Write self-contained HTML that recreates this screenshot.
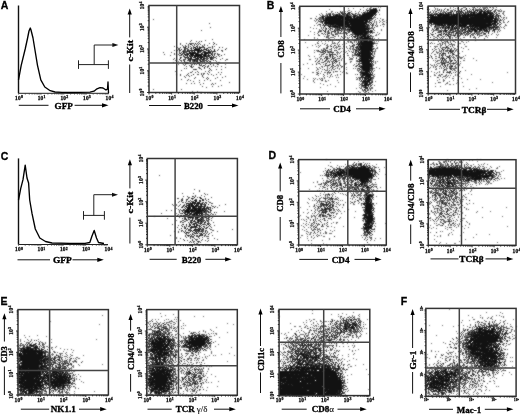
<!DOCTYPE html><html><head><meta charset="utf-8"><style>html,body{margin:0;padding:0;background:#fff;}svg{display:block;filter:grayscale(1);}</style></head><body>
<svg width="520" height="414" viewBox="0 0 520 414">
<defs><filter id="bl" color-interpolation-filters="sRGB" x="0" y="0" width="520" height="414" filterUnits="userSpaceOnUse"><feConvolveMatrix order="3" kernelMatrix="1 2 1 2 12 2 1 2 1" divisor="24" edgeMode="duplicate"/></filter></defs>
<g filter="url(#bl)">
<rect width="520" height="414" fill="#fff"/>
<path d="M201 41h1M195 43h1M214 43h1M190 44h1M196 46h1M212 46h1M185 47h1M188 47h1M194 47h2M197 47h1M199 47h3M204 47h1M219 47h1M191 48h1M193 48h1M195 48h1M199 48h1M207 48h1M181 49h1M184 49h1M194 49h6M201 49h1M204 49h3M210 49h1M214 49h1M225 49h1M179 50h1M187 50h1M190 50h13M206 50h1M208 50h1M214 50h1M183 51h1M187 51h1M189 51h1M194 51h1M197 51h2M200 51h1M204 51h1M208 51h1M213 51h2M183 52h1M189 52h2M192 52h4M197 52h2M204 52h7M212 52h1M180 53h1M187 53h1M189 53h9M201 53h1M204 53h4M181 54h1M184 54h2M187 54h2M190 54h4M195 54h8M204 54h2M208 54h1M211 54h1M214 54h1M185 55h1M187 55h1M189 55h1M191 55h11M203 55h3M208 55h2M212 55h1M221 55h1M187 56h1M190 56h1M192 56h1M194 56h5M200 56h3M204 56h3M208 56h1M213 56h1M180 57h1M185 57h2M188 57h1M191 57h1M193 57h3M197 57h1M199 57h4M210 57h2M180 58h1M190 58h2M196 58h3M200 58h2M203 58h2M210 58h1M179 59h1M188 59h1M190 59h1M192 59h4M197 59h1M202 59h2M210 59h2M190 60h1M194 60h1M197 60h1M200 60h1M184 61h1M190 61h1M194 61h1M196 61h2M200 61h2M207 61h1M210 61h1M197 62h1M204 62h1M190 63h1M194 63h2M197 63h1M209 63h1M199 64h1M210 64h1M203 65h1M191 66h1M202 66h1M204 67h1M209 68h1M195 69h1M193 74h1" stroke="#121212" stroke-width="1" transform="translate(0 0.5)"/>
<path d="M153 19h1M209 23h1M210 27h1M201 30h1M212 39h1M191 40h1M205 40h1M190 41h1M196 41h1M199 41h1M198 42h1M213 42h1M180 43h1M186 43h1M189 43h5M197 43h1M199 43h1M209 43h1M180 44h1M188 44h1M191 44h1M194 44h1M196 44h1M198 44h1M200 44h1M204 44h1M213 44h1M216 44h1M182 45h1M185 45h1M188 45h1M192 45h1M194 45h1M197 45h1M202 45h1M204 45h1M207 45h1M174 46h1M183 46h1M185 46h2M188 46h1M190 46h1M193 46h1M197 46h1M199 46h1M202 46h2M214 46h1M177 47h1M180 47h1M183 47h2M191 47h1M193 47h1M202 47h2M208 47h3M212 47h1M222 47h1M178 48h2M184 48h4M190 48h1M196 48h3M200 48h1M204 48h1M206 48h1M212 48h1M226 48h1M178 49h2M185 49h1M187 49h2M191 49h1M203 49h1M208 49h1M218 49h1M174 50h1M176 50h2M180 50h1M183 50h3M188 50h2M203 50h1M207 50h1M209 50h1M211 50h1M217 50h1M221 50h2M179 51h1M182 51h1M184 51h3M188 51h1M191 51h2M199 51h1M201 51h1M203 51h1M205 51h1M209 51h4M215 51h1M222 51h1M163 52h1M171 52h1M179 52h1M181 52h1M184 52h3M191 52h1M199 52h2M202 52h2M174 53h1M179 53h1M182 53h3M186 53h1M188 53h1M198 53h1M202 53h1M208 53h5M214 53h2M217 53h1M164 54h1M174 54h1M176 54h1M178 54h1M182 54h1M186 54h1M203 54h1M206 54h1M212 54h1M217 54h3M224 54h1M170 55h1M179 55h3M183 55h1M186 55h1M190 55h1M206 55h2M210 55h1M214 55h1M218 55h1M183 56h2M189 56h1M191 56h1M199 56h1M203 56h1M207 56h1M209 56h1M211 56h1M216 56h1M219 56h1M181 57h1M184 57h1M187 57h1M190 57h1M198 57h1M203 57h2M206 57h2M209 57h1M212 57h4M174 58h1M185 58h1M187 58h3M195 58h1M205 58h4M211 58h3M216 58h1M222 58h1M173 59h1M176 59h1M183 59h3M189 59h1M191 59h1M196 59h1M198 59h4M204 59h1M206 59h2M212 59h1M220 59h1M226 59h2M175 60h1M180 60h2M183 60h2M187 60h3M192 60h2M195 60h2M199 60h1M202 60h5M208 60h1M213 60h1M215 60h1M225 60h1M178 61h1M181 61h1M189 61h1M192 61h2M195 61h1M202 61h3M206 61h1M209 61h1M216 61h1M173 62h1M176 62h1M184 62h4M193 62h1M198 62h3M202 62h1M208 62h1M210 62h1M218 62h2M182 63h1M185 63h4M193 63h1M198 63h2M206 63h1M211 63h1M216 63h2M178 64h1M183 64h1M185 64h1M191 64h2M194 64h1M196 64h1M201 64h1M205 64h1M213 64h1M217 64h2M225 64h1M184 65h1M189 65h1M191 65h1M199 65h3M204 65h1M208 65h1M213 65h1M186 66h1M190 66h1M193 66h1M205 66h1M207 66h2M211 66h1M215 66h1M217 66h1M221 66h1M191 67h2M198 67h2M207 67h1M225 67h1M184 68h1M186 68h1M199 68h2M204 68h1M193 69h2M196 69h1M201 69h1M210 69h1M216 69h1M221 69h1M181 70h1M209 70h1M211 70h1M175 71h1M192 71h1M197 71h1M205 71h1M208 71h1M190 72h2M195 72h1M198 72h1M209 72h1M218 72h1M221 72h1M188 73h1M201 73h1M203 73h2M207 73h1M176 74h1M180 74h1M187 74h1M197 74h2M201 74h1M203 74h1M208 74h1M211 74h1M216 74h1M220 74h1M180 75h1M186 75h1M188 75h1M191 75h1M202 75h1M213 75h1M184 76h1M189 76h1M202 76h1M225 76h1M185 77h1M195 77h1M203 77h1M207 77h1M217 77h1M222 77h1M194 78h1M206 78h1M208 78h1M215 78h1M181 79h1M188 79h1M207 79h1M187 80h1M190 80h1M199 80h1M204 80h1M210 80h1M220 80h1M193 81h1M199 82h1M229 82h1M186 83h1M191 83h1M194 83h1M203 83h1M212 83h1M215 83h1M200 84h1M211 84h1M213 84h1M221 85h1M202 86h1M212 86h1M218 86h1M206 87h1M153 89h1M181 89h1M192 91h1M197 91h1M199 92h1M201 92h1" stroke="#4b4b4b" stroke-width="1" transform="translate(0 0.5)"/>
<path d="M373 8h1M375 8h1M372 9h5M367 10h2M370 10h7M379 10h1M369 11h8M349 12h1M367 12h9M344 13h2M347 13h1M364 13h1M366 13h10M330 14h1M336 14h2M339 14h1M343 14h1M347 14h1M352 14h1M362 14h11M374 14h1M327 15h1M329 15h2M333 15h1M335 15h3M339 15h1M341 15h1M346 15h2M355 15h1M359 15h1M362 15h12M375 15h1M322 16h1M327 16h1M330 16h15M346 16h5M353 16h2M357 16h1M361 16h12M322 17h2M325 17h1M327 17h10M338 17h14M353 17h2M356 17h14M371 17h1M323 18h1M325 18h24M350 18h2M354 18h4M359 18h13M323 19h1M325 19h16M342 19h27M323 20h22M346 20h22M322 21h1M325 21h2M328 21h20M349 21h15M365 21h3M369 21h1M322 22h1M325 22h42M324 23h25M350 23h17M323 24h1M330 24h4M336 24h29M366 24h1M330 25h1M335 25h1M338 25h7M347 25h3M351 25h15M324 26h1M328 26h3M332 26h6M339 26h1M342 26h1M345 26h21M367 26h1M334 27h1M337 27h1M339 27h1M342 27h1M346 27h1M348 27h17M367 27h1M326 28h1M330 28h1M340 28h1M343 28h2M350 28h17M368 28h1M347 29h1M349 29h19M323 30h1M325 30h1M328 30h1M334 30h1M349 30h1M351 30h15M368 30h1M370 30h1M335 31h1M341 31h1M353 31h16M371 31h1M345 32h1M352 32h15M370 32h2M354 33h9M364 33h3M335 34h1M355 34h11M333 35h1M357 35h2M360 35h1M363 35h3M370 35h1M351 36h1M354 36h2M357 36h1M361 36h5M367 36h3M357 37h1M360 37h2M364 37h5M356 38h2M360 38h1M362 38h6M369 38h2M357 39h1M359 39h1M362 39h8M372 39h1M358 40h1M360 40h8M369 40h2M372 40h2M358 41h1M361 41h1M364 41h8M358 42h1M360 42h13M352 43h1M359 43h1M361 43h12M356 44h1M358 44h2M361 44h11M358 45h1M360 45h1M362 45h10M331 46h1M357 46h1M359 46h14M360 47h12M358 48h1M360 48h12M359 49h14M325 50h1M355 50h2M359 50h1M361 50h11M324 51h1M358 51h1M361 51h9M371 51h1M325 52h1M352 52h1M358 52h2M361 52h10M357 53h1M359 53h11M371 53h1M359 54h1M361 54h9M371 54h1M330 55h1M358 55h2M361 55h10M360 56h11M361 57h9M371 57h2M324 58h1M356 58h1M360 58h12M361 59h8M370 59h1M360 60h11M335 61h1M359 61h1M361 61h9M334 62h1M362 62h8M371 62h1M361 63h10M358 64h1M362 64h9M325 65h1M328 65h1M333 65h1M363 65h7M371 65h1M359 66h1M361 66h11M360 67h1M362 67h8M362 68h8M363 69h7M363 70h6M365 71h5M371 71h1M330 72h1M360 72h1M362 72h6M362 73h7M370 73h1M363 74h9M362 75h3M366 75h4M361 76h1M365 76h6M363 77h3M368 77h2M362 78h1M364 78h2M367 78h2M370 78h1M366 79h1M368 79h3M361 80h1M363 80h1M365 80h1M367 80h3M363 81h7M365 82h1M367 82h1M369 82h1M365 83h3M364 84h3M368 84h2M362 85h5M368 85h1M365 86h1M364 87h2M367 87h1M367 88h1M364 89h1" stroke="#121212" stroke-width="1" transform="translate(0 0.5)"/>
<path d="M360 9h1M370 9h2M340 11h1M367 11h1M337 12h1M341 12h2M344 12h1M348 12h1M363 12h2M376 12h1M330 13h1M339 13h1M341 13h2M348 13h2M351 13h1M355 13h1M365 13h1M329 14h1M332 14h1M342 14h1M346 14h1M349 14h1M353 14h1M359 14h1M373 14h1M338 15h1M340 15h1M348 15h1M353 15h2M356 15h1M360 15h2M323 16h2M328 16h2M355 16h1M358 16h3M320 17h1M326 17h1M337 17h1M370 17h1M315 18h1M322 18h1M349 18h1M352 18h2M358 18h1M372 18h1M319 19h1M341 19h1M369 19h1M345 20h1M369 20h2M319 21h1M321 21h1M323 21h1M327 21h1M348 21h1M324 22h1M368 22h1M370 22h1M322 23h1M371 23h1M373 23h1M319 24h2M325 24h2M328 24h2M334 24h2M367 24h2M370 24h1M372 24h1M324 25h2M327 25h2M332 25h3M336 25h2M345 25h2M367 25h2M372 25h1M375 25h1M331 26h1M338 26h1M340 26h2M343 26h2M366 26h1M372 26h1M323 27h1M329 27h1M335 27h2M338 27h1M340 27h1M343 27h2M365 27h2M374 27h1M335 28h1M337 28h1M339 28h1M341 28h2M345 28h1M367 28h1M369 28h2M332 29h1M337 29h3M341 29h1M345 29h1M348 29h1M368 29h1M373 29h1M337 30h1M339 30h2M371 30h1M320 31h1M324 31h2M328 31h1M332 31h2M349 31h1M351 31h2M369 31h2M318 32h1M325 32h1M331 32h1M338 32h1M348 32h1M367 32h2M322 33h1M328 33h2M331 33h1M340 33h1M346 33h1M363 33h1M367 33h1M325 34h1M327 34h1M346 34h1M351 34h1M354 34h1M366 34h1M319 35h1M352 35h1M355 35h1M362 35h1M367 35h2M341 36h1M353 36h1M326 37h1M354 37h2M359 37h1M362 37h1M343 38h1M361 38h1M368 38h1M372 38h1M356 39h1M358 39h1M370 39h2M373 39h1M330 40h1M332 40h1M354 40h2M350 41h1M360 41h1M363 41h1M338 42h1M357 43h1M360 43h1M373 43h2M360 44h1M372 44h1M334 45h1M352 45h1M354 45h1M361 45h1M372 45h1M338 46h1M352 46h1M327 47h1M353 47h1M355 47h3M359 47h1M326 48h1M331 48h1M356 48h1M373 48h1M354 49h1M358 49h1M318 50h1M323 50h1M327 50h1M334 50h1M336 50h1M344 50h1M319 51h1M330 51h1M355 51h1M360 51h1M372 51h1M321 52h2M328 52h1M331 52h3M355 52h2M360 52h1M372 52h1M324 53h1M347 53h1M355 53h1M370 53h1M374 53h1M322 54h1M326 54h1M329 54h4M334 54h2M343 54h1M355 54h4M370 54h1M332 55h1M356 55h1M360 55h1M327 56h1M330 56h1M332 56h1M337 56h1M325 57h1M332 57h1M370 57h1M326 58h2M332 58h2M339 58h1M372 58h1M326 59h1M331 59h1M335 59h1M358 59h2M372 59h1M325 60h1M334 60h1M359 60h1M371 60h1M315 61h1M318 61h1M324 61h1M336 61h1M357 61h2M360 61h1M370 61h3M323 62h1M329 62h1M332 62h1M339 62h1M319 63h1M326 63h1M332 63h1M360 63h1M372 63h1M316 64h1M332 64h1M371 64h1M340 65h1M357 65h1M362 65h1M370 65h1M331 66h1M342 66h1M356 66h1M361 67h1M371 67h1M332 68h1M358 68h2M370 68h3M324 69h1M360 69h1M362 69h1M372 69h1M329 70h1M361 70h1M369 70h2M335 71h1M361 71h1M327 72h1M361 72h1M369 72h1M318 73h1M361 73h1M372 73h1M323 74h1M331 74h1M357 74h1M360 74h1M362 74h1M365 75h1M370 75h1M362 76h1M360 77h3M366 77h2M370 77h3M359 78h1M366 78h1M371 78h1M362 79h1M364 79h2M322 80h1M364 80h1M370 80h1M362 81h1M372 81h1M362 82h3M366 82h1M371 82h2M362 83h1M364 83h1M369 83h2M367 84h1M367 85h1M371 85h1M368 86h1M370 86h1M366 87h1M365 88h2M362 89h1M370 89h1M365 90h1M367 90h1M366 91h1M368 92h1M366 93h1" stroke="#2d2d2d" stroke-width="1" transform="translate(0 0.5)"/>
<path d="M340 6h1M373 6h1M376 6h1M363 7h1M370 7h2M378 7h1M380 7h1M348 8h1M353 8h1M367 8h1M369 8h2M374 8h1M376 8h1M329 9h1M366 9h1M369 9h1M379 9h1M348 10h2M363 10h1M366 10h1M369 10h1M377 10h1M326 11h1M331 11h2M342 11h1M345 11h1M347 11h1M351 11h1M355 11h1M359 11h1M365 11h1M377 11h1M331 12h1M335 12h1M340 12h1M350 12h1M358 12h1M361 12h1M365 12h2M378 12h1M321 13h1M326 13h1M328 13h2M332 13h2M338 13h1M343 13h1M352 13h1M356 13h1M358 13h1M362 13h2M319 14h1M322 14h1M326 14h3M333 14h3M338 14h1M340 14h1M344 14h2M348 14h1M350 14h1M354 14h2M357 14h2M360 14h1M375 14h2M379 14h1M320 15h1M322 15h2M325 15h2M334 15h1M342 15h4M349 15h3M357 15h1M316 16h1M321 16h1M325 16h2M345 16h1M351 16h2M356 16h1M374 16h1M319 17h1M321 17h1M355 17h1M373 17h3M310 18h2M318 18h4M324 18h1M373 18h1M377 18h1M380 18h1M316 19h2M320 19h3M324 19h1M370 19h3M375 19h1M382 19h2M314 20h1M316 20h1M318 20h1M320 20h2M371 20h1M374 20h1M379 20h1M382 20h1M386 20h1M315 21h1M318 21h1M320 21h1M324 21h1M364 21h1M368 21h1M372 21h1M374 21h1M376 21h1M380 21h1M383 21h2M317 22h1M320 22h2M367 22h1M369 22h1M371 22h1M374 22h1M376 22h1M379 22h1M382 22h1M386 22h1M316 23h1M349 23h1M369 23h1M376 23h1M383 23h1M318 24h1M327 24h1M365 24h1M373 24h1M376 24h1M382 24h3M314 25h1M317 25h1M320 25h1M322 25h2M326 25h1M329 25h1M331 25h1M350 25h1M366 25h1M369 25h1M371 25h1M373 25h1M377 25h1M380 25h1M320 26h1M368 26h2M376 26h2M383 26h1M310 27h1M321 27h1M325 27h1M330 27h1M332 27h2M345 27h1M347 27h1M368 27h2M371 27h2M313 28h1M316 28h1M321 28h1M323 28h1M325 28h1M328 28h1M331 28h2M336 28h1M338 28h1M347 28h3M371 28h3M319 29h1M322 29h1M325 29h2M329 29h2M334 29h3M342 29h3M346 29h1M369 29h1M381 29h1M319 30h3M330 30h1M335 30h2M338 30h1M341 30h2M344 30h5M350 30h1M366 30h2M372 30h1M374 30h1M381 30h1M310 31h1M318 31h2M321 31h1M327 31h1M331 31h1M334 31h1M337 31h2M344 31h1M347 31h2M350 31h1M372 31h1M314 32h1M327 32h3M334 32h2M337 32h1M340 32h1M343 32h2M346 32h1M349 32h1M369 32h1M372 32h3M377 32h1M317 33h1M321 33h1M324 33h1M327 33h1M335 33h5M341 33h3M345 33h1M347 33h1M352 33h2M368 33h1M370 33h1M372 33h1M379 33h1M314 34h1M318 34h1M323 34h1M331 34h3M336 34h2M350 34h1M352 34h2M367 34h3M376 34h1M378 34h1M308 35h1M318 35h1M327 35h3M332 35h1M338 35h1M344 35h1M347 35h1M349 35h1M356 35h1M359 35h1M361 35h1M366 35h1M371 35h1M375 35h2M324 36h1M326 36h3M334 36h2M338 36h1M345 36h1M356 36h1M358 36h3M366 36h1M370 36h4M314 37h1M327 37h2M330 37h4M342 37h1M345 37h1M347 37h1M349 37h1M352 37h1M358 37h1M363 37h1M369 37h2M372 37h1M314 38h1M317 38h1M328 38h2M334 38h1M340 38h1M347 38h2M352 38h1M358 38h2M371 38h1M374 38h1M378 38h1M304 39h1M323 39h1M326 39h1M328 39h1M330 39h1M336 39h1M338 39h1M352 39h1M354 39h2M360 39h2M339 40h1M348 40h2M353 40h1M356 40h1M371 40h1M318 41h1M321 41h1M325 41h1M328 41h1M332 41h1M339 41h1M347 41h2M351 41h1M354 41h1M356 41h1M359 41h1M362 41h1M372 41h1M374 41h1M376 41h1M378 41h1M305 42h1M317 42h1M332 42h1M334 42h1M344 42h1M348 42h1M350 42h3M354 42h1M356 42h1M359 42h1M373 42h2M317 43h2M322 43h1M325 43h1M332 43h4M337 43h1M344 43h1M346 43h1M358 43h1M375 43h3M315 44h1M324 44h1M327 44h1M331 44h1M337 44h1M339 44h1M342 44h1M344 44h1M353 44h2M357 44h1M373 44h1M312 45h1M318 45h1M320 45h1M326 45h2M330 45h1M335 45h1M338 45h1M349 45h1M353 45h1M359 45h1M376 45h1M316 46h1M319 46h1M327 46h2M330 46h1M333 46h1M336 46h1M339 46h2M343 46h1M346 46h1M350 46h2M353 46h1M356 46h1M358 46h1M373 46h1M307 47h1M318 47h1M326 47h1M333 47h1M335 47h3M346 47h1M350 47h1M358 47h1M372 47h1M377 47h1M323 48h2M327 48h1M334 48h1M336 48h1M339 48h2M342 48h1M347 48h1M349 48h2M352 48h2M357 48h1M359 48h1M372 48h1M374 48h1M376 48h2M321 49h1M323 49h3M329 49h3M338 49h2M350 49h1M352 49h2M355 49h3M373 49h1M375 49h1M314 50h1M316 50h2M321 50h2M326 50h1M331 50h1M335 50h1M348 50h1M353 50h1M357 50h2M360 50h1M372 50h1M375 50h1M317 51h2M320 51h1M322 51h2M325 51h1M327 51h3M331 51h1M337 51h1M341 51h1M343 51h1M346 51h1M349 51h1M351 51h1M353 51h1M356 51h2M370 51h1M373 51h3M314 52h1M320 52h1M323 52h1M327 52h1M329 52h2M336 52h3M340 52h1M345 52h1M353 52h1M374 52h1M323 53h1M329 53h1M332 53h1M337 53h1M339 53h1M354 53h1M358 53h1M372 53h1M319 54h1M321 54h1M323 54h1M327 54h1M333 54h1M337 54h1M352 54h1M354 54h1M360 54h1M372 54h1M374 54h1M308 55h1M321 55h1M329 55h1M336 55h1M340 55h1M347 55h2M352 55h4M357 55h1M372 55h2M309 56h1M314 56h1M320 56h2M323 56h1M325 56h2M329 56h1M333 56h1M339 56h2M343 56h1M352 56h1M357 56h3M371 56h1M373 56h2M319 57h1M326 57h2M330 57h1M334 57h2M340 57h1M344 57h1M349 57h1M353 57h1M356 57h1M359 57h2M373 57h1M315 58h1M317 58h1M320 58h2M328 58h2M334 58h1M337 58h2M342 58h1M350 58h3M359 58h1M373 58h1M309 59h2M317 59h1M320 59h1M322 59h1M327 59h1M333 59h1M336 59h1M341 59h1M349 59h4M360 59h1M369 59h1M371 59h1M316 60h1M319 60h1M322 60h1M326 60h1M328 60h1M330 60h1M333 60h1M335 60h2M338 60h2M341 60h1M356 60h2M373 60h1M319 61h1M325 61h1M327 61h3M331 61h3M337 61h1M344 61h1M350 61h2M356 61h1M373 61h1M375 61h1M377 61h1M317 62h1M321 62h2M327 62h1M336 62h1M350 62h1M359 62h1M361 62h1M373 62h1M375 62h1M307 63h1M316 63h1M318 63h1M325 63h1M333 63h1M335 63h1M339 63h1M345 63h2M356 63h1M358 63h2M371 63h1M375 63h1M303 64h1M312 64h1M320 64h1M323 64h1M325 64h1M329 64h2M337 64h1M339 64h1M345 64h1M354 64h1M359 64h1M372 64h2M326 65h2M329 65h1M332 65h1M336 65h3M353 65h1M356 65h1M359 65h3M372 65h2M321 66h2M324 66h1M327 66h1M332 66h1M334 66h2M338 66h1M341 66h1M355 66h1M358 66h1M360 66h1M372 66h1M316 67h1M319 67h1M322 67h1M327 67h1M330 67h1M332 67h2M337 67h1M341 67h1M346 67h1M370 67h1M372 67h1M376 67h1M300 68h1M308 68h1M317 68h1M320 68h1M327 68h1M329 68h1M335 68h1M337 68h1M339 68h1M344 68h1M353 68h1M355 68h1M357 68h1M361 68h1M373 68h2M379 68h1M317 69h2M322 69h1M327 69h1M331 69h1M333 69h2M339 69h1M346 69h1M357 69h1M359 69h1M361 69h1M370 69h2M316 70h1M325 70h3M331 70h1M357 70h3M362 70h1M371 70h2M374 70h1M318 71h1M321 71h1M328 71h1M333 71h1M336 71h2M340 71h1M343 71h1M358 71h1M360 71h1M362 71h3M373 71h1M312 72h2M316 72h2M324 72h2M328 72h2M333 72h1M342 72h1M346 72h1M359 72h1M368 72h1M370 72h3M317 73h1M320 73h1M327 73h1M329 73h1M346 73h2M360 73h1M369 73h1M301 74h1M316 74h2M327 74h1M337 74h1M340 74h1M355 74h1M361 74h1M372 74h1M374 74h1M318 75h1M324 75h1M330 75h1M335 75h1M337 75h1M360 75h2M371 75h3M304 76h1M323 76h1M327 76h1M330 76h1M332 76h1M363 76h1M373 76h2M324 77h1M329 77h1M336 77h1M338 77h1M356 77h1M358 77h2M373 77h1M303 78h1M313 78h1M315 78h1M319 78h1M321 78h2M324 78h1M357 78h1M360 78h1M369 78h1M372 78h2M307 79h1M314 79h1M317 79h1M320 79h1M322 79h1M356 79h2M359 79h2M367 79h1M371 79h2M313 80h1M321 80h1M325 80h1M328 80h1M337 80h1M359 80h1M366 80h1M371 80h2M313 81h1M325 81h2M360 81h2M371 81h1M375 81h1M314 82h1M338 82h1M368 82h1M370 82h1M320 83h1M359 83h1M361 83h1M363 83h1M371 83h1M323 84h1M330 84h1M360 84h3M370 84h1M372 84h1M327 85h1M359 85h1M361 85h1M370 85h1M374 85h1M335 86h1M361 86h4M366 86h1M320 87h1M359 87h1M361 87h1M363 87h1M369 87h1M371 87h2M356 88h1M360 88h2M369 88h4M365 89h1M367 89h2M362 90h3M368 90h1M370 90h1M375 90h1M327 91h1M358 91h1M363 91h1M365 91h1M372 91h1M359 92h2M364 92h2M356 93h1M369 93h1" stroke="#696969" stroke-width="1" transform="translate(0 0.5)"/>
<path d="M466 8h1M473 9h1M486 9h1M455 10h1M461 10h1M464 10h1M467 10h1M473 10h1M475 10h1M477 10h1M481 10h1M485 10h1M436 11h1M452 11h1M456 11h2M461 11h1M467 11h1M474 11h1M477 11h1M479 11h1M481 11h2M484 11h1M487 11h1M450 12h1M456 12h1M465 12h1M471 12h4M476 12h1M479 12h3M483 12h3M488 12h1M440 13h1M445 13h1M448 13h1M453 13h1M457 13h3M461 13h1M463 13h1M468 13h1M470 13h1M473 13h2M477 13h5M483 13h8M492 13h1M428 14h1M430 14h1M434 14h1M436 14h1M438 14h1M440 14h5M446 14h4M451 14h1M453 14h7M462 14h1M464 14h2M467 14h21M490 14h2M430 15h4M437 15h5M443 15h6M451 15h1M453 15h2M456 15h5M462 15h7M470 15h17M488 15h3M492 15h2M498 15h1M428 16h1M430 16h1M432 16h5M438 16h3M442 16h19M462 16h9M472 16h1M474 16h14M489 16h4M498 16h1M500 16h1M429 17h40M470 17h24M498 17h1M430 18h54M485 18h9M495 18h1M429 19h64M494 19h2M429 20h62M492 20h4M497 20h1M429 21h64M494 21h3M429 22h63M494 22h3M431 23h1M434 23h26M461 23h25M488 23h3M492 23h4M497 23h1M431 24h1M435 24h1M437 24h3M441 24h2M444 24h1M447 24h5M453 24h8M462 24h6M469 24h3M473 24h20M495 24h1M435 25h1M439 25h5M445 25h1M447 25h1M449 25h2M452 25h2M456 25h1M458 25h9M470 25h1M472 25h20M493 25h1M496 25h1M435 26h1M443 26h1M446 26h1M449 26h1M451 26h3M455 26h1M459 26h3M463 26h3M467 26h7M475 26h14M494 26h1M429 27h1M442 27h1M445 27h1M447 27h3M452 27h1M454 27h1M456 27h1M462 27h1M464 27h1M467 27h2M470 27h1M472 27h1M474 27h2M477 27h1M479 27h8M489 27h2M492 27h2M496 27h1M445 28h1M448 28h1M452 28h1M454 28h3M458 28h1M465 28h1M468 28h1M471 28h1M473 28h2M477 28h2M480 28h4M485 28h1M489 28h1M491 28h1M436 29h1M445 29h1M448 29h1M450 29h1M457 29h1M463 29h2M468 29h1M471 29h5M477 29h5M483 29h2M486 29h1M493 29h2M445 30h2M450 30h1M458 30h1M462 30h1M465 30h1M469 30h1M472 30h1M474 30h3M479 30h1M481 30h1M484 30h1M486 30h1M489 30h1M441 31h1M443 31h1M445 31h1M459 31h1M467 31h1M469 31h3M475 31h2M479 31h1M494 31h1M432 32h1M449 32h1M451 32h1M457 32h1M463 32h1M465 32h1M488 32h1M444 33h1M461 33h1M474 33h1M484 33h1M488 33h1M439 34h2M443 34h1M445 34h2M447 35h1M454 35h1M465 35h1M470 35h1M437 38h1M441 39h1M450 46h1M446 47h1M442 49h1M443 50h1M450 50h1M450 51h1M443 53h1M453 54h1M441 55h1M431 56h1M448 57h1M442 58h1M446 58h1M442 59h1M455 60h1M443 61h1M448 62h1M444 63h1M445 65h1M451 66h2M450 68h1M444 69h1M450 71h1M443 72h1" stroke="#121212" stroke-width="1" transform="translate(0 0.5)"/>
<path d="M474 7h1M490 7h1M439 9h1M444 9h1M447 9h1M466 9h1M472 9h1M480 9h2M483 9h1M492 9h1M441 10h1M459 10h1M469 10h1M476 10h1M487 10h2M490 10h2M495 10h1M446 11h1M459 11h2M469 11h3M480 11h1M483 11h1M486 11h1M488 11h1M490 11h1M494 11h1M430 12h1M433 12h1M438 12h1M445 12h1M448 12h2M451 12h1M458 12h1M460 12h1M462 12h2M467 12h1M469 12h1M487 12h1M489 12h4M494 12h1M496 12h1M436 13h1M439 13h1M441 13h1M443 13h1M446 13h1M451 13h1M456 13h1M465 13h1M471 13h1M491 13h1M499 13h1M431 14h1M433 14h1M435 14h1M437 14h1M439 14h1M445 14h1M450 14h1M489 14h1M493 14h1M496 14h2M428 15h2M435 15h1M442 15h1M449 15h1M452 15h1M455 15h1M461 15h1M469 15h1M487 15h1M491 15h1M496 15h1M431 16h1M437 16h1M441 16h1M471 16h1M473 16h1M488 16h1M493 16h1M495 16h1M428 17h1M495 17h2M428 18h1M484 18h1M494 18h1M496 18h1M428 19h1M496 19h2M500 19h1M491 20h1M500 20h1M493 21h1M499 21h1M508 21h1M428 22h1M500 22h1M428 23h1M430 23h1M433 23h1M460 23h1M486 23h2M498 23h1M428 24h1M433 24h1M436 24h1M440 24h1M445 24h1M452 24h1M461 24h1M468 24h1M472 24h1M493 24h2M497 24h1M500 24h1M437 25h2M444 25h1M448 25h1M451 25h1M454 25h1M469 25h1M471 25h1M495 25h1M434 26h1M448 26h1M457 26h1M462 26h1M474 26h1M489 26h1M493 26h1M497 26h2M440 27h1M443 27h1M451 27h1M458 27h2M461 27h1M466 27h1M476 27h1M488 27h1M491 27h1M494 27h2M497 27h1M436 28h3M440 28h1M442 28h1M446 28h1M451 28h1M457 28h1M459 28h1M461 28h2M469 28h2M472 28h1M476 28h1M479 28h1M484 28h1M486 28h1M493 28h1M495 28h1M451 29h3M455 29h1M460 29h1M465 29h1M470 29h1M489 29h1M495 29h1M440 30h1M444 30h1M447 30h1M451 30h1M455 30h1M457 30h1M468 30h1M480 30h1M485 30h1M487 30h1M493 30h2M433 31h1M440 31h1M446 31h1M453 31h3M462 31h1M466 31h1M474 31h1M484 31h5M438 32h2M452 32h2M456 32h1M458 32h1M464 32h1M467 32h2M435 33h1M441 33h1M448 33h1M455 33h3M459 33h1M466 33h1M469 33h1M476 33h1M481 33h1M485 33h1M431 34h2M449 34h2M455 34h1M458 34h1M460 34h1M468 34h1M471 34h1M477 34h1M437 35h1M441 35h1M448 35h1M453 35h1M455 35h1M457 35h1M477 35h1M481 35h1M448 36h3M457 36h2M470 36h1M430 37h1M441 37h1M449 37h1M473 37h1M449 38h2M475 38h1M455 39h1M484 39h1M447 40h1M450 40h1M452 40h2M475 40h1M438 41h1M447 41h1M442 42h1M430 43h1M451 43h1M442 44h1M452 45h1M446 46h1M443 47h1M445 48h1M448 48h1M451 48h1M432 49h1M450 49h1M441 50h1M447 50h1M453 50h1M433 51h1M449 51h1M452 51h1M448 52h1M451 52h1M458 52h1M440 53h1M442 53h1M444 53h2M448 53h1M452 53h1M439 55h1M445 55h1M449 55h1M456 55h1M442 56h1M447 56h1M449 56h1M439 57h1M432 58h1M443 58h1M449 58h1M444 59h1M441 60h1M451 60h2M441 61h1M450 61h2M441 62h1M447 62h1M442 63h2M449 63h1M452 63h3M442 64h1M444 64h1M447 64h1M447 65h1M443 66h1M445 66h1M449 66h1M444 67h1M451 69h1M460 71h1M447 72h3M455 72h1M459 72h1M451 73h1M441 74h1M437 77h1M438 82h1" stroke="#2d2d2d" stroke-width="1" transform="translate(0 0.5)"/>
<path d="M457 6h1M468 6h1M471 6h1M474 6h1M476 6h1M478 6h2M486 6h1M495 6h1M434 7h1M450 7h1M453 7h1M463 7h3M472 7h2M477 7h1M480 7h1M482 7h6M489 7h1M492 7h2M496 7h1M435 8h1M437 8h1M445 8h1M450 8h1M455 8h1M457 8h2M461 8h2M469 8h1M473 8h1M475 8h1M479 8h1M483 8h3M487 8h1M493 8h1M429 9h1M435 9h1M437 9h1M441 9h1M448 9h1M453 9h1M460 9h2M465 9h1M470 9h1M475 9h5M484 9h1M488 9h1M495 9h2M500 9h1M432 10h1M434 10h1M437 10h3M443 10h1M447 10h2M450 10h3M454 10h1M458 10h1M463 10h1M471 10h1M478 10h3M482 10h1M484 10h1M489 10h1M494 10h1M497 10h3M501 10h1M430 11h1M433 11h1M435 11h1M440 11h2M443 11h2M450 11h2M454 11h1M458 11h1M462 11h1M465 11h1M468 11h1M473 11h1M475 11h1M485 11h1M489 11h1M493 11h1M495 11h1M498 11h4M503 11h2M429 12h1M435 12h1M440 12h1M442 12h3M447 12h1M453 12h1M459 12h1M461 12h1M466 12h1M468 12h1M470 12h1M475 12h1M478 12h1M486 12h1M503 12h1M428 13h2M431 13h2M434 13h2M437 13h1M442 13h1M447 13h1M449 13h2M460 13h1M464 13h1M466 13h2M472 13h1M475 13h2M482 13h1M493 13h1M495 13h2M498 13h1M502 13h2M429 14h1M432 14h1M452 14h1M460 14h2M463 14h1M466 14h1M492 14h1M494 14h1M503 14h1M450 15h1M495 15h1M497 15h1M499 15h2M504 15h1M461 16h1M494 16h1M496 16h2M469 17h1M501 17h1M503 17h2M506 17h1M497 18h3M503 18h1M506 18h1M498 19h1M502 19h1M504 19h1M496 20h1M498 20h2M501 20h1M503 20h1M428 21h1M497 21h1M503 21h1M492 22h2M497 22h1M499 22h1M503 22h2M507 22h1M429 23h1M491 23h1M501 23h1M429 24h1M432 24h1M434 24h1M443 24h1M446 24h1M496 24h1M499 24h1M505 24h1M430 25h2M436 25h1M457 25h1M494 25h1M499 25h1M505 25h2M428 26h1M431 26h1M436 26h4M441 26h2M444 26h2M447 26h1M456 26h1M458 26h1M466 26h1M490 26h3M495 26h2M500 26h1M504 26h1M434 27h6M441 27h1M444 27h1M446 27h1M450 27h1M453 27h1M455 27h1M457 27h1M463 27h1M465 27h1M471 27h1M473 27h1M478 27h1M487 27h1M498 27h2M501 27h1M503 27h1M428 28h1M432 28h1M434 28h1M443 28h2M447 28h1M449 28h2M453 28h1M464 28h1M466 28h2M475 28h1M487 28h2M490 28h1M492 28h1M496 28h2M499 28h1M504 28h1M428 29h1M432 29h2M435 29h1M437 29h2M441 29h1M444 29h1M454 29h1M458 29h1M461 29h2M466 29h1M469 29h1M476 29h1M482 29h1M485 29h1M487 29h2M490 29h2M496 29h4M431 30h1M433 30h7M441 30h3M449 30h1M452 30h2M456 30h1M459 30h3M463 30h2M467 30h1M470 30h2M473 30h1M477 30h1M482 30h2M492 30h1M498 30h1M500 30h1M438 31h2M444 31h1M448 31h3M452 31h1M456 31h2M460 31h2M464 31h2M468 31h1M472 31h1M477 31h2M480 31h1M482 31h1M489 31h1M492 31h1M497 31h1M499 31h1M428 32h1M437 32h1M440 32h2M443 32h1M445 32h4M450 32h1M459 32h3M470 32h2M474 32h6M481 32h3M486 32h1M494 32h1M497 32h1M430 33h1M443 33h1M446 33h1M449 33h1M451 33h1M453 33h1M460 33h1M462 33h3M467 33h2M470 33h1M472 33h2M477 33h4M483 33h1M492 33h1M433 34h1M438 34h1M441 34h1M447 34h2M451 34h1M453 34h1M457 34h1M461 34h2M464 34h4M472 34h2M475 34h1M478 34h2M483 34h3M491 34h1M496 34h1M498 34h1M429 35h1M432 35h1M438 35h1M440 35h1M445 35h1M450 35h3M458 35h3M463 35h1M467 35h1M472 35h2M479 35h2M482 35h1M486 35h1M488 35h1M497 35h1M433 36h2M437 36h2M442 36h3M446 36h1M454 36h1M459 36h1M474 36h1M479 36h1M485 36h2M435 37h2M439 37h1M443 37h1M450 37h1M452 37h1M455 37h2M463 37h2M470 37h1M474 37h2M478 37h1M487 37h1M496 37h1M433 38h2M440 38h1M442 38h1M445 38h1M447 38h1M452 38h1M458 38h1M460 38h1M484 38h1M439 39h1M442 39h2M445 39h2M456 39h1M458 39h1M461 39h1M433 40h1M440 40h2M443 40h1M466 40h1M441 41h1M444 41h3M450 41h1M453 41h2M461 41h2M468 41h1M431 42h1M443 42h1M445 42h1M447 42h2M450 42h1M455 42h1M463 42h1M466 42h1M428 43h1M432 43h1M434 43h1M439 43h2M442 43h1M444 43h2M448 43h1M459 43h2M437 44h2M440 44h1M445 44h1M449 44h6M464 44h1M440 45h2M445 45h1M448 45h1M454 45h1M430 46h1M434 46h4M440 46h1M447 46h1M452 46h1M457 46h2M465 46h2M435 47h1M440 47h1M442 47h1M444 47h2M447 47h2M453 47h1M461 47h1M434 48h1M438 48h1M441 48h2M447 48h1M449 48h1M454 48h2M463 48h1M435 49h2M439 49h1M443 49h2M447 49h1M451 49h1M454 49h1M456 49h2M468 49h1M434 50h1M439 50h1M445 50h2M448 50h2M451 50h2M455 50h2M458 50h1M436 51h1M439 51h3M443 51h1M445 51h3M451 51h1M453 51h1M455 51h1M457 51h1M462 51h1M432 52h1M436 52h3M441 52h1M443 52h1M450 52h1M452 52h1M454 52h1M428 53h1M431 53h1M437 53h1M439 53h1M450 53h1M453 53h1M459 53h1M434 54h2M439 54h1M441 54h3M445 54h1M452 54h1M454 54h1M458 54h1M430 55h1M442 55h2M450 55h1M452 55h1M455 55h1M457 55h1M465 55h1M435 56h2M439 56h1M446 56h1M448 56h1M451 56h1M453 56h1M456 56h1M458 56h2M463 56h1M428 57h2M431 57h1M438 57h1M441 57h3M447 57h1M449 57h2M452 57h3M457 57h1M459 57h4M435 58h2M440 58h2M444 58h1M450 58h1M453 58h1M455 58h1M457 58h2M460 58h2M464 58h1M473 58h1M440 59h1M445 59h1M449 59h2M454 59h1M433 60h1M435 60h1M437 60h3M442 60h5M449 60h2M454 60h1M457 60h1M463 60h2M476 60h1M436 61h2M445 61h2M448 61h1M456 61h1M460 61h1M435 62h1M440 62h1M442 62h5M450 62h1M453 62h1M455 62h2M458 62h1M437 63h3M441 63h1M445 63h1M450 63h2M455 63h1M457 63h1M460 63h1M430 64h1M434 64h1M436 64h1M441 64h1M448 64h1M450 64h1M453 64h1M456 64h4M431 65h2M434 65h1M437 65h1M440 65h1M442 65h1M444 65h1M450 65h3M455 65h1M459 65h1M433 66h1M435 66h2M439 66h2M447 66h1M450 66h1M454 66h2M458 66h1M430 67h1M433 67h1M435 67h1M441 67h1M446 67h1M449 67h3M455 67h2M462 67h1M429 68h1M436 68h1M439 68h1M441 68h1M443 68h1M446 68h2M449 68h1M451 68h6M435 69h2M445 69h2M450 69h1M453 69h2M443 70h2M446 70h1M452 70h1M454 70h2M458 70h1M465 70h1M431 71h1M439 71h1M443 71h1M447 71h1M449 71h1M456 71h1M434 72h1M437 72h1M439 72h1M446 72h1M450 72h1M453 72h1M507 72h1M436 73h1M449 73h1M459 73h1M434 74h1M439 74h1M442 74h1M446 74h1M455 74h1M457 74h1M471 74h1M434 75h2M438 75h3M445 75h2M448 75h1M450 75h1M455 75h1M457 75h1M430 76h1M440 76h1M443 76h3M447 76h1M453 76h1M459 76h1M438 77h1M442 77h1M446 77h1M449 77h1M445 78h1M452 78h2M461 78h1M439 79h1M443 79h1M467 79h1M480 79h1M437 80h1M443 80h2M453 80h1M457 80h1M443 81h1M449 81h1M439 82h2M447 82h1M457 82h1M462 82h1M492 82h1M435 83h1M446 83h2M456 83h1M458 83h1M445 84h1M449 84h2M453 84h1M435 86h1M440 86h1M463 86h1M476 88h1M469 89h1M447 90h1" stroke="#696969" stroke-width="1" transform="translate(0 0.5)"/>
<path d="M192 196h1M194 197h1M200 197h1M191 198h2M200 198h2M187 199h1M202 199h1M208 199h1M182 200h1M194 200h3M199 200h2M202 200h2M188 201h1M195 201h2M200 201h1M192 202h4M197 202h3M205 202h1M186 203h3M190 203h3M194 203h2M197 203h3M202 203h1M189 204h1M191 204h2M194 204h1M196 204h1M198 204h1M200 204h2M205 204h1M208 204h1M183 205h1M187 205h3M191 205h3M195 205h3M201 205h1M205 205h1M185 206h2M188 206h2M191 206h6M198 206h5M204 206h1M182 207h1M187 207h4M192 207h3M198 207h1M200 207h1M204 207h1M207 207h1M210 207h1M214 207h1M185 208h1M187 208h4M192 208h9M202 208h3M206 208h1M208 208h1M183 209h1M186 209h4M191 209h2M194 209h3M198 209h3M202 209h1M204 209h1M208 209h1M185 210h4M190 210h14M205 210h1M210 210h1M182 211h1M185 211h10M196 211h6M204 211h1M208 211h1M185 212h1M187 212h3M191 212h1M195 212h5M201 212h1M204 212h1M208 212h1M214 212h1M182 213h1M184 213h1M187 213h1M190 213h2M194 213h9M185 214h3M189 214h2M192 214h3M196 214h2M199 214h1M201 214h1M207 214h1M177 215h1M181 215h1M183 215h2M188 215h1M192 215h3M196 215h5M202 215h1M183 216h1M188 216h2M191 216h1M193 216h1M195 216h3M202 216h1M188 217h6M195 217h1M197 217h2M201 217h2M205 217h1M182 218h1M185 218h1M192 218h1M195 218h1M197 218h1M200 218h1M208 218h1M186 219h1M192 219h1M195 219h1M198 219h2M201 219h1M191 220h2M194 220h1M197 220h2M200 220h1M204 220h1M193 221h2M198 221h1M201 221h1M190 222h2M197 222h2M204 222h2M194 223h2M200 223h2M207 223h1M183 224h1M186 224h1M189 224h1M193 224h2M196 224h1M203 224h1M208 224h1M190 225h1M194 225h1M196 225h2M199 225h1M206 225h1M209 225h1M182 226h1M184 226h1M188 226h1M191 226h1M194 226h3M199 226h1M203 226h1M190 227h4M195 227h1M207 227h1M181 228h1M185 228h1M187 228h1M198 228h1M200 228h1M206 228h1M194 229h4M199 229h1M203 229h1M188 230h1M191 230h1M193 230h2M198 230h2M190 231h1M192 231h1M195 231h1M201 231h1M205 231h1M184 232h1M186 232h2M196 232h1M195 233h1M197 233h1M201 233h1M192 234h1M202 234h1M208 234h1M187 235h2M194 235h1M199 235h2M202 235h1M190 236h1M184 240h1M192 240h1M190 241h1M198 241h1M197 244h1" stroke="#121212" stroke-width="1" transform="translate(0 0.5)"/>
<path d="M159 175h1M194 189h1M199 190h1M199 191h1M182 193h1M193 193h1M204 193h1M205 194h1M207 194h1M195 195h1M201 195h1M183 196h1M187 196h1M193 196h1M195 196h1M204 196h1M188 197h2M197 197h1M199 197h1M211 197h1M177 198h2M182 198h1M188 198h1M193 198h1M205 198h1M181 199h2M186 199h1M192 199h1M195 199h2M203 199h1M205 199h1M181 200h1M186 200h1M190 200h1M206 200h1M179 201h1M181 201h1M186 201h1M189 201h1M191 201h3M199 201h1M208 201h1M178 202h1M182 202h2M185 202h1M190 202h1M202 202h2M206 202h1M209 202h2M189 203h1M193 203h1M196 203h1M200 203h2M204 203h1M206 203h1M211 203h2M172 204h1M176 204h1M180 204h1M184 204h1M186 204h1M188 204h1M190 204h1M197 204h1M202 204h3M225 204h1M173 205h1M176 205h1M179 205h1M184 205h1M186 205h1M190 205h1M198 205h1M200 205h1M204 205h1M211 205h1M219 205h1M178 206h1M182 206h2M190 206h1M197 206h1M203 206h1M205 206h1M207 206h1M212 206h2M215 206h1M181 207h1M184 207h1M186 207h1M195 207h2M199 207h1M201 207h1M203 207h1M206 207h1M208 207h2M217 207h1M176 208h1M201 208h1M205 208h1M207 208h1M210 208h1M212 208h1M178 209h1M180 209h1M184 209h1M190 209h1M193 209h1M197 209h1M201 209h1M203 209h1M205 209h2M209 209h2M166 210h1M171 210h1M179 210h1M181 210h4M189 210h1M204 210h1M206 210h2M211 210h1M179 211h1M184 211h1M195 211h1M202 211h2M205 211h3M210 211h1M224 211h1M179 212h1M183 212h2M186 212h1M192 212h3M200 212h1M202 212h2M205 212h2M209 212h2M216 212h1M161 213h1M176 213h1M180 213h2M185 213h1M188 213h2M193 213h1M205 213h2M211 213h1M178 214h1M191 214h1M195 214h1M202 214h5M208 214h1M210 214h1M212 214h2M215 214h1M175 215h1M180 215h1M185 215h3M189 215h1M195 215h1M201 215h1M205 215h1M208 215h2M154 216h1M179 216h2M182 216h1M185 216h1M190 216h1M194 216h1M198 216h1M200 216h2M205 216h5M211 216h1M213 216h1M179 217h1M184 217h2M187 217h1M196 217h1M199 217h1M203 217h2M206 217h1M208 217h2M212 217h1M167 218h1M184 218h1M188 218h1M190 218h1M193 218h1M196 218h1M201 218h3M206 218h2M211 218h1M184 219h2M188 219h2M196 219h2M200 219h1M202 219h2M206 219h1M208 219h2M176 220h1M182 220h2M186 220h2M190 220h1M199 220h1M201 220h3M206 220h3M211 220h1M180 221h2M184 221h2M190 221h2M195 221h1M197 221h1M199 221h2M202 221h2M205 221h1M207 221h2M180 222h1M182 222h2M188 222h1M192 222h1M195 222h2M200 222h3M208 222h1M213 222h1M189 223h1M191 223h1M193 223h1M196 223h1M198 223h2M204 223h1M208 223h2M172 224h1M182 224h1M190 224h1M192 224h1M197 224h1M200 224h1M202 224h1M204 224h2M207 224h1M210 224h1M178 225h1M181 225h1M186 225h1M189 225h1M198 225h1M201 225h1M214 225h1M186 226h1M189 226h1M192 226h2M200 226h1M204 226h1M208 226h1M210 226h1M177 227h1M184 227h2M194 227h1M196 227h2M199 227h1M201 227h1M204 227h1M206 227h1M211 227h1M184 228h1M190 228h2M195 228h1M199 228h1M202 228h2M205 228h1M209 228h1M179 229h1M186 229h1M188 229h3M198 229h1M200 229h3M210 229h2M232 229h1M181 230h2M185 230h1M189 230h2M195 230h3M201 230h3M205 230h2M212 230h2M174 231h1M178 231h1M181 231h1M183 231h1M185 231h1M196 231h5M202 231h2M207 231h1M217 231h1M178 232h1M188 232h2M193 232h2M198 232h1M202 232h1M205 232h1M207 232h1M211 232h1M185 233h2M188 233h1M192 233h1M194 233h1M196 233h1M199 233h2M203 233h2M206 233h1M209 233h1M186 234h1M190 234h1M193 234h1M200 234h2M205 234h1M170 235h1M185 235h1M189 235h1M191 235h1M196 235h2M201 235h1M204 235h2M212 235h1M185 236h1M188 236h1M191 236h3M196 236h4M204 236h1M206 236h3M176 237h1M186 237h1M190 237h1M192 237h2M198 237h1M202 237h1M176 238h1M180 238h1M190 238h1M194 238h1M199 238h1M207 238h2M214 238h1M183 239h1M192 239h1M195 239h3M202 239h1M217 239h1M187 240h1M196 240h1M201 240h1M205 240h1M208 240h1M178 241h1M193 241h2M197 241h1M199 241h1M207 241h1M189 242h1M191 242h1M193 242h1M198 242h1M200 242h1M194 243h1M196 243h2M205 244h1" stroke="#4b4b4b" stroke-width="1" transform="translate(0 0.5)"/>
<path d="M360 164h1M348 165h1M363 165h1M351 166h2M361 166h4M367 166h1M349 167h1M352 167h2M356 167h1M358 167h4M363 167h3M369 167h1M337 168h1M348 168h1M351 168h2M354 168h1M356 168h1M358 168h11M328 169h1M336 169h1M340 169h2M347 169h1M349 169h20M371 169h1M334 170h1M339 170h2M342 170h2M346 170h1M348 170h25M332 171h1M337 171h2M340 171h2M343 171h2M348 171h21M372 171h1M375 171h1M327 172h1M330 172h2M336 172h3M340 172h3M344 172h1M346 172h25M372 172h1M333 173h3M337 173h7M346 173h26M326 174h1M328 174h1M331 174h1M333 174h1M335 174h2M338 174h4M346 174h26M328 175h1M330 175h1M332 175h1M334 175h3M338 175h2M341 175h3M347 175h1M349 175h1M351 175h1M353 175h19M373 175h1M328 176h1M333 176h1M335 176h1M339 176h1M345 176h1M347 176h2M351 176h21M333 177h1M338 177h1M352 177h18M371 177h1M339 178h1M356 178h12M371 178h1M354 179h1M360 179h9M351 180h1M355 180h1M359 180h6M366 180h1M368 180h1M333 181h1M361 181h7M369 181h1M336 182h1M351 182h1M355 182h1M361 182h3M365 182h1M333 183h1M340 183h1M344 183h1M354 183h2M360 183h1M362 183h1M364 183h1M340 184h1M349 184h1M356 184h1M360 184h3M332 185h1M336 185h1M354 185h3M359 185h1M361 185h1M364 185h1M366 185h1M370 185h1M331 186h1M343 186h1M357 186h1M360 186h1M367 186h1M372 186h1M334 187h1M344 187h1M352 187h1M366 187h3M358 188h1M362 188h1M332 189h1M355 189h1M361 189h1M363 189h1M367 189h1M335 190h1M356 190h1M359 190h1M364 190h1M366 190h1M368 190h1M364 191h1M368 191h2M366 192h1M368 192h2M367 193h1M328 194h1M366 194h1M369 194h2M354 195h1M366 195h1M368 195h3M367 196h3M371 196h1M331 197h1M366 197h4M365 198h1M367 198h3M332 199h1M366 199h4M357 200h1M366 200h3M371 200h1M323 201h1M332 201h1M365 201h2M368 201h2M371 201h1M326 202h1M329 202h1M366 202h3M370 202h1M321 203h1M364 203h7M324 204h1M326 204h1M363 204h2M366 204h6M323 205h1M329 205h1M332 205h1M365 205h7M328 206h1M332 206h1M365 206h7M318 207h1M327 207h1M331 207h1M364 207h1M366 207h6M325 208h1M328 208h1M333 208h1M365 208h7M322 209h1M324 209h2M329 209h1M365 209h7M373 209h1M321 210h1M365 210h6M326 211h1M329 211h1M364 211h1M366 211h6M322 212h2M325 212h1M332 212h1M365 212h1M367 212h5M325 213h1M365 213h6M327 214h1M364 214h2M368 214h2M322 215h1M364 215h3M368 215h5M364 216h1M366 216h7M364 217h9M324 218h1M363 218h2M366 218h7M365 219h1M367 219h6M365 220h1M367 220h6M365 221h7M327 222h1M367 222h5M316 223h1M364 223h1M366 223h4M373 223h1M364 224h3M368 224h2M372 224h1M365 225h2M368 225h1M370 225h2M363 226h1M365 226h1M367 226h4M315 227h1M365 227h7M364 228h3M368 228h1M370 228h2M366 229h1M368 229h1M366 230h2M370 230h1M364 231h1M366 231h1M371 231h1M364 232h1M367 232h1M369 232h1M368 233h1M367 234h1M369 234h1" stroke="#121212" stroke-width="1" transform="translate(0 0.5)"/>
<path d="M354 162h1M356 163h1M360 163h2M355 164h1M358 164h1M361 164h1M364 164h1M353 165h2M356 165h1M358 165h1M360 165h2M366 165h1M369 165h1M346 166h1M348 166h1M357 166h1M365 166h1M345 167h1M347 167h1M350 167h1M354 167h2M357 167h1M362 167h1M368 167h1M375 167h1M339 168h1M345 168h1M347 168h1M350 168h1M353 168h1M355 168h1M370 168h2M330 169h1M339 169h1M342 169h2M346 169h1M348 169h1M369 169h1M379 169h1M327 170h1M332 170h1M336 170h1M347 170h1M374 170h1M327 171h1M331 171h1M334 171h1M342 171h1M346 171h2M369 171h2M326 172h1M333 172h1M339 172h1M343 172h1M345 172h1M375 172h2M326 173h1M328 173h1M331 173h2M344 173h1M372 173h1M330 174h1M337 174h1M343 174h3M372 174h1M374 174h1M326 175h1M340 175h1M344 175h1M348 175h1M350 175h1M352 175h1M372 175h1M327 176h1M331 176h1M336 176h2M341 176h2M346 176h1M350 176h1M373 176h1M334 177h1M343 177h3M349 177h2M370 177h1M372 177h1M342 178h3M350 178h1M352 178h2M355 178h1M368 178h2M339 179h1M344 179h1M346 179h1M355 179h4M330 180h2M338 180h1M353 180h1M365 180h1M367 180h1M328 181h2M344 181h1M346 181h1M352 181h1M360 181h1M325 182h1M328 182h1M331 182h1M348 182h1M364 182h1M367 182h1M370 182h1M321 183h1M326 183h1M334 183h2M361 183h1M365 183h1M320 184h1M325 184h1M331 184h1M337 184h1M352 184h1M355 184h1M357 184h1M359 184h1M364 184h1M324 185h1M328 185h1M330 185h1M340 185h2M345 185h2M350 185h2M358 185h1M365 185h1M369 185h1M337 186h1M363 186h1M365 186h1M368 186h1M376 186h1M324 187h1M349 187h1M353 187h2M357 187h1M363 187h1M369 187h1M371 187h1M327 188h1M331 188h1M337 188h1M341 188h1M350 188h1M354 188h1M367 188h1M336 189h1M339 189h1M341 189h1M349 189h1M354 189h1M356 189h1M358 189h1M362 189h1M369 189h1M371 189h1M342 190h1M346 190h1M351 190h1M353 190h1M361 190h3M367 190h1M373 190h1M370 191h1M334 192h1M365 192h1M353 193h1M361 193h1M366 193h1M329 194h1M354 194h1M358 194h1M365 194h1M373 194h1M325 195h1M329 195h1M352 195h1M357 195h1M364 195h1M367 195h1M371 195h2M316 196h1M370 196h1M372 196h1M357 197h1M324 198h2M330 198h3M360 198h1M363 198h1M366 198h1M370 198h1M372 198h1M325 199h1M328 199h1M365 199h1M370 199h2M318 200h1M361 200h1M365 200h1M369 200h1M321 201h1M328 201h1M367 201h1M333 202h1M336 202h1M352 202h1M371 202h1M322 203h2M326 203h1M328 203h1M361 203h1M363 203h1M372 203h2M320 204h1M322 204h2M325 204h1M327 204h2M330 204h1M343 204h1M314 205h1M321 205h1M326 205h2M330 205h1M333 205h1M320 206h2M326 206h1M372 206h1M324 207h1M330 207h1M362 207h1M365 207h1M321 208h1M326 208h2M329 208h1M372 208h1M326 209h1M331 209h1M338 209h1M311 210h1M320 210h1M323 210h1M325 210h1M329 210h2M372 210h2M322 211h1M325 211h1M365 211h1M315 212h1M324 212h1M366 212h1M371 213h2M320 214h1M328 214h1M363 214h1M366 214h1M370 214h4M319 215h2M323 215h1M325 215h1M329 215h2M333 215h1M363 215h1M322 216h2M365 216h1M317 218h1M328 218h1M330 218h1M373 218h1M313 219h1M313 220h1M324 220h1M366 220h1M306 221h1M320 221h1M373 221h2M313 222h1M366 222h1M365 223h1M371 223h2M319 224h1M322 224h1M367 224h1M317 225h1M322 225h1M364 225h1M367 225h1M321 226h1M327 226h1M366 226h1M371 226h2M363 227h2M367 228h1M369 228h1M315 229h1M364 229h2M367 229h1M372 229h3M312 230h1M320 230h1M368 230h1M318 231h1M367 231h1M369 231h1M314 232h1M365 232h1M368 232h1M370 232h1M364 234h1M372 234h1M366 235h1M317 236h1M334 236h1M371 237h1M364 239h1M367 239h1M367 242h1" stroke="#2d2d2d" stroke-width="1" transform="translate(0 0.5)"/>
<path d="M326 159h1M358 161h1M330 162h1M363 162h1M353 163h1M358 163h2M365 163h1M367 163h1M369 163h1M345 164h1M352 164h2M356 164h1M359 164h1M366 164h1M376 164h1M328 165h1M337 165h1M349 165h3M355 165h1M359 165h1M364 165h1M368 165h1M372 165h1M330 166h2M339 166h1M341 166h1M343 166h1M347 166h1M349 166h1M353 166h2M360 166h1M366 166h1M369 166h2M373 166h2M332 167h1M336 167h1M339 167h1M346 167h1M351 167h1M366 167h2M370 167h1M372 167h1M374 167h1M376 167h1M378 167h1M384 167h1M325 168h1M333 168h2M338 168h1M340 168h1M344 168h1M346 168h1M349 168h1M357 168h1M369 168h1M372 168h1M374 168h1M333 169h3M337 169h2M344 169h2M372 169h3M325 170h1M328 170h2M333 170h1M338 170h1M341 170h1M344 170h2M373 170h1M375 170h1M323 171h1M326 171h1M329 171h2M335 171h2M339 171h1M345 171h1M371 171h1M373 171h2M379 171h1M300 172h1M328 172h2M332 172h1M334 172h2M374 172h1M324 173h1M330 173h1M336 173h1M345 173h1M374 173h2M377 173h1M325 174h1M327 174h1M329 174h1M334 174h1M373 174h1M375 174h1M378 174h1M385 174h1M320 175h1M322 175h1M324 175h2M327 175h1M331 175h1M333 175h1M337 175h1M345 175h2M375 175h1M326 176h1M329 176h1M334 176h1M340 176h1M344 176h1M349 176h1M372 176h1M374 176h1M376 176h1M327 177h1M330 177h3M335 177h1M339 177h4M322 178h1M327 178h2M332 178h1M334 178h1M338 178h1M340 178h1M345 178h1M347 178h3M354 178h1M370 178h1M372 178h1M378 178h1M329 179h1M331 179h4M336 179h3M342 179h2M348 179h1M350 179h2M359 179h1M370 179h2M373 179h3M323 180h1M326 180h2M333 180h4M340 180h1M343 180h2M347 180h1M349 180h2M352 180h1M357 180h1M369 180h3M317 181h1M326 181h2M330 181h1M332 181h1M335 181h1M338 181h3M343 181h1M349 181h1M351 181h1M353 181h1M357 181h2M368 181h1M370 181h2M313 182h1M317 182h1M323 182h1M326 182h2M330 182h1M333 182h1M335 182h1M338 182h3M344 182h2M350 182h1M352 182h1M356 182h4M366 182h1M368 182h1M371 182h1M375 182h1M323 183h3M330 183h1M332 183h1M336 183h2M339 183h1M341 183h1M343 183h1M345 183h1M347 183h2M351 183h1M356 183h1M358 183h1M363 183h1M366 183h2M369 183h1M372 183h1M318 184h2M321 184h1M324 184h1M327 184h1M332 184h4M339 184h1M341 184h1M345 184h2M348 184h1M350 184h2M354 184h1M358 184h1M363 184h1M365 184h3M371 184h6M326 185h1M333 185h2M337 185h3M362 185h2M367 185h1M373 185h1M315 186h1M320 186h1M322 186h2M327 186h1M335 186h2M341 186h1M345 186h1M348 186h6M355 186h2M358 186h2M361 186h2M364 186h1M366 186h1M371 186h1M374 186h2M323 187h1M325 187h1M330 187h2M333 187h1M339 187h3M343 187h1M345 187h2M348 187h1M350 187h2M355 187h2M358 187h1M362 187h1M364 187h1M370 187h1M373 187h1M376 187h1M380 187h1M319 188h1M322 188h1M336 188h1M340 188h1M342 188h1M347 188h3M351 188h2M355 188h3M360 188h2M365 188h2M368 188h3M377 188h1M309 189h1M325 189h1M327 189h1M342 189h1M344 189h1M347 189h2M352 189h2M359 189h1M364 189h1M368 189h1M373 189h1M317 190h1M319 190h1M322 190h1M333 190h1M339 190h1M344 190h1M349 190h2M355 190h1M357 190h1M365 190h1M369 190h1M372 190h1M374 190h1M376 190h2M321 191h1M333 191h1M345 191h1M349 191h1M353 191h1M358 191h1M361 191h3M365 191h1M376 191h1M324 192h1M338 192h1M348 192h1M350 192h1M353 192h1M355 192h4M360 192h2M364 192h1M367 192h1M371 192h2M320 193h1M328 193h1M332 193h1M335 193h1M340 193h1M342 193h1M347 193h1M351 193h1M356 193h2M360 193h1M365 193h1M368 193h1M372 193h1M323 194h1M325 194h3M331 194h1M333 194h1M343 194h1M345 194h1M347 194h1M352 194h1M359 194h2M364 194h1M367 194h2M371 194h2M315 195h1M320 195h1M327 195h1M332 195h1M346 195h1M351 195h1M355 195h1M358 195h4M363 195h1M365 195h1M373 195h1M318 196h1M325 196h1M327 196h1M332 196h1M335 196h1M351 196h1M353 196h1M356 196h1M360 196h1M364 196h3M376 196h1M312 197h1M321 197h1M323 197h1M325 197h1M327 197h3M337 197h1M353 197h2M359 197h1M362 197h1M364 197h2M370 197h4M308 198h1M313 198h1M316 198h1M319 198h2M323 198h1M326 198h2M329 198h1M333 198h1M335 198h2M338 198h1M350 198h1M352 198h1M359 198h1M361 198h1M309 199h1M315 199h1M319 199h1M329 199h3M334 199h4M352 199h1M355 199h1M359 199h3M363 199h2M373 199h1M312 200h1M314 200h1M316 200h1M319 200h1M325 200h1M327 200h1M330 200h1M332 200h1M338 200h1M340 200h1M342 200h1M358 200h1M370 200h1M317 201h1M319 201h2M322 201h1M324 201h2M327 201h1M329 201h1M331 201h1M333 201h2M350 201h1M354 201h2M358 201h1M363 201h1M370 201h1M307 202h1M317 202h1M319 202h1M321 202h1M325 202h1M327 202h1M330 202h1M332 202h1M338 202h1M345 202h1M351 202h1M354 202h1M359 202h1M364 202h2M369 202h1M308 203h1M316 203h1M320 203h1M329 203h2M332 203h1M334 203h1M337 203h1M350 203h1M353 203h1M358 203h1M362 203h1M371 203h1M376 203h1M314 204h1M318 204h1M321 204h1M331 204h3M336 204h1M338 204h1M340 204h1M353 204h2M361 204h1M365 204h1M372 204h2M316 205h1M320 205h1M322 205h1M324 205h2M339 205h1M343 205h1M361 205h1M364 205h1M372 205h1M374 205h1M309 206h1M313 206h2M317 206h3M323 206h2M329 206h2M333 206h1M335 206h2M300 207h1M315 207h1M320 207h1M325 207h1M329 207h1M332 207h1M337 207h1M342 207h1M363 207h1M372 207h2M314 208h1M317 208h3M322 208h1M324 208h1M330 208h1M332 208h1M373 208h2M307 209h1M315 209h1M317 209h1M321 209h1M323 209h1M327 209h2M330 209h1M333 209h2M336 209h1M348 209h1M363 209h2M315 210h1M317 210h1M319 210h1M322 210h1M324 210h1M326 210h1M331 210h1M333 210h2M337 210h1M339 210h1M363 210h2M371 210h1M314 211h1M318 211h2M323 211h2M327 211h1M335 211h1M338 211h1M340 211h1M344 211h1M355 211h1M374 211h1M303 212h1M308 212h1M319 212h1M321 212h1M326 212h1M330 212h2M333 212h2M364 212h1M372 212h2M307 213h1M312 213h1M314 213h1M318 213h1M321 213h1M323 213h1M328 213h1M331 213h1M333 213h1M336 213h2M341 213h1M317 214h1M319 214h1M321 214h3M329 214h1M336 214h1M367 214h1M300 215h1M311 215h1M313 215h2M316 215h1M324 215h1M331 215h1M362 215h1M367 215h1M299 216h1M306 216h1M311 216h2M314 216h2M318 216h3M324 216h4M329 216h2M335 216h1M373 216h1M307 217h2M311 217h1M315 217h1M320 217h1M326 217h1M331 217h1M333 217h2M340 217h1M354 217h1M363 217h1M374 217h1M308 218h1M315 218h1M323 218h1M329 218h1M339 218h1M362 218h1M365 218h1M374 218h1M301 219h1M303 219h1M306 219h1M310 219h1M315 219h1M320 219h1M322 219h1M324 219h1M331 219h1M363 219h2M366 219h1M373 219h2M304 220h1M310 220h1M315 220h1M318 220h2M325 220h1M327 220h1M362 220h2M373 220h1M314 221h1M316 221h1M363 221h1M372 221h1M309 222h1M314 222h1M321 222h1M333 222h1M336 222h2M365 222h1M372 222h2M303 223h1M306 223h1M311 223h2M314 223h1M318 223h1M324 223h1M326 223h1M331 223h1M336 223h1M370 223h1M375 223h1M385 223h1M305 224h1M308 224h1M311 224h1M313 224h1M317 224h2M324 224h1M327 224h1M363 224h1M370 224h2M301 225h1M306 225h1M310 225h3M315 225h1M326 225h1M369 225h1M372 225h1M374 225h1M303 226h1M311 226h1M313 226h2M316 226h1M322 226h2M328 226h1M331 226h1M343 226h1M375 226h1M304 227h1M308 227h1M310 227h1M313 227h1M316 227h1M334 227h1M311 228h1M314 228h1M317 228h1M319 228h1M326 228h1M361 228h3M374 228h1M302 229h1M306 229h1M311 229h1M313 229h2M317 229h3M322 229h1M363 229h1M369 229h1M371 229h1M304 230h1M313 230h1M317 230h1M330 230h1M334 230h1M363 230h2M306 231h2M314 231h1M325 231h1M332 231h1M365 231h1M368 231h1M372 231h1M374 231h1M308 232h1M310 232h2M317 232h1M320 232h1M325 232h2M366 232h1M306 233h1M310 233h1M313 233h1M315 233h1M320 233h1M323 233h1M325 233h2M329 233h3M363 233h3M367 233h1M369 233h3M307 234h1M309 234h2M317 234h1M365 234h2M301 235h2M313 235h1M316 235h1M318 235h2M321 235h1M361 235h1M363 235h3M367 235h1M370 235h2M307 236h1M311 236h1M323 236h2M366 236h1M369 236h1M300 237h1M311 237h1M314 237h1M362 237h1M365 237h1M367 237h1M369 237h2M307 238h1M313 238h1M329 238h1M365 238h1M370 238h2M375 238h1M380 238h1M329 239h1M371 239h1M308 240h1M311 240h1M322 240h1M366 240h1M370 240h1M374 240h1M311 243h1M323 243h1M326 244h1M348 244h1M364 244h1M368 244h2" stroke="#696969" stroke-width="1" transform="translate(0 0.5)"/>
<path d="M448 161h1M455 163h1M437 164h1M456 165h2M439 166h2M448 166h1M430 167h1M439 167h1M441 167h1M444 167h2M450 167h2M455 167h1M457 167h1M460 167h1M470 167h1M430 168h3M434 168h1M436 168h5M442 168h13M456 168h2M459 168h1M461 168h2M466 168h1M469 168h1M476 168h1M430 169h1M432 169h27M460 169h1M463 169h3M471 169h1M473 169h3M477 169h1M428 170h7M436 170h31M468 170h7M476 170h3M480 170h3M484 170h1M487 170h1M491 170h1M428 171h45M474 171h1M476 171h7M484 171h3M491 171h2M428 172h41M470 172h15M488 172h2M493 172h1M496 172h1M428 173h54M483 173h4M488 173h1M490 173h2M494 173h1M429 174h33M463 174h18M482 174h2M485 174h2M489 174h2M496 174h1M428 175h1M432 175h2M435 175h4M440 175h2M444 175h8M453 175h15M469 175h9M479 175h4M484 175h8M432 176h2M436 176h3M443 176h2M447 176h2M450 176h2M454 176h1M456 176h1M462 176h1M466 176h4M471 176h10M482 176h8M492 176h1M435 177h1M438 177h1M440 177h1M442 177h1M445 177h1M448 177h1M450 177h1M453 177h1M457 177h1M459 177h4M467 177h1M472 177h2M475 177h6M483 177h4M492 177h1M440 178h1M442 178h1M447 178h1M449 178h2M453 178h1M461 178h1M466 178h1M469 178h1M471 178h2M474 178h8M484 178h1M488 178h1M491 178h1M442 179h2M447 179h1M460 179h1M463 179h1M468 179h1M472 179h6M479 179h1M483 179h1M485 179h1M491 179h1M494 179h1M432 180h1M437 180h1M440 180h1M446 180h2M449 180h1M452 180h2M456 180h2M460 180h1M463 180h1M465 180h2M468 180h2M475 180h1M486 180h1M433 181h1M440 181h1M442 181h2M448 181h1M450 181h1M453 181h1M464 181h1M479 181h1M439 182h1M441 182h1M443 182h1M446 182h1M448 182h1M451 182h1M455 182h1M431 183h1M440 183h1M447 183h5M431 184h1M434 184h1M445 184h1M452 184h1M454 184h1M439 185h1M441 185h2M446 185h2M452 185h2M460 185h1M439 186h1M442 186h1M444 186h1M448 186h1M451 186h3M443 187h1M458 187h1M434 188h1M447 188h1M435 189h1M441 189h1M443 189h1M445 190h1M451 190h1M443 191h1M445 191h1M452 191h1M442 192h1M443 193h1M445 193h1M456 193h1M435 194h1M445 194h2M432 195h1M439 195h1M448 195h1M443 196h1M445 196h1M448 196h1M437 198h1M444 198h1M455 198h1M440 199h1M447 199h1M452 199h1M444 200h1M469 200h1M442 203h1M448 203h1M445 204h1M437 208h1M446 212h1M455 212h1M441 214h1M448 214h1M453 215h1M435 219h1M448 221h1M442 225h1" stroke="#121212" stroke-width="1" transform="translate(0 0.5)"/>
<path d="M455 160h1M450 161h1M454 161h1M444 162h1M454 162h1M460 162h1M439 163h1M447 163h1M452 163h1M436 164h1M440 164h1M447 164h1M466 164h1M440 165h1M451 165h1M453 165h1M464 165h1M438 166h1M442 166h1M449 166h1M452 166h1M455 166h1M457 166h1M459 166h1M464 166h1M431 167h1M442 167h2M448 167h1M453 167h2M459 167h1M465 167h1M469 167h1M473 167h1M433 168h1M435 168h1M441 168h1M463 168h1M467 168h2M470 168h1M472 168h1M474 168h1M479 168h1M483 168h1M428 169h1M431 169h1M459 169h1M461 169h1M466 169h1M470 169h1M476 169h1M478 169h2M481 169h1M435 170h1M475 170h1M479 170h1M483 170h1M485 170h1M490 170h1M492 170h2M475 171h1M483 171h1M488 171h3M495 171h1M469 172h1M485 172h1M487 172h1M490 172h3M482 173h1M487 173h1M489 173h1M428 174h1M462 174h1M492 174h1M495 174h1M429 175h1M434 175h1M439 175h1M442 175h2M468 175h1M478 175h1M483 175h1M492 175h2M428 176h1M430 176h1M434 176h1M440 176h1M442 176h1M445 176h1M452 176h1M455 176h1M459 176h2M464 176h2M470 176h1M481 176h1M491 176h1M429 177h1M437 177h1M439 177h1M443 177h1M447 177h1M452 177h1M458 177h1M463 177h1M465 177h1M470 177h2M474 177h1M481 177h2M487 177h2M493 177h1M497 177h1M437 178h2M445 178h2M448 178h1M455 178h1M457 178h1M459 178h1M464 178h1M467 178h2M470 178h1M473 178h1M486 178h2M489 178h1M495 178h1M434 179h1M439 179h1M441 179h1M452 179h3M458 179h1M462 179h1M464 179h1M467 179h1M469 179h1M478 179h1M480 179h2M487 179h1M428 180h1M436 180h1M438 180h1M443 180h2M450 180h1M454 180h1M459 180h1M467 180h1M471 180h1M474 180h1M479 180h1M481 180h1M428 181h1M432 181h1M434 181h1M436 181h1M439 181h1M445 181h1M447 181h1M457 181h1M468 181h1M430 182h1M440 182h1M447 182h1M449 182h2M453 182h2M461 182h1M430 183h1M435 183h1M442 183h1M444 183h1M452 183h1M454 183h1M456 183h3M462 183h2M437 184h1M441 184h1M447 184h3M451 184h1M455 184h1M461 184h1M434 185h1M436 185h1M438 185h1M443 185h1M445 185h1M449 185h1M456 185h1M462 185h1M465 185h1M433 186h1M440 186h1M447 186h1M449 186h2M455 186h1M460 186h1M445 187h3M455 187h1M464 187h1M438 188h1M442 188h4M449 188h1M454 188h1M464 188h1M433 189h1M439 189h2M442 189h1M447 189h1M454 189h1M436 190h1M440 190h1M443 190h1M448 190h1M450 190h1M453 190h2M460 190h1M464 190h1M446 191h1M451 191h1M453 191h1M430 192h2M433 192h3M437 192h1M449 192h1M451 192h1M454 192h1M457 192h1M432 193h1M436 193h2M439 193h1M444 193h1M453 193h1M434 194h1M444 194h1M454 194h1M456 194h1M435 195h1M438 195h1M440 195h1M446 195h2M452 195h1M455 195h1M463 195h1M435 196h1M450 196h2M455 196h1M443 197h1M445 197h2M449 197h1M451 197h1M435 198h1M441 198h1M449 198h1M451 198h1M453 198h1M456 198h1M434 199h1M449 199h1M454 199h1M441 200h2M448 200h1M442 201h1M460 201h1M431 202h1M441 202h2M445 202h1M452 202h1M457 202h1M439 203h1M444 203h1M446 203h1M449 203h1M453 203h1M460 203h1M451 204h1M454 204h1M437 205h2M447 205h1M462 205h1M456 207h1M464 207h1M441 208h1M447 208h1M447 209h1M451 209h1M456 209h1M437 210h1M447 210h1M455 210h1M431 211h1M446 211h2M441 212h1M440 213h1M442 213h1M444 213h1M447 213h1M453 213h1M446 214h1M459 214h1M439 215h1M443 215h1M449 215h1M440 216h1M443 216h2M429 218h1M440 219h1M442 219h1M433 220h1M453 220h1M449 221h1M460 221h1M445 222h1M442 223h2M449 223h1M452 223h2M449 227h1M436 232h1" stroke="#2d2d2d" stroke-width="1" transform="translate(0 0.5)"/>
<path d="M447 159h1M477 159h1M480 159h1M445 160h2M448 160h1M451 160h2M458 160h1M460 160h1M463 160h1M469 160h1M472 160h1M438 161h2M443 161h4M459 161h2M477 161h1M433 162h1M439 162h2M443 162h1M446 162h1M450 162h1M456 162h2M459 162h1M462 162h1M466 162h1M432 163h2M436 163h1M440 163h2M445 163h1M451 163h1M456 163h1M458 163h1M467 163h1M484 163h1M430 164h2M433 164h2M441 164h3M445 164h1M448 164h1M451 164h2M455 164h1M458 164h1M464 164h1M468 164h1M473 164h1M478 164h1M481 164h1M483 164h1M487 164h1M434 165h1M441 165h3M445 165h4M450 165h1M455 165h1M458 165h4M467 165h1M470 165h2M479 165h1M430 166h1M433 166h1M436 166h2M441 166h1M443 166h4M451 166h1M453 166h2M456 166h1M460 166h1M466 166h1M468 166h1M471 166h1M474 166h2M478 166h1M480 166h1M482 166h2M490 166h1M499 166h1M434 167h5M440 167h1M446 167h2M449 167h1M452 167h1M456 167h1M458 167h1M461 167h2M464 167h1M466 167h3M475 167h1M477 167h3M484 167h1M486 167h1M491 167h1M497 167h1M428 168h2M455 168h1M458 168h1M464 168h2M471 168h1M473 168h1M475 168h1M477 168h1M482 168h1M484 168h1M489 168h1M496 168h2M429 169h1M469 169h1M480 169h1M483 169h2M487 169h2M467 170h1M486 170h1M488 170h1M495 170h1M503 170h1M473 171h1M487 171h1M501 171h1M497 172h3M493 173h1M496 173h1M499 173h1M481 174h1M487 174h2M491 174h1M493 174h1M499 174h2M431 175h1M494 175h1M496 175h1M498 175h1M429 176h1M431 176h1M435 176h1M439 176h1M441 176h1M446 176h1M449 176h1M457 176h2M461 176h1M463 176h1M490 176h1M493 176h3M498 176h1M500 176h1M428 177h1M433 177h1M441 177h1M449 177h1M451 177h1M454 177h3M464 177h1M466 177h1M468 177h2M491 177h1M494 177h1M428 178h2M431 178h3M435 178h1M439 178h1M443 178h1M458 178h1M460 178h1M462 178h2M483 178h1M490 178h1M492 178h1M496 178h3M501 178h1M504 178h1M430 179h1M432 179h2M435 179h1M437 179h1M440 179h1M444 179h3M448 179h2M451 179h1M455 179h1M459 179h1M461 179h1M465 179h2M470 179h2M482 179h1M484 179h1M486 179h1M489 179h2M493 179h1M499 179h1M429 180h1M431 180h1M434 180h1M439 180h1M441 180h2M448 180h1M451 180h1M455 180h1M461 180h1M470 180h1M476 180h1M478 180h1M483 180h1M488 180h1M490 180h1M495 180h1M497 180h1M431 181h1M438 181h1M444 181h1M449 181h1M454 181h3M458 181h1M462 181h2M465 181h3M471 181h6M481 181h1M483 181h2M486 181h4M493 181h1M432 182h1M435 182h4M442 182h1M444 182h2M452 182h1M457 182h4M465 182h1M467 182h3M474 182h3M478 182h1M480 182h1M487 182h3M428 183h1M432 183h1M436 183h4M443 183h1M445 183h2M453 183h1M455 183h1M459 183h3M464 183h4M475 183h2M479 183h1M481 183h1M486 183h1M488 183h1M490 183h2M435 184h2M439 184h2M442 184h1M444 184h1M453 184h1M459 184h1M463 184h1M465 184h1M468 184h1M470 184h1M472 184h1M479 184h1M485 184h1M487 184h1M428 185h1M430 185h1M432 185h2M435 185h1M437 185h1M448 185h1M450 185h1M455 185h1M458 185h2M467 185h1M476 185h1M428 186h1M431 186h1M435 186h1M437 186h2M441 186h1M443 186h1M446 186h1M454 186h1M456 186h2M463 186h1M466 186h1M470 186h2M428 187h2M436 187h2M439 187h1M448 187h3M453 187h1M456 187h2M459 187h1M462 187h1M465 187h1M473 187h1M428 188h1M430 188h1M432 188h1M436 188h2M440 188h1M446 188h1M448 188h1M451 188h1M467 188h1M472 188h1M474 188h1M432 189h1M436 189h1M438 189h1M445 189h1M449 189h2M452 189h2M455 189h2M458 189h1M460 189h2M463 189h2M466 189h1M471 189h1M431 190h1M434 190h2M437 190h2M441 190h1M444 190h1M446 190h1M456 190h1M459 190h1M461 190h2M471 190h1M429 191h4M435 191h2M438 191h1M440 191h1M442 191h1M447 191h1M449 191h1M455 191h2M459 191h1M470 191h1M428 192h1M436 192h1M438 192h1M443 192h4M448 192h1M450 192h1M452 192h2M456 192h1M430 193h1M433 193h1M435 193h1M438 193h1M440 193h2M446 193h1M449 193h2M452 193h1M454 193h2M457 193h1M459 193h1M468 193h1M437 194h6M448 194h5M455 194h1M459 194h1M465 194h1M471 194h1M433 195h2M436 195h1M443 195h1M445 195h1M450 195h2M453 195h1M459 195h1M428 196h1M432 196h1M436 196h1M439 196h2M442 196h1M449 196h1M452 196h1M456 196h2M462 196h1M464 196h1M428 197h1M430 197h1M432 197h1M434 197h2M437 197h1M439 197h4M444 197h1M447 197h1M454 197h6M462 197h1M465 197h2M429 198h1M440 198h1M442 198h1M446 198h2M459 198h1M432 199h1M435 199h2M443 199h1M445 199h1M450 199h1M453 199h1M456 199h1M458 199h1M460 199h4M466 199h1M428 200h1M433 200h1M435 200h2M439 200h2M443 200h1M446 200h2M449 200h2M453 200h2M456 200h1M459 200h3M430 201h1M434 201h1M437 201h5M443 201h1M447 201h1M451 201h1M453 201h3M457 201h1M462 201h1M429 202h1M436 202h2M439 202h1M443 202h2M446 202h2M449 202h1M453 202h1M456 202h1M458 202h1M460 202h2M429 203h2M437 203h1M441 203h1M443 203h1M445 203h1M466 203h1M469 203h1M473 203h1M429 204h1M439 204h1M441 204h1M443 204h2M446 204h1M449 204h1M453 204h1M455 204h1M457 204h3M467 204h1M432 205h1M436 205h1M441 205h1M445 205h2M449 205h1M451 205h5M458 205h1M428 206h1M433 206h1M435 206h1M438 206h4M444 206h2M448 206h1M450 206h2M460 206h1M429 207h1M433 207h1M440 207h4M449 207h1M451 207h3M455 207h1M459 207h2M482 207h1M506 207h1M434 208h3M438 208h1M440 208h1M445 208h2M449 208h2M454 208h1M456 208h2M459 208h1M466 208h1M434 209h1M437 209h1M439 209h1M441 209h2M445 209h1M448 209h1M450 209h1M461 209h1M466 209h1M468 209h1M431 210h1M439 210h3M443 210h1M448 210h2M453 210h1M456 210h1M458 210h1M434 211h2M437 211h1M441 211h4M453 211h1M455 211h1M458 211h1M460 211h1M477 211h1M490 211h1M432 212h2M435 212h1M437 212h2M440 212h1M450 212h2M454 212h1M456 212h1M462 212h1M476 212h1M429 213h1M434 213h1M436 213h1M439 213h1M441 213h1M449 213h1M457 213h1M462 213h1M429 214h1M434 214h1M439 214h2M445 214h1M447 214h1M452 214h2M455 214h1M457 214h1M435 215h1M442 215h1M450 215h2M454 215h1M465 215h1M438 216h1M441 216h1M447 216h2M451 216h1M458 216h1M502 216h1M430 217h1M436 217h2M439 217h1M441 217h1M444 217h2M447 217h1M449 217h2M454 217h1M458 217h1M482 217h1M430 218h1M436 218h1M438 218h1M445 218h1M449 218h1M452 218h1M462 218h3M432 219h1M438 219h1M441 219h1M443 219h1M447 219h4M456 219h1M460 219h1M430 220h1M437 220h1M441 220h1M443 220h2M448 220h2M451 220h1M457 220h1M462 220h1M434 221h1M436 221h1M440 221h1M443 221h5M450 221h2M455 221h1M466 221h1M440 222h2M444 222h1M449 222h1M453 222h1M467 222h1M434 223h1M436 223h1M455 223h1M459 223h1M469 223h1M438 224h2M443 224h1M448 224h1M450 224h2M454 224h1M457 224h1M459 224h1M469 224h1M430 225h1M436 225h2M440 225h2M448 225h1M450 225h2M453 225h1M455 225h1M458 225h1M465 225h1M445 226h1M454 226h1M458 226h1M462 226h1M507 226h1M429 227h1M433 227h1M447 227h1M450 227h2M456 227h1M468 227h1M431 228h1M436 228h1M445 228h1M464 228h1M447 229h1M451 229h1M453 230h1M440 231h1M442 231h1M430 232h1M451 232h1M463 232h1M449 233h1M448 234h1M452 234h1M476 234h1M489 234h1M434 235h1M440 235h1M448 235h1M460 235h1M437 236h1M440 236h1M473 237h1M434 239h1M465 239h1M436 241h1M459 241h1M440 242h1M497 242h1M439 243h1M446 243h1M454 243h2" stroke="#696969" stroke-width="1" transform="translate(0 0.5)"/>
<path d="M27 344h1M30 344h1M34 344h1M30 345h4M31 346h1M35 346h1M37 346h1M26 347h5M34 347h4M20 348h5M27 348h2M30 348h3M35 348h1M38 348h1M21 349h1M23 349h6M30 349h3M35 349h2M39 349h1M41 349h2M47 349h1M19 350h2M23 350h15M39 350h3M18 351h1M21 351h19M41 351h1M43 351h1M20 352h1M22 352h14M37 352h6M18 353h4M23 353h3M27 353h10M38 353h5M44 353h1M18 354h4M23 354h20M45 354h1M18 355h25M44 355h2M56 355h1M19 356h22M42 356h5M58 356h1M20 357h24M54 357h1M20 358h23M45 358h1M47 358h1M71 358h1M18 359h1M20 359h20M41 359h1M43 359h2M46 359h2M50 359h1M53 359h2M58 359h1M19 360h20M40 360h5M48 360h1M51 360h1M59 360h1M66 360h1M19 361h1M22 361h18M41 361h1M43 361h2M47 361h1M18 362h1M22 362h18M41 362h1M43 362h1M47 362h1M20 363h23M44 363h3M65 363h1M18 364h2M22 364h20M44 364h1M53 364h1M59 364h1M71 364h1M19 365h1M21 365h18M41 365h2M44 365h1M46 365h1M48 365h1M50 365h1M60 365h1M67 365h1M19 366h20M40 366h5M46 366h1M64 366h2M18 367h1M20 367h19M40 367h2M45 367h1M47 367h1M58 367h1M60 367h1M18 368h3M22 368h6M29 368h11M41 368h2M47 368h1M50 368h1M52 368h1M59 368h1M62 368h2M19 369h19M39 369h1M41 369h1M43 369h3M47 369h2M52 369h1M57 369h1M19 370h3M23 370h22M48 370h1M52 370h1M54 370h2M60 370h1M66 370h1M18 371h3M22 371h3M26 371h15M42 371h1M45 371h2M49 371h1M52 371h5M59 371h4M18 372h10M29 372h12M42 372h2M45 372h1M47 372h2M50 372h1M52 372h3M56 372h3M62 372h2M65 372h1M19 373h1M21 373h2M24 373h17M44 373h1M46 373h2M50 373h1M52 373h1M55 373h2M58 373h3M62 373h1M64 373h1M67 373h1M70 373h1M18 374h24M45 374h2M48 374h1M53 374h5M59 374h1M61 374h1M64 374h1M66 374h1M18 375h1M21 375h1M23 375h15M39 375h2M44 375h8M53 375h1M56 375h2M59 375h3M63 375h1M65 375h1M67 375h1M69 375h2M18 376h24M44 376h1M46 376h2M49 376h3M53 376h4M58 376h8M67 376h1M69 376h2M18 377h1M21 377h14M36 377h3M40 377h2M43 377h1M45 377h1M47 377h5M53 377h5M59 377h6M66 377h4M18 378h16M35 378h6M42 378h3M46 378h1M48 378h2M51 378h2M55 378h8M64 378h3M68 378h1M71 378h1M18 379h1M20 379h17M38 379h3M42 379h2M47 379h5M53 379h3M57 379h7M65 379h2M69 379h1M18 380h1M21 380h4M26 380h14M41 380h2M44 380h1M46 380h5M53 380h2M56 380h10M67 380h3M74 380h1M19 381h25M45 381h1M48 381h1M50 381h17M68 381h1M18 382h5M24 382h19M44 382h1M46 382h1M49 382h16M67 382h4M18 383h17M36 383h5M42 383h1M45 383h2M48 383h2M51 383h7M59 383h7M68 383h2M20 384h1M22 384h19M42 384h2M47 384h1M49 384h1M51 384h2M54 384h7M63 384h1M19 385h3M23 385h20M48 385h1M52 385h6M59 385h3M63 385h3M67 385h1M20 386h4M25 386h8M34 386h3M38 386h4M43 386h1M50 386h1M53 386h1M55 386h5M63 386h1M19 387h1M21 387h17M40 387h1M42 387h1M52 387h1M54 387h2M57 387h1M62 387h1M24 388h6M31 388h2M34 388h5M40 388h2M44 388h1M51 388h1M58 388h1M62 388h2M20 389h2M23 389h3M28 389h7M36 389h1M40 389h3M49 389h2M54 389h2M61 389h1M20 390h2M23 390h1M26 390h9M36 390h1M20 391h1M22 391h2M25 391h2M29 391h5M36 391h5M58 391h1M62 391h1M24 392h3M29 392h3M34 392h1M37 392h1M21 393h1M23 393h1M25 393h2M28 393h1M30 393h4M41 393h1M20 394h1M23 394h1M25 394h1M28 394h1M38 394h1" stroke="#121212" stroke-width="1" transform="translate(0 0.5)"/>
<path d="M34 340h1M36 340h1M30 341h1M39 342h1M21 343h1M28 343h1M35 343h1M39 343h1M25 344h1M33 344h1M35 344h1M39 344h1M42 344h1M20 345h1M29 345h1M36 345h1M18 346h1M23 346h2M27 346h1M32 346h2M36 346h1M39 346h1M23 347h1M43 347h1M18 348h1M26 348h1M29 348h1M33 348h2M36 348h2M41 348h1M18 349h1M29 349h1M33 349h1M43 349h1M21 350h2M38 350h1M45 350h1M20 351h1M40 351h1M42 351h1M45 351h2M18 352h1M36 352h1M43 352h3M47 352h1M54 352h1M26 353h1M45 353h1M60 354h1M48 355h1M18 356h1M41 356h1M47 356h1M50 356h1M45 357h1M48 357h3M59 357h1M18 358h2M44 358h1M46 358h1M48 358h1M51 358h1M54 358h2M59 358h1M61 358h1M40 359h1M45 359h1M48 359h2M57 359h1M59 359h1M39 360h1M45 360h2M50 360h1M52 360h1M54 360h1M56 360h1M18 361h1M40 361h1M42 361h1M45 361h1M49 361h1M64 361h1M69 361h1M75 361h1M21 362h1M40 362h1M44 362h2M48 362h3M53 362h3M59 362h1M64 362h1M81 362h1M51 363h1M55 363h1M59 363h1M61 363h1M63 363h1M67 363h2M70 363h1M42 364h1M45 364h1M47 364h6M58 364h1M63 364h1M68 364h1M43 365h1M45 365h1M47 365h1M49 365h1M52 365h1M55 365h1M62 365h1M18 366h1M45 366h1M52 366h1M56 366h1M60 366h1M19 367h1M39 367h1M42 367h3M46 367h1M48 367h1M53 367h1M56 367h2M59 367h1M21 368h1M28 368h1M40 368h1M43 368h1M46 368h1M48 368h1M54 368h1M64 368h2M38 369h1M40 369h1M42 369h1M53 369h1M55 369h2M58 369h2M64 369h1M69 369h1M18 370h1M22 370h1M46 370h1M49 370h1M51 370h1M59 370h1M21 371h1M25 371h1M43 371h2M47 371h1M50 371h1M57 371h2M63 371h1M65 371h2M69 371h1M28 372h1M55 372h1M60 372h1M67 372h1M18 373h1M42 373h1M51 373h1M53 373h2M61 373h1M65 373h1M43 374h2M49 374h4M60 374h1M63 374h1M65 374h1M68 374h1M73 374h1M20 375h1M38 375h1M43 375h1M52 375h1M54 375h1M58 375h1M64 375h1M42 376h2M48 376h1M52 376h1M57 376h1M66 376h1M20 377h1M35 377h1M42 377h1M44 377h1M58 377h1M65 377h1M70 377h1M41 378h1M45 378h1M47 378h1M50 378h1M63 378h1M19 379h1M37 379h1M52 379h1M56 379h1M64 379h1M67 379h2M70 379h1M74 379h1M19 380h2M45 380h1M51 380h1M55 380h1M66 380h1M18 381h1M44 381h1M69 381h1M23 382h1M45 382h1M65 382h2M72 382h1M47 383h1M58 383h1M66 383h1M71 383h1M74 383h1M18 384h1M21 384h1M44 384h2M48 384h1M50 384h1M61 384h2M22 385h1M43 385h1M46 385h1M49 385h3M58 385h1M62 385h1M66 385h1M69 385h1M19 386h1M24 386h1M33 386h1M37 386h1M49 386h1M52 386h1M54 386h1M60 386h1M62 386h1M64 386h1M67 386h1M69 386h1M73 386h1M20 387h1M39 387h1M43 387h1M45 387h1M47 387h3M53 387h1M58 387h1M60 387h1M63 387h3M20 388h2M23 388h1M30 388h1M39 388h1M47 388h1M52 388h3M59 388h1M18 389h2M22 389h1M35 389h1M37 389h2M43 389h1M57 389h1M60 389h1M62 389h1M67 389h1M24 390h1M35 390h1M45 390h1M53 390h1M59 390h1M24 391h1M28 391h1M35 391h1M45 391h2M53 391h1M59 391h1M66 391h1M22 392h1M28 392h1M32 392h1M36 392h1M49 392h2M62 392h1M65 392h1M20 393h1M29 393h1M36 393h1M39 393h1M44 393h1M53 393h1M18 394h2M22 394h1M27 394h1M29 394h2M32 394h1M34 394h3M39 394h1M46 394h1M49 394h1" stroke="#2d2d2d" stroke-width="1" transform="translate(0 0.5)"/>
<path d="M102 315h1M50 321h1M99 324h1M24 335h1M37 335h1M29 336h1M46 336h1M25 337h1M20 339h1M27 339h1M31 339h1M38 339h1M51 339h1M96 339h1M20 340h1M28 340h1M31 340h1M20 341h1M24 341h1M38 341h1M40 341h1M26 342h4M32 342h1M41 342h2M45 342h1M51 342h1M20 343h1M26 343h1M29 343h1M31 343h1M36 343h1M42 343h2M45 343h1M18 344h1M20 344h1M22 344h2M29 344h1M31 344h1M38 344h1M43 344h2M19 345h1M21 345h4M26 345h2M34 345h2M40 345h1M42 345h2M49 345h1M20 346h1M26 346h1M28 346h3M34 346h1M41 346h1M43 346h2M46 346h2M56 346h1M19 347h1M22 347h1M24 347h2M33 347h1M39 347h1M42 347h1M44 347h1M48 347h1M51 347h2M55 347h1M19 348h1M25 348h1M39 348h1M44 348h1M51 348h1M60 348h1M20 349h1M22 349h1M34 349h1M38 349h1M52 349h1M64 349h1M67 349h1M71 349h1M18 350h1M42 350h1M44 350h1M49 350h1M73 350h1M44 351h1M47 351h1M49 351h1M53 351h2M63 351h1M46 352h1M48 352h3M55 352h1M57 352h1M66 352h1M72 352h1M22 353h1M37 353h1M43 353h1M48 353h1M52 353h1M59 353h4M65 353h1M22 354h1M44 354h1M47 354h3M51 354h3M56 354h1M66 354h1M70 354h1M43 355h1M47 355h1M50 355h1M52 355h1M57 355h2M60 355h1M62 355h1M67 355h1M71 355h2M83 355h1M48 356h1M54 356h2M59 356h2M64 356h3M70 356h1M19 357h1M44 357h1M46 357h2M52 357h1M55 357h4M60 357h3M67 357h1M69 357h1M76 357h2M43 358h1M49 358h2M52 358h2M65 358h1M70 358h1M73 358h1M75 358h1M78 358h2M19 359h1M42 359h1M51 359h1M61 359h2M67 359h1M69 359h2M76 359h1M47 360h1M55 360h1M58 360h1M60 360h1M62 360h1M64 360h2M69 360h2M74 360h2M20 361h1M46 361h1M48 361h1M50 361h1M52 361h4M57 361h1M60 361h4M65 361h3M72 361h3M76 361h1M82 361h1M20 362h1M42 362h1M46 362h1M51 362h2M58 362h1M60 362h1M62 362h1M65 362h3M69 362h1M73 362h1M76 362h1M19 363h1M43 363h1M47 363h2M50 363h1M53 363h2M56 363h2M62 363h1M64 363h1M66 363h1M71 363h1M21 364h1M57 364h1M60 364h1M62 364h1M64 364h2M69 364h2M78 364h1M102 364h1M18 365h1M20 365h1M39 365h2M56 365h1M58 365h2M63 365h1M66 365h1M68 365h1M71 365h1M73 365h1M79 365h1M39 366h1M49 366h3M55 366h1M58 366h2M61 366h3M67 366h1M72 366h2M49 367h2M52 367h1M55 367h1M62 367h5M68 367h1M71 367h1M73 367h1M44 368h2M49 368h1M53 368h1M55 368h1M57 368h2M60 368h2M66 368h1M69 368h3M18 369h1M46 369h1M54 369h1M60 369h3M65 369h1M67 369h2M71 369h1M45 370h1M50 370h1M53 370h1M56 370h2M62 370h1M68 370h2M75 370h1M41 371h1M51 371h1M64 371h1M67 371h2M71 371h1M73 371h2M41 372h1M46 372h1M49 372h1M59 372h1M61 372h1M66 372h1M72 372h1M20 373h1M23 373h1M41 373h1M43 373h1M48 373h1M57 373h1M63 373h1M66 373h1M68 373h2M71 373h2M42 374h1M47 374h1M58 374h1M62 374h1M67 374h1M69 374h1M75 374h1M78 374h1M19 375h1M22 375h1M55 375h1M62 375h1M66 375h1M68 375h1M72 375h3M45 376h1M72 376h1M76 376h1M80 376h1M19 377h1M39 377h1M46 377h1M72 377h1M74 377h1M34 378h1M53 378h2M67 378h1M69 378h2M72 378h3M76 378h1M41 379h1M44 379h2M71 379h1M76 379h1M79 379h1M25 380h1M43 380h1M52 380h1M72 380h2M46 381h2M49 381h1M67 381h1M70 381h1M73 381h2M81 381h1M47 382h2M83 382h1M35 383h1M41 383h1M44 383h1M50 383h1M67 383h1M70 383h1M72 383h2M41 384h1M46 384h1M53 384h1M64 384h5M71 384h2M75 384h1M18 385h1M45 385h1M68 385h1M70 385h1M18 386h1M42 386h1M46 386h1M51 386h1M61 386h1M71 386h1M74 386h1M38 387h1M41 387h1M44 387h1M50 387h1M59 387h1M61 387h1M67 387h4M75 387h1M18 388h1M22 388h1M33 388h1M43 388h1M45 388h2M49 388h1M55 388h1M57 388h1M60 388h1M65 388h1M68 388h2M75 388h1M78 388h1M26 389h2M39 389h1M45 389h1M56 389h1M59 389h1M63 389h2M66 389h1M69 389h1M18 390h2M22 390h1M37 390h1M39 390h1M41 390h4M51 390h2M55 390h2M58 390h1M62 390h1M64 390h1M67 390h1M69 390h1M21 391h1M34 391h1M41 391h2M44 391h1M51 391h1M55 391h1M61 391h1M64 391h1M74 391h1M94 391h1M18 392h1M20 392h2M23 392h1M33 392h1M35 392h1M38 392h5M46 392h1M52 392h1M57 392h1M59 392h3M66 392h3M19 393h1M22 393h1M27 393h1M34 393h1M40 393h1M42 393h1M45 393h2M59 393h2M62 393h1M66 393h2M69 393h1M74 393h1M21 394h1M26 394h1M37 394h1M40 394h1M42 394h1M51 394h1M56 394h1M58 394h1M63 394h1M67 394h1" stroke="#696969" stroke-width="1" transform="translate(0 0.5)"/>
<path d="M163 323h1M157 325h1M163 325h1M154 326h1M163 327h1M159 328h1M165 328h1M173 328h1M149 329h1M159 329h1M163 329h1M161 330h1M154 331h1M156 331h1M160 331h1M163 331h1M167 331h1M156 332h2M162 333h1M152 334h1M159 334h2M164 334h1M194 334h1M148 335h2M156 335h3M160 335h1M162 335h1M192 335h1M198 335h2M157 336h1M159 336h1M161 336h1M163 336h1M165 336h3M189 336h1M191 336h2M194 336h2M198 336h4M204 336h1M151 337h1M156 337h2M160 337h1M163 337h3M167 337h1M190 337h2M194 337h1M196 337h4M201 337h2M205 337h2M152 338h1M154 338h1M158 338h4M163 338h2M166 338h1M191 338h14M206 338h1M147 339h1M150 339h1M154 339h2M158 339h5M165 339h1M167 339h2M171 339h1M189 339h5M195 339h7M203 339h4M208 339h1M152 340h2M155 340h3M159 340h2M162 340h4M167 340h1M169 340h2M186 340h1M189 340h1M191 340h14M207 340h2M150 341h1M152 341h2M155 341h10M168 341h3M180 341h1M187 341h1M189 341h16M208 341h1M146 342h2M151 342h5M157 342h8M166 342h1M168 342h2M173 342h1M186 342h19M148 343h1M151 343h12M164 343h2M167 343h2M172 343h1M183 343h1M188 343h17M208 343h2M149 344h1M151 344h1M153 344h16M170 344h1M185 344h1M187 344h3M191 344h14M206 344h1M151 345h1M153 345h2M156 345h8M165 345h4M171 345h1M178 345h1M183 345h1M185 345h2M189 345h1M191 345h1M193 345h10M149 346h2M152 346h16M170 346h1M179 346h1M184 346h1M187 346h2M190 346h7M198 346h4M205 346h1M148 347h1M153 347h9M163 347h4M168 347h1M170 347h1M187 347h1M189 347h3M194 347h1M196 347h2M199 347h1M153 348h1M155 348h1M157 348h9M169 348h1M171 348h1M173 348h1M189 348h1M192 348h1M195 348h3M202 348h1M149 349h1M151 349h18M172 349h1M174 349h1M189 349h2M192 349h2M195 349h1M197 349h1M200 349h1M204 349h1M146 350h1M148 350h1M151 350h2M154 350h4M159 350h4M164 350h2M170 350h1M192 350h1M194 350h1M150 351h5M156 351h1M158 351h5M164 351h1M169 351h1M171 351h2M175 351h1M190 351h1M196 351h1M152 352h2M155 352h4M160 352h9M170 352h1M195 352h1M150 353h1M154 353h1M157 353h5M163 353h6M171 353h1M192 353h1M147 354h1M150 354h1M152 354h1M156 354h6M163 354h4M175 354h2M151 355h1M155 355h1M158 355h2M161 355h4M166 355h3M196 355h1M155 356h3M159 356h1M161 356h2M168 356h1M174 356h1M149 357h1M152 357h2M155 357h2M158 357h3M162 357h1M164 357h3M170 357h1M175 357h1M151 358h1M153 358h1M155 358h2M158 358h3M164 358h1M151 359h1M153 359h1M155 359h1M157 359h1M159 359h1M162 359h4M167 359h1M184 359h1M154 360h2M157 360h1M159 360h2M162 360h1M164 360h1M150 361h1M156 361h2M159 361h1M164 361h2M168 361h1M171 361h1M181 361h1M155 362h2M158 362h2M161 362h1M165 362h1M169 362h1M152 363h1M157 363h1M159 363h1M161 363h1M163 363h1M152 364h1M155 364h5M161 364h2M152 365h1M155 365h1M157 365h2M160 365h1M162 365h2M165 365h1M152 366h1M155 366h2M159 366h2M162 366h3M169 366h1M153 367h1M155 367h1M157 367h6M164 367h3M150 368h1M152 368h2M155 368h1M157 368h1M159 368h2M162 368h2M165 368h1M167 368h2M152 369h3M156 369h4M162 369h5M170 369h2M174 369h1M149 370h6M156 370h10M167 370h3M171 370h1M151 371h1M154 371h4M159 371h6M166 371h2M169 371h2M188 371h1M153 372h3M157 372h11M169 372h1M171 372h1M189 372h2M193 372h1M195 372h1M150 373h12M163 373h2M166 373h4M172 373h1M190 373h1M200 373h2M151 374h12M164 374h6M146 375h1M149 375h1M151 375h19M149 376h3M153 376h14M168 376h1M185 376h1M188 376h1M194 376h1M198 376h1M151 377h20M176 377h1M191 377h1M194 377h1M148 378h3M152 378h16M169 378h2M200 378h1M148 379h6M155 379h13M169 379h2M175 379h1M185 379h1M150 380h1M152 380h16M171 380h3M189 380h1M149 381h1M151 381h16M173 381h1M187 381h1M199 381h2M149 382h21M171 382h1M188 382h1M197 382h1M148 383h1M150 383h3M155 383h11M167 383h1M169 383h1M171 383h1M176 383h1M190 383h1M194 383h2M201 383h1M150 384h16M168 384h1M170 384h2M147 385h1M149 385h3M153 385h1M155 385h12M168 385h1M173 385h1M149 386h1M153 386h9M163 386h7M151 387h1M154 387h11M166 387h1M169 387h1M171 387h1M186 387h1M152 388h6M159 388h6M166 388h4M151 389h1M153 389h5M159 389h5M167 389h3M151 390h3M158 390h4M163 390h2M166 390h1M194 390h1M148 391h1M151 391h2M155 391h2M159 391h1M161 391h6M171 391h1M151 392h1M155 392h2M158 392h4M163 392h1M169 392h1M150 393h1M156 393h1M158 393h2M161 393h1M149 394h1M159 394h1M164 394h1M153 395h1M163 395h1" stroke="#121212" stroke-width="1" transform="translate(0 0.5)"/>
<path d="M152 321h1M155 323h1M158 324h1M164 324h2M168 324h1M152 326h1M159 326h1M165 326h1M155 327h1M158 327h1M162 327h1M154 328h1M157 328h2M164 328h1M166 328h2M151 329h1M161 329h1M152 330h1M158 330h2M162 330h1M172 330h1M157 331h3M176 331h1M147 332h1M152 332h1M154 332h1M158 332h1M160 332h1M165 332h1M193 332h1M154 333h2M157 333h1M159 333h2M165 333h1M168 333h2M191 333h2M149 334h1M153 334h3M157 334h1M163 334h1M167 334h2M199 334h1M202 334h1M153 335h1M155 335h1M164 335h1M188 335h1M191 335h1M193 335h1M195 335h3M200 335h1M203 335h1M149 336h1M153 336h1M162 336h1M164 336h1M168 336h1M170 336h1M185 336h1M190 336h1M196 336h1M202 336h2M206 336h2M209 336h1M148 337h1M153 337h2M158 337h2M161 337h1M188 337h1M192 337h1M200 337h1M207 337h2M148 338h1M150 338h2M156 338h2M162 338h1M165 338h1M168 338h1M172 338h1M186 338h1M189 338h2M205 338h1M207 338h1M152 339h1M156 339h1M163 339h2M166 339h1M169 339h2M173 339h1M185 339h1M202 339h1M210 339h1M148 340h2M161 340h1M168 340h1M171 340h4M185 340h1M187 340h1M205 340h1M149 341h1M151 341h1M165 341h1M167 341h1M172 341h1M182 341h1M186 341h1M206 341h1M211 341h1M156 342h1M171 342h1M184 342h1M205 342h3M209 342h2M213 342h1M150 343h1M169 343h1M171 343h1M181 343h1M185 343h1M205 343h1M207 343h1M146 344h1M152 344h1M173 344h1M177 344h1M179 344h1M184 344h1M149 345h1M155 345h1M169 345h1M172 345h3M184 345h1M190 345h1M192 345h1M203 345h1M205 345h2M210 345h1M147 346h2M171 346h1M173 346h1M175 346h1M183 346h1M186 346h1M189 346h1M203 346h1M146 347h1M151 347h1M167 347h1M171 347h1M175 347h1M186 347h1M188 347h1M198 347h1M200 347h2M204 347h1M151 348h2M154 348h1M156 348h1M167 348h2M172 348h1M190 348h1M193 348h2M198 348h2M150 349h1M169 349h1M171 349h1M196 349h1M150 350h1M153 350h1M163 350h1M166 350h2M189 350h1M197 350h2M203 350h1M146 351h1M157 351h1M166 351h1M168 351h1M170 351h1M177 351h1M188 351h1M193 351h1M148 352h2M154 352h1M159 352h1M198 352h1M147 353h1M151 353h1M153 353h1M155 353h1M170 353h1M186 353h1M154 354h1M162 354h1M168 354h2M173 354h1M147 355h1M152 355h1M154 355h1M156 355h1M160 355h1M169 355h1M173 355h3M152 356h1M154 356h1M158 356h1M160 356h1M164 356h1M170 356h1M147 357h1M150 357h1M157 357h1M163 357h1M173 357h1M179 357h1M150 358h1M152 358h1M154 358h1M163 358h1M165 358h1M170 358h1M181 358h1M149 359h1M152 359h1M156 359h1M158 359h1M160 359h2M170 359h1M172 359h1M188 359h1M148 360h1M152 360h1M156 360h1M163 360h1M167 360h1M172 360h1M155 361h1M160 361h1M163 361h1M151 362h3M157 362h1M160 362h1M162 362h2M179 362h1M201 362h1M154 363h1M156 363h1M158 363h1M162 363h1M169 363h2M150 364h2M153 364h2M166 364h1M168 364h1M173 364h1M177 364h2M187 364h1M148 365h3M161 365h1M164 365h1M167 365h3M175 365h1M179 365h1M149 366h1M153 366h2M157 366h2M161 366h1M166 366h1M168 366h1M170 366h1M174 366h1M191 366h1M200 366h1M149 367h1M154 367h1M156 367h1M163 367h1M170 367h3M149 368h1M151 368h1M156 368h1M172 368h1M184 368h1M194 368h1M203 368h1M148 369h1M161 369h1M167 369h2M172 369h1M187 369h1M192 369h1M194 369h2M197 369h2M166 370h1M170 370h1M172 370h1M198 370h1M147 371h3M152 371h1M158 371h1M168 371h1M171 371h1M173 371h2M189 371h1M149 372h1M151 372h2M156 372h1M173 372h1M186 372h2M149 373h1M162 373h1M165 373h1M175 373h1M188 373h2M194 373h1M197 373h1M147 374h1M150 374h1M163 374h1M170 374h1M172 374h1M175 374h1M186 374h1M188 374h2M193 374h2M196 374h1M147 375h1M170 375h3M195 375h2M199 375h1M169 376h4M175 376h1M192 376h1M195 376h1M203 376h1M150 377h1M172 377h1M182 377h1M184 377h2M193 377h1M196 377h1M201 377h1M146 378h1M151 378h1M171 378h1M173 378h2M176 378h1M182 378h1M188 378h2M193 378h1M199 378h1M201 378h1M147 379h1M178 379h1M182 379h2M192 379h2M148 380h2M151 380h1M168 380h1M170 380h1M182 380h1M186 380h1M193 380h2M196 380h1M150 381h1M168 381h1M171 381h2M190 381h2M195 381h1M147 382h2M170 382h1M186 382h1M189 382h1M193 382h1M195 382h1M147 383h1M153 383h2M166 383h1M170 383h1M183 383h1M192 383h1M200 383h1M147 384h1M149 384h1M167 384h1M169 384h1M172 384h1M176 384h1M184 384h2M192 384h1M195 384h1M148 385h1M152 385h1M169 385h1M175 385h1M180 385h1M189 385h2M150 386h1M152 386h1M171 386h1M200 386h1M146 387h1M150 387h1M152 387h1M168 387h1M176 387h1M197 387h1M146 388h1M149 388h1M151 388h1M165 388h1M173 388h1M176 388h1M180 388h2M149 389h2M152 389h1M158 389h1M164 389h2M170 389h4M192 389h1M199 389h1M203 389h1M150 390h1M155 390h1M165 390h1M167 390h1M154 391h1M157 391h2M167 391h3M150 392h1M154 392h1M157 392h1M172 392h1M196 392h1M155 393h1M165 393h1M168 393h2M151 394h2M155 394h1M158 394h1M161 394h1M169 394h1M148 395h1M152 395h1M156 395h1M158 395h1M160 395h1M165 395h1" stroke="#2d2d2d" stroke-width="1" transform="translate(0 0.5)"/>
<path d="M160 313h1M173 314h1M165 315h1M161 316h1M194 316h1M203 316h1M175 317h1M177 317h1M152 319h1M155 319h1M158 319h1M166 319h1M168 319h1M174 319h1M176 319h1M151 320h1M164 320h1M171 320h1M180 320h1M149 321h2M156 321h1M169 321h4M176 321h1M146 322h3M157 322h1M160 322h1M164 322h1M166 322h4M173 322h2M146 323h1M148 323h1M150 323h1M153 323h2M156 323h1M158 323h2M162 323h1M166 323h1M170 323h2M175 323h1M183 323h1M227 323h1M149 324h1M153 324h1M156 324h1M159 324h1M161 324h1M167 324h1M173 324h2M233 324h1M150 325h1M153 325h1M155 325h1M160 325h2M168 325h2M171 325h1M183 325h1M185 325h1M148 326h1M150 326h1M157 326h2M160 326h2M163 326h2M166 326h1M169 326h1M171 326h1M173 326h1M177 326h1M181 326h1M147 327h1M151 327h2M156 327h2M161 327h1M164 327h3M169 327h3M174 327h2M177 327h1M216 327h1M150 328h1M155 328h1M161 328h1M163 328h1M169 328h1M171 328h1M174 328h1M176 328h1M181 328h1M183 328h1M147 329h2M150 329h1M160 329h1M162 329h1M165 329h5M175 329h1M210 329h1M153 330h3M157 330h1M165 330h5M174 330h1M176 330h1M203 330h1M211 330h1M152 331h2M155 331h1M164 331h2M168 331h1M175 331h1M189 331h1M199 331h1M203 331h1M205 331h1M213 331h1M146 332h1M155 332h1M159 332h1M161 332h1M163 332h2M166 332h1M168 332h4M191 332h1M194 332h2M198 332h1M205 332h1M227 332h1M146 333h1M149 333h5M156 333h1M158 333h1M161 333h1M163 333h2M166 333h1M177 333h1M183 333h1M190 333h1M193 333h1M196 333h1M199 333h1M208 333h1M211 333h1M213 333h1M215 333h2M146 334h1M148 334h1M150 334h2M156 334h1M158 334h1M161 334h2M166 334h1M169 334h1M171 334h2M175 334h2M179 334h1M192 334h1M195 334h1M197 334h2M201 334h1M203 334h2M206 334h1M209 334h1M216 334h1M151 335h1M154 335h1M159 335h1M161 335h1M163 335h1M167 335h1M169 335h1M171 335h1M175 335h1M180 335h1M189 335h1M194 335h1M201 335h2M204 335h3M214 335h1M147 336h1M151 336h2M154 336h2M158 336h1M172 336h2M181 336h1M183 336h1M188 336h1M210 336h2M149 337h1M152 337h1M168 337h2M172 337h1M174 337h3M178 337h1M181 337h1M183 337h1M185 337h3M189 337h1M193 337h1M195 337h1M203 337h2M219 337h1M146 338h1M149 338h1M155 338h1M167 338h1M169 338h2M173 338h1M176 338h1M183 338h3M188 338h1M208 338h2M146 339h1M149 339h1M151 339h1M153 339h1M157 339h1M172 339h1M174 339h1M184 339h1M188 339h1M194 339h1M207 339h1M211 339h1M150 340h2M154 340h1M158 340h1M179 340h1M181 340h4M188 340h1M190 340h1M206 340h1M209 340h1M148 341h1M154 341h1M166 341h1M173 341h2M177 341h2M181 341h1M184 341h2M188 341h1M205 341h1M207 341h1M215 341h1M148 342h2M165 342h1M167 342h1M170 342h1M174 342h2M179 342h1M181 342h2M185 342h1M208 342h1M146 343h1M149 343h1M163 343h1M170 343h1M173 343h4M186 343h2M210 343h2M147 344h2M150 344h1M169 344h1M171 344h2M174 344h1M178 344h1M186 344h1M190 344h1M205 344h1M208 344h1M210 344h1M218 344h1M146 345h2M152 345h1M164 345h1M170 345h1M175 345h2M180 345h1M182 345h1M187 345h1M204 345h1M207 345h1M209 345h1M151 346h1M169 346h1M172 346h1M177 346h2M181 346h2M185 346h1M197 346h1M204 346h1M206 346h2M209 346h2M215 346h1M147 347h1M149 347h1M152 347h1M162 347h1M172 347h2M181 347h5M192 347h1M195 347h1M205 347h1M207 347h2M210 347h1M231 347h1M146 348h1M148 348h1M150 348h1M170 348h1M188 348h1M191 348h1M200 348h2M203 348h1M206 348h2M209 348h1M147 349h2M176 349h1M180 349h1M183 349h2M186 349h1M191 349h1M194 349h1M198 349h1M202 349h1M205 349h1M210 349h1M147 350h1M149 350h1M158 350h1M168 350h2M171 350h1M174 350h4M180 350h1M184 350h5M190 350h2M195 350h2M199 350h2M205 350h2M148 351h2M155 351h1M163 351h1M165 351h1M167 351h1M173 351h1M176 351h1M186 351h2M189 351h1M192 351h1M194 351h2M197 351h1M199 351h1M211 351h1M147 352h1M171 352h2M174 352h4M191 352h2M196 352h1M200 352h1M211 352h1M146 353h1M156 353h1M162 353h1M172 353h2M175 353h1M181 353h1M185 353h1M187 353h2M191 353h1M193 353h1M198 353h1M211 353h1M229 353h1M151 354h1M153 354h1M155 354h1M167 354h1M170 354h3M181 354h1M187 354h1M193 354h1M195 354h1M198 354h1M204 354h1M221 354h1M146 355h1M148 355h1M150 355h1M157 355h1M165 355h1M170 355h3M176 355h1M178 355h1M182 355h1M186 355h1M190 355h4M209 355h1M213 355h1M215 355h1M234 355h1M150 356h2M163 356h1M165 356h2M169 356h1M173 356h1M175 356h1M178 356h1M181 356h1M185 356h1M189 356h1M192 356h1M199 356h1M205 356h1M207 356h1M146 357h1M148 357h1M151 357h1M154 357h1M161 357h1M167 357h2M176 357h1M180 357h1M182 357h1M189 357h1M195 357h2M202 357h1M205 357h1M146 358h1M149 358h1M166 358h1M168 358h1M171 358h2M175 358h1M178 358h1M187 358h5M194 358h2M197 358h3M206 358h1M148 359h1M150 359h1M154 359h1M168 359h1M171 359h1M175 359h1M179 359h1M183 359h1M187 359h1M191 359h1M197 359h1M203 359h1M146 360h2M153 360h1M165 360h2M169 360h2M173 360h1M175 360h1M180 360h2M186 360h1M190 360h2M194 360h1M196 360h1M198 360h1M202 360h2M147 361h1M151 361h3M161 361h1M166 361h1M169 361h2M173 361h1M176 361h1M179 361h1M184 361h1M187 361h1M227 361h1M146 362h4M154 362h1M164 362h1M166 362h3M171 362h2M174 362h2M188 362h1M190 362h2M196 362h2M199 362h1M147 363h3M153 363h1M155 363h1M160 363h1M165 363h2M171 363h2M180 363h1M183 363h3M193 363h1M196 363h1M204 363h1M148 364h1M160 364h1M163 364h3M167 364h1M171 364h2M182 364h1M189 364h1M191 364h2M200 364h2M153 365h2M156 365h1M159 365h1M170 365h1M172 365h2M176 365h3M181 365h2M184 365h3M188 365h2M193 365h1M196 365h1M199 365h2M207 365h1M150 366h2M171 366h1M173 366h1M176 366h1M186 366h2M192 366h2M196 366h2M199 366h1M201 366h1M206 366h1M209 366h1M211 366h1M147 367h2M150 367h3M167 367h2M173 367h1M180 367h1M183 367h1M186 367h1M190 367h3M195 367h1M198 367h1M203 367h1M147 368h2M158 368h1M161 368h1M164 368h1M166 368h1M170 368h1M173 368h3M180 368h2M187 368h2M190 368h1M196 368h1M199 368h1M201 368h1M208 368h1M147 369h1M149 369h3M155 369h1M160 369h1M169 369h1M173 369h1M175 369h1M178 369h2M182 369h1M185 369h1M189 369h1M196 369h1M199 369h4M208 369h1M146 370h1M155 370h1M173 370h1M175 370h1M177 370h1M181 370h3M187 370h1M189 370h3M194 370h2M200 370h1M202 370h1M150 371h1M153 371h1M165 371h1M175 371h1M178 371h1M180 371h2M184 371h1M186 371h1M192 371h1M195 371h1M197 371h1M199 371h5M207 371h1M146 372h2M150 372h1M168 372h1M170 372h1M174 372h2M181 372h1M183 372h1M188 372h1M196 372h1M198 372h4M147 373h2M170 373h1M173 373h1M178 373h1M181 373h1M183 373h1M185 373h3M191 373h2M198 373h2M203 373h1M206 373h1M171 374h1M173 374h2M176 374h1M184 374h1M187 374h1M191 374h2M195 374h1M201 374h1M203 374h1M211 374h1M148 375h1M150 375h1M173 375h2M178 375h1M186 375h2M191 375h1M193 375h2M198 375h1M200 375h1M202 375h2M205 375h1M146 376h3M167 376h1M173 376h1M176 376h1M178 376h1M186 376h1M189 376h1M193 376h1M199 376h2M204 376h1M215 376h1M146 377h2M149 377h1M173 377h1M177 377h1M181 377h1M188 377h1M190 377h1M195 377h1M197 377h4M202 377h1M207 377h1M147 378h1M168 378h1M172 378h1M175 378h1M183 378h2M186 378h1M191 378h2M195 378h1M154 379h1M168 379h1M171 379h1M173 379h1M176 379h1M179 379h1M188 379h3M194 379h1M197 379h5M204 379h1M206 379h1M146 380h1M174 380h2M177 380h1M180 380h1M188 380h1M190 380h1M192 380h1M200 380h1M202 380h1M206 380h1M146 381h3M167 381h1M169 381h2M174 381h3M178 381h1M181 381h1M183 381h1M185 381h1M193 381h2M196 381h2M205 381h1M218 381h1M173 382h6M181 382h1M184 382h2M187 382h1M192 382h1M194 382h1M202 382h2M206 382h1M208 382h1M211 382h1M149 383h1M168 383h1M172 383h2M177 383h1M184 383h1M187 383h1M189 383h1M193 383h1M196 383h3M203 383h1M148 384h1M166 384h1M173 384h1M175 384h1M182 384h2M187 384h1M189 384h3M194 384h1M196 384h2M201 384h1M154 385h1M167 385h1M171 385h1M184 385h1M186 385h3M191 385h1M194 385h1M198 385h1M201 385h1M146 386h2M151 386h1M162 386h1M170 386h1M172 386h2M176 386h1M183 386h2M186 386h1M188 386h1M191 386h1M194 386h2M197 386h2M217 386h1M147 387h1M149 387h1M153 387h1M165 387h1M167 387h1M170 387h1M173 387h1M179 387h3M192 387h1M194 387h1M196 387h1M200 387h1M202 387h1M207 387h1M148 388h1M158 388h1M172 388h1M174 388h1M185 388h1M187 388h1M190 388h1M193 388h1M195 388h1M197 388h1M166 389h1M176 389h1M185 389h1M187 389h1M189 389h1M191 389h1M194 389h2M200 389h1M148 390h1M154 390h1M156 390h2M162 390h1M168 390h2M172 390h1M177 390h1M186 390h2M192 390h2M197 390h1M199 390h1M206 390h1M150 391h1M153 391h1M172 391h1M175 391h1M178 391h1M183 391h1M187 391h1M190 391h1M192 391h3M196 391h1M162 392h1M164 392h3M170 392h1M174 392h2M177 392h1M146 393h2M154 393h1M157 393h1M160 393h1M164 393h1M166 393h1M170 393h2M173 393h1M180 393h1M183 393h1M191 393h2M195 393h1M200 393h1M148 394h1M150 394h1M156 394h2M160 394h1M162 394h2M170 394h1M182 394h1M186 394h1M198 394h1M147 395h1M157 395h1M159 395h1M167 395h1M171 395h1" stroke="#696969" stroke-width="1" transform="translate(0 0.5)"/>
<path d="M351 319h1M332 320h1M344 320h1M348 320h1M351 320h1M346 321h1M355 321h1M357 321h1M343 322h1M347 322h1M355 322h1M336 323h1M345 323h1M347 323h2M352 323h3M356 323h1M344 324h2M349 324h2M355 324h1M349 325h2M352 325h1M354 325h2M344 326h2M349 326h1M351 326h3M355 326h1M345 327h1M348 327h1M350 327h3M354 327h1M356 327h1M337 328h1M341 328h1M344 328h3M351 328h3M328 329h1M340 329h1M345 329h2M353 329h1M337 330h1M340 330h2M344 330h1M346 330h1M349 330h1M326 331h1M331 331h1M341 331h1M346 331h1M329 332h1M340 332h1M344 332h1M332 333h1M340 333h1M295 334h1M328 334h1M331 334h1M337 334h1M339 334h1M343 334h1M326 335h1M334 335h1M304 336h1M321 336h2M327 336h1M329 336h1M337 336h1M313 337h1M335 337h1M307 338h1M321 338h1M311 339h1M315 339h1M334 339h1M293 340h1M303 340h1M305 340h1M307 340h2M321 340h1M329 340h2M293 341h1M306 341h1M314 341h1M316 341h1M319 341h1M341 341h1M310 342h1M313 342h1M322 342h1M301 343h2M306 343h1M318 343h1M320 343h1M298 344h1M302 344h1M304 344h1M308 344h1M311 344h1M318 344h1M302 345h1M286 346h1M300 346h1M306 346h1M311 346h1M291 347h1M302 347h1M306 347h1M308 347h1M312 347h2M327 347h1M298 348h1M305 348h1M309 348h1M315 348h2M292 349h1M294 349h1M301 349h1M303 349h1M307 349h1M310 349h1M313 349h1M315 349h1M296 350h1M312 350h1M318 350h1M320 350h1M295 351h1M297 351h1M302 351h1M306 351h1M308 351h1M310 351h2M315 351h1M320 351h1M326 351h1M295 352h1M298 352h1M304 352h1M308 352h2M313 352h1M323 352h1M334 352h1M296 353h1M300 353h2M304 353h1M314 353h1M316 353h1M296 354h1M299 354h5M305 354h1M310 354h1M320 354h1M291 355h2M294 355h1M298 355h1M302 355h2M306 355h3M310 355h1M315 355h4M334 355h1M297 356h1M300 356h1M303 356h2M306 356h1M308 356h1M310 356h1M316 356h1M318 356h1M326 356h2M297 357h1M300 357h1M303 357h5M309 357h1M311 357h6M318 357h1M323 357h1M325 357h1M297 358h1M299 358h1M303 358h2M306 358h2M312 358h2M315 358h1M318 358h2M322 358h1M326 358h1M292 359h2M295 359h1M297 359h3M302 359h1M306 359h2M310 359h1M312 359h1M316 359h1M320 359h1M322 359h4M329 359h1M292 360h1M297 360h1M299 360h3M303 360h1M305 360h1M307 360h1M309 360h3M314 360h3M318 360h1M321 360h1M330 360h1M291 361h1M294 361h1M298 361h1M300 361h1M303 361h1M305 361h1M314 361h1M317 361h1M287 362h1M296 362h1M298 362h1M302 362h2M305 362h1M308 362h1M312 362h1M333 362h1M335 362h2M341 362h1M298 363h1M300 363h1M302 363h1M307 363h1M312 363h1M319 363h2M328 363h1M331 363h1M289 364h1M294 364h1M297 364h5M303 364h6M311 364h1M315 364h2M321 364h1M323 364h1M325 364h2M332 364h1M335 364h1M285 365h1M290 365h1M293 365h1M297 365h1M303 365h1M307 365h1M310 365h2M313 365h1M315 365h1M318 365h2M322 365h1M324 365h2M327 365h1M330 365h1M290 366h3M296 366h1M298 366h2M301 366h1M304 366h2M308 366h1M310 366h1M313 366h2M316 366h2M319 366h1M321 366h2M324 366h2M327 366h1M329 366h1M332 366h1M338 366h1M280 367h1M282 367h1M285 367h1M290 367h2M295 367h11M307 367h8M316 367h2M319 367h1M322 367h3M327 367h2M330 367h1M332 367h1M280 368h1M287 368h2M291 368h4M296 368h3M301 368h4M306 368h23M330 368h1M335 368h4M282 369h1M285 369h1M287 369h1M289 369h3M293 369h1M295 369h1M298 369h11M311 369h12M324 369h7M333 369h1M338 369h1M346 369h1M286 370h1M289 370h2M294 370h2M297 370h2M300 370h4M305 370h2M309 370h1M311 370h2M314 370h3M319 370h5M325 370h6M332 370h2M335 370h2M279 371h43M323 371h13M279 372h57M338 372h1M279 373h10M290 373h15M306 373h1M308 373h29M340 373h1M279 374h15M295 374h3M299 374h12M312 374h25M338 374h1M340 374h1M279 375h32M312 375h26M340 375h1M279 376h50M330 376h8M340 376h1M279 377h4M286 377h5M292 377h10M303 377h1M305 377h2M308 377h6M315 377h26M279 378h3M283 378h14M298 378h2M301 378h37M339 378h1M341 378h1M279 379h25M305 379h33M339 379h2M279 380h7M287 380h28M316 380h27M279 381h21M301 381h40M279 382h2M282 382h3M286 382h57M279 383h4M284 383h23M308 383h2M311 383h30M342 383h1M279 384h2M282 384h6M289 384h2M292 384h50M279 385h13M293 385h49M343 385h1M279 386h43M323 386h18M342 386h1M279 387h23M303 387h39M279 388h2M282 388h42M325 388h18M279 389h49M329 389h13M343 389h1M280 390h27M309 390h29M339 390h1M341 390h1M279 391h47M327 391h11M339 391h1M341 391h2M279 392h35M315 392h10M326 392h12M339 392h2M342 392h1M279 393h37M317 393h19M337 393h3M341 393h1M279 394h7M287 394h3M291 394h24M316 394h13M330 394h8M339 394h1M341 394h1M279 395h27M307 395h5M313 395h1M315 395h1M317 395h20M340 395h1" stroke="#121212" stroke-width="1" transform="translate(0 0.5)"/>
<path d="M341 316h1M348 317h1M350 317h1M353 317h1M343 318h1M343 319h1M346 319h1M350 319h1M353 319h4M334 320h1M343 320h1M345 320h2M350 320h1M358 320h1M330 321h1M332 321h1M338 321h1M340 321h1M343 321h1M335 322h1M345 322h1M351 322h1M359 322h2M330 323h1M340 323h3M358 323h1M330 324h1M335 324h1M340 324h1M346 324h2M351 324h4M356 324h1M359 324h1M333 325h1M337 325h1M340 325h2M344 325h4M356 325h1M358 325h1M360 325h1M320 326h1M322 326h2M325 326h1M336 326h1M346 326h3M359 326h1M363 326h1M310 327h1M320 327h1M332 327h1M336 327h2M339 327h1M346 327h1M349 327h1M353 327h1M359 327h1M307 328h1M319 328h1M334 328h1M338 328h1M343 328h1M347 328h1M354 328h1M310 329h1M318 329h1M325 329h1M336 329h1M342 329h1M350 329h1M354 329h1M358 329h1M301 330h1M313 330h1M331 330h1M335 330h1M343 330h1M350 330h2M355 330h1M357 330h1M318 331h1M320 331h2M335 331h1M345 331h1M350 331h1M353 331h1M355 331h2M358 331h1M360 331h1M309 332h1M319 332h1M321 332h1M330 332h1M336 332h3M341 332h1M343 332h1M351 332h1M354 332h1M295 333h1M312 333h1M323 333h2M326 333h2M335 333h1M337 333h1M344 333h1M317 334h1M323 334h1M333 334h1M348 334h2M296 335h1M315 335h1M324 335h1M327 335h1M331 335h1M335 335h2M339 335h1M350 335h1M352 335h1M356 335h1M314 336h1M316 336h1M331 336h2M334 336h1M287 337h1M295 337h1M305 337h1M316 337h1M322 337h1M326 337h1M328 337h2M332 337h1M334 337h1M286 338h1M292 338h1M302 338h2M305 338h1M311 338h3M319 338h2M329 338h1M331 338h1M340 338h1M297 339h1M300 339h2M314 339h1M324 339h1M327 339h2M331 339h1M339 339h2M343 339h1M295 340h1M298 340h1M304 340h1M310 340h1M323 340h1M328 340h1M343 340h1M302 341h1M304 341h1M308 341h1M322 341h1M333 341h1M291 342h1M299 342h1M302 342h1M304 342h1M307 342h1M312 342h1M318 342h1M323 342h1M332 342h1M337 342h1M340 342h1M285 343h1M290 343h1M292 343h1M296 343h2M308 343h1M313 343h1M316 343h1M331 343h1M336 343h1M293 344h1M305 344h1M307 344h1M310 344h1M312 344h1M316 344h1M320 344h1M285 345h1M293 345h1M296 345h1M299 345h3M303 345h4M308 345h4M315 345h2M318 345h2M329 345h1M333 345h1M336 345h1M289 346h1M293 346h1M296 346h1M303 346h1M308 346h1M314 346h1M319 346h1M324 346h1M332 346h1M289 347h1M303 347h1M305 347h1M310 347h1M333 347h1M292 348h2M295 348h1M297 348h1M301 348h1M314 348h1M317 348h4M297 349h1M299 349h1M302 349h1M304 349h2M309 349h1M311 349h1M318 349h3M330 349h1M295 350h1M298 350h1M302 350h2M308 350h1M311 350h1M315 350h1M319 350h1M321 350h1M287 351h1M291 351h1M298 351h2M304 351h2M313 351h1M323 351h1M338 351h1M285 352h1M288 352h1M300 352h2M305 352h1M307 352h1M310 352h1M314 352h1M316 352h2M320 352h1M291 353h2M295 353h1M297 353h2M302 353h2M306 353h5M315 353h1M320 353h1M333 353h1M283 354h1M297 354h1M304 354h1M306 354h2M309 354h1M314 354h2M322 354h1M324 354h1M297 355h1M304 355h2M313 355h1M319 355h1M286 356h1M290 356h2M293 356h1M295 356h1M298 356h1M305 356h1M311 356h2M314 356h2M320 356h1M324 356h1M329 356h1M331 356h2M290 357h2M301 357h1M308 357h1M310 357h1M317 357h1M322 357h1M333 357h1M337 357h1M292 358h1M296 358h1M302 358h1M308 358h1M316 358h1M327 358h2M294 359h1M296 359h1M314 359h2M317 359h1M328 359h1M330 359h3M336 359h1M295 360h1M304 360h1M319 360h1M322 360h1M280 361h1M284 361h1M293 361h1M299 361h1M302 361h1M304 361h1M308 361h3M312 361h1M315 361h1M320 361h1M325 361h1M327 361h2M330 361h1M295 362h1M297 362h1M299 362h1M306 362h1M309 362h3M313 362h1M319 362h1M323 362h3M329 362h1M284 363h2M290 363h1M292 363h1M297 363h1M299 363h1M301 363h1M306 363h1M308 363h1M314 363h1M317 363h2M333 363h1M339 363h1M293 364h1M302 364h1M309 364h2M312 364h1M319 364h2M322 364h1M328 364h1M334 364h1M338 364h1M294 365h1M296 365h1M300 365h2M305 365h2M309 365h1M312 365h1M314 365h1M316 365h2M326 365h1M328 365h2M331 365h1M338 365h1M343 365h1M286 366h1M288 366h1M295 366h1M297 366h1M303 366h1M306 366h1M311 366h2M315 366h1M318 366h1M323 366h1M326 366h1M328 366h1M333 366h1M337 366h1M339 366h1M286 367h1M288 367h2M306 367h1M318 367h1M321 367h1M325 367h1M329 367h1M334 367h1M338 367h2M341 367h1M284 368h1M286 368h1M290 368h1M299 368h1M305 368h1M329 368h1M331 368h4M339 368h1M343 368h1M284 369h1M296 369h1M309 369h1M323 369h1M331 369h1M335 369h1M337 369h1M344 369h1M279 370h1M285 370h1M292 370h1M296 370h1M304 370h1M307 370h2M324 370h1M331 370h1M337 370h1M341 370h1M322 371h1M337 371h1M289 373h1M305 373h1M337 373h2M341 373h1M294 374h1M298 374h1M311 374h1M338 375h1M329 376h1M342 376h1M283 377h2M291 377h1M304 377h1M307 377h1M314 377h1M342 377h1M282 378h1M297 378h1M300 378h1M338 378h1M304 379h1M338 379h1M286 380h1M344 380h1M341 381h1M344 381h1M285 382h1M343 382h1M310 383h1M341 383h1M281 384h1M288 384h1M291 384h1M292 385h1M344 385h1M341 386h1M346 386h1M302 387h1M344 387h1M281 388h1M347 388h1M328 389h1M345 389h1M279 390h1M338 390h1M340 390h1M326 391h1M338 391h1M340 391h1M314 392h1M338 392h1M344 392h1M336 393h1M342 393h2M286 394h1M290 394h1M329 394h1M338 394h1M340 394h1M306 395h1M312 395h1M314 395h1M337 395h2M344 395h1" stroke="#2d2d2d" stroke-width="1" transform="translate(0 0.5)"/>
<path d="M312 310h1M353 312h1M312 313h1M342 313h1M331 314h1M338 314h1M346 314h1M359 314h1M352 315h1M358 315h1M279 316h1M338 316h1M340 316h1M349 316h1M352 316h1M354 316h1M359 316h1M340 317h1M344 317h1M347 317h1M351 317h1M354 317h1M340 318h1M342 318h1M346 318h1M349 318h1M352 318h1M354 318h1M357 318h3M309 319h1M313 319h2M331 319h2M341 319h1M347 319h3M358 319h2M367 319h1M306 320h1M311 320h1M320 320h1M337 320h1M340 320h1M342 320h1M352 320h2M356 320h1M359 320h2M310 321h1M316 321h1M320 321h2M324 321h3M328 321h1M331 321h1M336 321h2M345 321h1M347 321h3M351 321h1M354 321h1M359 321h3M303 322h1M306 322h1M313 322h1M322 322h1M331 322h1M336 322h1M340 322h2M344 322h1M346 322h1M348 322h1M350 322h1M352 322h3M358 322h1M363 322h1M290 323h1M313 323h1M317 323h1M321 323h1M332 323h1M334 323h1M337 323h1M339 323h1M343 323h2M346 323h1M349 323h1M355 323h1M360 323h1M304 324h1M311 324h1M318 324h1M328 324h1M334 324h1M336 324h1M338 324h2M348 324h1M357 324h1M360 324h1M363 324h1M365 324h1M306 325h1M313 325h1M315 325h2M321 325h2M324 325h2M332 325h1M335 325h1M339 325h1M342 325h1M348 325h1M353 325h1M357 325h1M294 326h2M299 326h2M305 326h1M307 326h1M314 326h1M316 326h1M318 326h1M321 326h1M324 326h1M326 326h1M328 326h1M331 326h1M335 326h1M337 326h4M342 326h2M356 326h3M304 327h2M312 327h1M322 327h1M329 327h1M331 327h1M333 327h2M340 327h1M343 327h2M347 327h1M357 327h1M360 327h2M301 328h1M308 328h1M313 328h2M316 328h2M320 328h2M325 328h1M327 328h3M331 328h1M333 328h1M335 328h1M339 328h2M348 328h3M356 328h3M360 328h1M362 328h1M364 328h1M366 328h1M291 329h1M316 329h1M320 329h1M326 329h2M329 329h1M331 329h3M338 329h2M343 329h2M347 329h3M351 329h1M355 329h3M361 329h1M298 330h1M309 330h3M314 330h3M320 330h1M322 330h4M327 330h1M329 330h1M333 330h1M336 330h1M348 330h1M353 330h2M359 330h1M361 330h1M296 331h1M303 331h1M309 331h1M314 331h1M316 331h1M319 331h1M322 331h2M325 331h1M328 331h1M332 331h3M337 331h1M340 331h1M342 331h3M347 331h1M349 331h1M351 331h2M354 331h1M357 331h1M362 331h1M288 332h1M299 332h1M304 332h1M308 332h1M314 332h1M318 332h1M322 332h1M326 332h2M333 332h3M339 332h1M342 332h1M348 332h3M353 332h1M355 332h3M359 332h1M281 333h1M285 333h1M294 333h1M305 333h2M308 333h1M315 333h2M318 333h1M320 333h1M325 333h1M329 333h2M338 333h2M347 333h1M350 333h3M354 333h1M356 333h1M360 333h1M366 333h1M284 334h1M296 334h1M300 334h4M305 334h1M308 334h1M311 334h3M320 334h3M324 334h1M335 334h2M346 334h2M350 334h1M355 334h2M361 334h1M286 335h1M293 335h1M299 335h1M304 335h1M306 335h3M317 335h3M323 335h1M325 335h1M328 335h1M332 335h2M341 335h1M349 335h1M353 335h1M360 335h1M292 336h1M295 336h1M297 336h3M306 336h2M312 336h1M318 336h1M323 336h4M330 336h1M336 336h1M338 336h1M340 336h1M342 336h1M344 336h1M346 336h3M352 336h1M356 336h2M359 336h2M286 337h1M290 337h1M296 337h2M300 337h1M308 337h2M314 337h1M318 337h4M325 337h1M333 337h1M336 337h2M340 337h1M343 337h4M348 337h1M352 337h2M356 337h1M358 337h1M284 338h1M289 338h3M296 338h2M300 338h2M308 338h2M315 338h1M323 338h1M325 338h2M334 338h3M358 338h1M289 339h1M291 339h1M295 339h2M298 339h2M302 339h1M304 339h3M317 339h3M321 339h1M323 339h1M326 339h1M329 339h2M332 339h2M337 339h1M341 339h1M344 339h1M347 339h1M351 339h1M287 340h2M290 340h1M296 340h1M300 340h2M312 340h1M314 340h2M317 340h2M320 340h1M322 340h1M325 340h3M331 340h1M336 340h1M339 340h2M344 340h1M348 340h1M355 340h1M288 341h2M291 341h2M294 341h2M297 341h3M301 341h1M303 341h1M307 341h1M310 341h1M315 341h1M320 341h2M323 341h2M328 341h3M332 341h1M335 341h1M338 341h1M342 341h1M348 341h1M281 342h2M284 342h1M286 342h2M289 342h1M292 342h2M295 342h3M303 342h1M308 342h1M315 342h1M317 342h1M320 342h2M324 342h3M329 342h1M331 342h1M333 342h4M338 342h1M347 342h1M350 342h2M354 342h1M357 342h1M288 343h1M291 343h1M294 343h2M298 343h2M303 343h2M310 343h2M315 343h1M324 343h2M329 343h1M334 343h1M342 343h2M347 343h1M353 343h1M281 344h1M283 344h2M288 344h1M291 344h2M295 344h1M299 344h3M309 344h1M314 344h2M317 344h1M319 344h1M321 344h2M324 344h2M336 344h1M286 345h1M288 345h1M290 345h1M292 345h1M294 345h2M297 345h1M307 345h1M314 345h1M320 345h1M322 345h7M330 345h3M352 345h1M354 345h1M288 346h1M291 346h1M294 346h2M302 346h1M304 346h1M307 346h1M310 346h1M312 346h2M315 346h1M317 346h2M322 346h1M325 346h4M336 346h1M339 346h1M343 346h1M348 346h1M354 346h1M283 347h1M287 347h1M290 347h1M293 347h1M295 347h3M299 347h2M314 347h5M320 347h1M322 347h1M325 347h1M329 347h1M353 347h1M283 348h1M285 348h1M289 348h2M299 348h2M302 348h1M304 348h1M306 348h1M308 348h1M313 348h1M321 348h1M323 348h1M330 348h1M332 348h1M335 348h1M283 349h1M290 349h2M293 349h1M295 349h1M298 349h1M300 349h1M306 349h1M312 349h1M314 349h1M316 349h1M323 349h1M326 349h1M331 349h2M349 349h1M358 349h1M288 350h1M291 350h3M297 350h1M299 350h2M304 350h4M309 350h2M313 350h2M316 350h1M322 350h1M324 350h3M328 350h1M330 350h2M334 350h1M336 350h2M339 350h1M352 350h1M355 350h1M280 351h1M284 351h1M288 351h3M292 351h1M294 351h1M296 351h1M300 351h2M303 351h1M307 351h1M312 351h1M316 351h1M319 351h1M336 351h1M352 351h1M281 352h1M283 352h2M289 352h2M292 352h2M296 352h1M302 352h1M306 352h1M311 352h1M315 352h1M318 352h1M321 352h2M324 352h1M329 352h1M335 352h1M282 353h1M287 353h1M290 353h1M294 353h1M299 353h1M305 353h1M311 353h3M319 353h1M321 353h1M329 353h1M331 353h1M335 353h1M354 353h1M280 354h1M287 354h2M291 354h1M293 354h1M298 354h1M308 354h1M313 354h1M316 354h1M318 354h2M323 354h1M325 354h2M330 354h1M333 354h1M338 354h1M348 354h1M353 354h1M282 355h1M284 355h2M287 355h1M295 355h1M299 355h1M301 355h1M309 355h1M311 355h2M320 355h2M324 355h1M326 355h2M330 355h1M337 355h1M342 355h1M289 356h1M292 356h1M296 356h1M301 356h2M307 356h1M309 356h1M313 356h1M317 356h1M319 356h1M325 356h1M328 356h1M333 356h3M348 356h1M283 357h2M286 357h2M289 357h1M292 357h3M296 357h1M319 357h1M324 357h1M326 357h4M331 357h1M334 357h3M287 358h2M290 358h1M293 358h3M300 358h2M305 358h1M310 358h2M314 358h1M317 358h1M320 358h2M323 358h2M329 358h1M336 358h1M342 358h1M353 358h1M281 359h1M283 359h1M285 359h4M290 359h1M300 359h2M303 359h2M308 359h2M311 359h1M313 359h1M334 359h1M338 359h2M341 359h1M344 359h1M356 359h1M280 360h1M287 360h1M290 360h1M294 360h1M298 360h1M302 360h1M306 360h1M308 360h1M312 360h1M317 360h1M324 360h1M326 360h2M329 360h1M332 360h1M334 360h1M337 360h2M340 360h1M349 360h1M279 361h1M282 361h1M288 361h3M292 361h1M296 361h2M306 361h2M311 361h1M313 361h1M319 361h1M321 361h4M326 361h1M331 361h2M338 361h1M342 361h1M347 361h1M283 362h1M285 362h1M288 362h1M291 362h2M300 362h2M307 362h1M314 362h1M317 362h2M326 362h2M332 362h1M281 363h1M283 363h1M294 363h3M305 363h1M309 363h3M313 363h1M315 363h2M321 363h4M326 363h2M330 363h1M335 363h1M337 363h1M341 363h1M283 364h1M295 364h1M313 364h2M317 364h2M324 364h1M329 364h1M331 364h1M341 364h1M343 364h2M348 364h2M363 364h1M282 365h2M286 365h4M292 365h1M299 365h1M308 365h1M320 365h2M323 365h1M332 365h1M334 365h2M337 365h1M340 365h1M347 365h1M355 365h1M279 366h1M283 366h1M293 366h2M300 366h1M302 366h1M307 366h1M320 366h1M330 366h1M334 366h2M350 366h2M281 367h1M284 367h1M292 367h3M315 367h1M326 367h1M333 367h1M335 367h1M343 367h1M348 367h1M279 368h1M283 368h1M289 368h1M295 368h1M300 368h1M340 368h1M342 368h1M279 369h1M281 369h1M283 369h1M286 369h1M292 369h1M294 369h1M297 369h1M310 369h1M334 369h1M336 369h1M339 369h2M342 369h2M347 369h1M366 369h1M282 370h1M284 370h1M291 370h1M293 370h1M299 370h1M310 370h1M313 370h1M338 370h1M340 370h1M345 370h1M336 371h1M340 371h3M336 372h2M339 372h1M342 372h1M345 372h1M339 373h1M342 373h1M341 374h1M343 374h1M351 374h1M368 374h1M311 375h1M339 375h1M342 375h1M347 375h1M339 376h1M341 376h1M344 376h1M285 377h1M302 377h1M343 377h2M340 378h1M342 378h1M342 379h1M344 379h1M347 379h1M343 380h1M343 381h1M281 382h1M344 382h1M347 382h1M283 383h1M307 383h1M343 383h3M343 384h1M342 385h1M345 385h1M322 386h1M343 386h1M345 386h1M342 387h2M324 388h1M343 388h1M344 389h1M346 389h1M368 389h1M307 390h2M343 390h1M348 390h1M345 391h1M347 391h1M325 392h1M343 392h1M340 393h1M344 393h1M315 394h1M345 394h1M316 395h1M339 395h1M341 395h2" stroke="#696969" stroke-width="1" transform="translate(0 0.5)"/>
<path d="M489 325h1M491 325h1M478 326h1M489 326h1M492 326h1M479 327h1M484 327h2M490 327h1M493 327h1M498 327h1M479 328h4M487 328h1M491 328h3M496 328h1M507 328h1M475 329h2M478 329h4M484 329h1M488 329h2M491 329h5M467 330h1M473 330h1M479 330h2M482 330h7M490 330h3M495 330h1M474 331h1M476 331h1M478 331h4M484 331h11M500 331h1M502 331h1M469 332h1M471 332h1M474 332h1M476 332h18M495 332h3M500 332h1M505 332h1M468 333h1M474 333h2M477 333h1M479 333h9M489 333h4M494 333h1M496 333h2M499 333h1M502 333h1M504 333h1M468 334h1M470 334h2M473 334h1M475 334h5M481 334h10M492 334h4M497 334h1M499 334h1M504 334h1M471 335h1M473 335h10M484 335h13M498 335h2M503 335h1M470 336h1M472 336h6M479 336h15M495 336h4M502 336h1M505 336h1M456 337h1M467 337h2M471 337h1M474 337h25M501 337h1M470 338h6M477 338h21M499 338h2M502 338h1M504 338h1M470 339h4M475 339h22M465 340h1M467 340h1M469 340h29M469 341h3M473 341h14M488 341h8M497 341h1M500 341h2M466 342h1M468 342h3M472 342h22M495 342h1M462 343h1M465 343h1M467 343h1M470 343h3M474 343h2M477 343h3M482 343h7M491 343h1M499 343h1M506 343h1M467 344h1M470 344h2M474 344h6M481 344h11M493 344h1M495 344h1M497 344h1M500 344h1M466 345h1M468 345h1M470 345h2M473 345h15M489 345h3M493 345h1M496 345h1M498 345h1M465 346h1M468 346h4M473 346h3M477 346h13M491 346h1M493 346h3M498 346h1M467 347h12M481 347h5M488 347h1M491 347h1M493 347h5M468 348h10M479 348h1M481 348h12M495 348h1M499 348h1M464 349h1M467 349h1M470 349h19M490 349h4M495 349h1M498 349h2M471 350h23M496 350h3M466 351h1M468 351h1M470 351h1M472 351h4M477 351h1M480 351h8M489 351h4M494 351h1M496 351h1M470 352h4M475 352h6M483 352h9M493 352h5M471 353h13M485 353h14M472 354h22M495 354h1M497 354h1M500 354h2M471 355h1M476 355h5M482 355h15M499 355h1M468 356h2M477 356h1M480 356h19M501 356h1M474 357h4M479 357h2M482 357h4M487 357h2M490 357h5M496 357h1M469 358h1M471 358h1M475 358h1M477 358h1M480 358h9M490 358h7M498 358h3M468 359h1M478 359h5M484 359h7M492 359h1M494 359h1M496 359h1M498 359h1M502 359h1M472 360h1M474 360h1M478 360h1M482 360h5M488 360h3M492 360h5M499 360h1M459 361h1M473 361h1M480 361h17M499 361h1M479 362h2M482 362h1M484 362h2M487 362h2M491 362h1M494 362h3M498 362h4M443 363h1M454 363h1M474 363h1M480 363h1M482 363h1M485 363h6M492 363h1M494 363h1M457 364h1M477 364h1M480 364h1M482 364h1M485 364h5M491 364h4M496 364h1M452 365h1M457 365h1M476 365h2M480 365h1M482 365h4M487 365h6M452 366h1M456 366h1M466 366h1M478 366h1M483 366h5M490 366h1M494 366h1M497 366h1M431 367h1M465 367h2M479 367h1M481 367h1M484 367h1M486 367h1M488 367h2M491 367h1M494 367h1M438 368h1M452 368h1M454 368h1M457 368h1M475 368h1M488 368h1M490 368h1M435 369h1M445 369h2M448 369h1M451 369h2M456 369h2M480 369h2M484 369h1M487 369h1M490 369h1M493 369h1M437 370h1M439 370h1M444 370h2M450 370h1M455 370h1M461 370h1M482 370h1M491 370h2M498 370h1M435 371h2M438 371h1M440 371h1M442 371h2M445 371h1M449 371h1M451 371h1M455 371h1M458 371h1M481 371h1M483 371h1M485 371h1M435 372h2M438 372h2M443 372h1M445 372h2M451 372h2M454 372h2M457 372h1M486 372h1M430 373h1M435 373h1M437 373h2M441 373h2M444 373h5M450 373h3M454 373h2M458 373h1M466 373h1M477 373h1M429 374h1M431 374h1M436 374h2M440 374h1M442 374h2M446 374h6M453 374h1M455 374h1M458 374h2M489 374h1M425 375h2M430 375h1M432 375h1M435 375h3M440 375h2M444 375h4M449 375h1M451 375h1M453 375h4M464 375h1M470 375h2M425 376h3M430 376h1M433 376h1M435 376h1M437 376h5M443 376h3M447 376h1M449 376h3M455 376h1M461 376h2M425 377h1M427 377h3M431 377h3M435 377h2M438 377h2M441 377h3M445 377h7M460 377h1M465 377h1M468 377h1M426 378h1M428 378h1M430 378h2M433 378h1M435 378h9M446 378h1M448 378h2M454 378h1M457 378h1M459 378h3M470 378h1M428 379h1M430 379h2M433 379h2M436 379h1M438 379h1M440 379h2M443 379h1M445 379h5M451 379h2M456 379h2M459 379h2M426 380h5M433 380h2M436 380h2M439 380h1M441 380h9M453 380h1M456 380h1M427 381h1M432 381h7M440 381h4M445 381h3M450 381h2M454 381h2M472 381h1M426 382h1M430 382h2M433 382h8M442 382h2M446 382h1M448 382h1M450 382h4M428 383h1M430 383h5M436 383h8M445 383h2M449 383h1M475 383h1M426 384h2M429 384h3M433 384h5M439 384h7M447 384h2M452 384h1M454 384h1M425 385h3M429 385h3M433 385h2M436 385h1M438 385h2M441 385h2M444 385h4M450 385h1M456 385h1M426 386h1M429 386h1M431 386h2M434 386h3M438 386h1M440 386h3M447 386h1M452 386h2M428 387h13M442 387h4M449 387h1M453 387h1M462 387h1M427 388h2M433 388h5M440 388h1M442 388h1M444 388h3M448 388h3M452 388h1M459 388h1M432 389h1M437 389h4M452 389h1M430 390h1M435 390h2M439 390h2M442 390h4M448 390h2M433 391h2M439 391h1M445 391h1M438 392h1M441 392h1M435 393h1" stroke="#121212" stroke-width="1" transform="translate(0 0.5)"/>
<path d="M495 320h1M478 321h1M479 322h1M481 322h1M492 322h1M488 323h2M499 323h1M475 324h1M480 324h1M489 324h1M475 325h1M483 325h1M486 325h1M494 325h1M496 325h2M475 326h1M479 326h1M484 326h1M486 326h3M490 326h1M493 326h1M496 326h1M501 326h1M469 327h1M477 327h1M482 327h2M486 327h1M488 327h1M494 327h1M500 327h1M503 327h2M476 328h3M484 328h1M486 328h1M489 328h1M494 328h1M498 328h3M465 329h1M467 329h1M474 329h1M482 329h2M485 329h1M498 329h1M500 329h2M503 329h1M464 330h1M471 330h1M478 330h1M489 330h1M493 330h1M499 330h3M507 330h1M472 331h1M482 331h1M496 331h1M498 331h2M503 331h1M506 331h1M461 332h1M472 332h2M475 332h1M498 332h1M506 332h1M510 332h1M471 333h3M478 333h1M493 333h1M505 333h3M461 334h1M469 334h1M472 334h1M474 334h1M480 334h1M496 334h1M498 334h1M502 334h1M505 334h1M472 335h1M483 335h1M497 335h1M459 336h2M464 336h1M469 336h1M471 336h1M478 336h1M494 336h1M500 336h1M466 337h1M473 337h1M499 337h1M502 337h1M504 337h1M461 338h1M476 338h1M498 338h1M505 338h1M453 339h1M465 339h4M474 339h1M497 339h1M500 339h1M499 340h2M504 340h1M507 340h1M450 341h1M460 341h1M466 341h1M468 341h1M487 341h1M496 341h1M498 341h1M507 341h1M463 342h1M467 342h1M494 342h1M500 342h1M460 343h1M466 343h1M468 343h1M473 343h1M476 343h1M480 343h2M489 343h2M494 343h3M498 343h1M449 344h1M463 344h2M472 344h2M480 344h1M492 344h1M499 344h1M502 344h1M463 345h1M469 345h1M472 345h1M494 345h1M463 346h1M466 346h2M472 346h1M476 346h1M496 346h2M500 346h1M451 347h1M462 347h1M466 347h1M479 347h2M487 347h1M490 347h1M492 347h1M499 347h1M455 348h2M459 348h1M464 348h1M478 348h1M496 348h1M498 348h1M468 349h2M496 349h1M501 349h1M505 349h1M468 350h1M494 350h1M501 350h2M458 351h2M465 351h1M471 351h1M479 351h1M488 351h1M495 351h1M500 351h1M460 352h1M465 352h2M474 352h1M482 352h1M492 352h1M500 352h2M462 353h2M468 353h1M470 353h1M484 353h1M499 353h1M502 353h2M462 354h1M466 354h1M469 354h2M494 354h1M499 354h1M503 354h1M442 355h1M470 355h1M473 355h1M475 355h1M498 355h1M500 355h1M502 355h1M504 355h1M435 356h1M466 356h1M471 356h6M478 356h2M499 356h1M465 357h1M469 357h1M472 357h1M481 357h1M486 357h1M489 357h1M495 357h1M497 357h1M472 358h1M474 358h1M479 358h1M501 358h2M464 359h1M471 359h2M474 359h1M483 359h1M491 359h1M495 359h1M497 359h1M501 359h1M446 360h1M449 360h1M460 360h1M464 360h1M476 360h1M481 360h1M487 360h1M491 360h1M471 361h2M477 361h3M497 361h1M504 361h1M453 362h2M467 362h1M470 362h1M474 362h1M476 362h1M481 362h1M489 362h2M492 362h2M457 363h1M466 363h2M472 363h1M476 363h1M479 363h1M481 363h1M483 363h2M491 363h1M493 363h1M495 363h2M499 363h2M504 363h1M441 364h1M450 364h1M459 364h1M463 364h1M481 364h1M484 364h1M490 364h1M498 364h1M504 364h1M440 365h1M448 365h2M462 365h1M474 365h1M481 365h1M494 365h3M498 365h1M504 365h1M434 366h1M437 366h1M441 366h1M459 366h3M474 366h3M479 366h1M481 366h1M488 366h1M491 366h1M495 366h2M448 367h2M452 367h1M454 367h1M460 367h1M463 367h1M472 367h2M478 367h1M483 367h1M490 367h1M492 367h2M495 367h1M497 367h1M440 368h2M443 368h4M448 368h1M453 368h1M456 368h1M459 368h1M463 368h1M469 368h1M479 368h1M482 368h4M487 368h1M492 368h2M499 368h1M501 368h1M434 369h1M455 369h1M458 369h1M462 369h1M472 369h1M483 369h1M485 369h2M488 369h2M500 369h1M428 370h1M435 370h1M441 370h1M443 370h1M454 370h1M456 370h4M462 370h1M472 370h2M479 370h1M488 370h1M490 370h1M493 370h1M495 370h1M505 370h1M431 371h1M437 371h1M441 371h1M444 371h1M446 371h2M450 371h1M461 371h1M469 371h1M478 371h1M484 371h1M429 372h4M434 372h1M437 372h1M440 372h2M447 372h1M450 372h1M456 372h1M458 372h3M468 372h2M475 372h1M477 372h1M496 372h1M429 373h1M434 373h1M449 373h1M453 373h1M457 373h1M462 373h1M465 373h1M468 373h1M472 373h1M482 373h1M497 373h1M425 374h1M432 374h1M435 374h1M438 374h2M445 374h1M452 374h1M454 374h1M457 374h1M461 374h1M463 374h1M466 374h1M472 374h3M483 374h1M495 374h1M428 375h1M433 375h2M438 375h2M442 375h1M448 375h1M465 375h1M467 375h1M473 375h1M479 375h1M484 375h1M431 376h1M434 376h1M442 376h1M446 376h1M454 376h1M459 376h1M464 376h2M467 376h1M481 376h1M434 377h1M440 377h1M453 377h2M456 377h1M458 377h1M461 377h1M463 377h1M469 377h1M478 377h1M425 378h1M427 378h1M432 378h1M434 378h1M444 378h2M451 378h1M462 378h1M466 378h1M468 378h1M472 378h1M474 378h1M476 378h1M483 378h1M427 379h1M432 379h1M439 379h1M442 379h1M444 379h1M454 379h2M463 379h2M474 379h1M431 380h2M435 380h1M438 380h1M440 380h1M451 380h1M455 380h1M459 380h2M464 380h2M467 380h1M479 380h1M425 381h1M429 381h1M431 381h1M444 381h1M448 381h1M452 381h1M456 381h1M458 381h2M462 381h1M468 381h1M475 381h1M484 381h1M425 382h1M428 382h1M432 382h1M441 382h1M455 382h1M460 382h1M465 382h1M467 382h1M427 383h1M435 383h1M444 383h1M447 383h1M450 383h1M453 383h1M456 383h1M463 383h1M425 384h1M428 384h1M432 384h1M438 384h1M449 384h2M456 384h1M458 384h1M464 384h1M470 384h1M472 384h1M432 385h1M437 385h1M443 385h1M448 385h1M457 385h1M463 385h1M469 385h1M472 385h1M481 385h1M427 386h1M430 386h1M433 386h1M443 386h1M445 386h2M448 386h3M454 386h2M459 386h1M463 386h1M485 386h1M425 387h2M446 387h1M454 387h1M464 387h1M425 388h1M431 388h1M438 388h2M441 388h1M457 388h1M428 389h2M431 389h1M433 389h1M442 389h1M447 389h1M449 389h1M454 389h1M433 390h2M438 390h1M441 390h1M447 390h1M451 390h1M453 390h1M464 390h1M426 391h1M428 391h1M431 391h2M436 391h3M449 391h3M453 391h1M464 391h1M426 392h1M428 392h1M442 392h3M446 392h1M449 392h2M433 393h1M438 393h1M441 393h3M466 393h1M433 394h3M442 394h2M445 394h1M431 395h1M448 395h1M432 396h1M441 396h1M446 396h1" stroke="#2d2d2d" stroke-width="1" transform="translate(0 0.5)"/>
<path d="M449 309h1M486 312h1M500 312h1M502 313h1M468 315h1M480 315h1M496 315h1M499 315h1M492 316h1M501 316h1M503 316h1M472 317h1M480 317h1M482 317h1M488 317h1M491 317h1M503 317h1M482 318h1M487 318h1M490 318h2M473 319h2M492 319h1M513 319h1M462 320h1M469 320h1M484 320h1M500 320h1M505 320h1M477 321h1M485 321h2M489 321h1M492 321h1M494 321h1M503 321h2M461 322h1M475 322h1M477 322h1M482 322h1M489 322h1M494 322h1M500 322h1M503 322h1M478 323h1M483 323h3M493 323h1M496 323h1M504 323h1M507 323h1M470 324h1M478 324h1M481 324h1M484 324h2M488 324h1M491 324h1M493 324h6M504 324h1M510 324h1M429 325h1M442 325h1M458 325h1M463 325h1M470 325h1M478 325h1M481 325h2M484 325h1M490 325h1M492 325h2M495 325h1M501 325h1M503 325h1M453 326h1M467 326h1M473 326h1M476 326h1M480 326h1M482 326h1M491 326h1M494 326h2M497 326h1M499 326h1M502 326h2M506 326h1M510 326h2M516 326h1M470 327h1M472 327h1M474 327h1M476 327h1M480 327h2M489 327h1M496 327h2M501 327h1M505 327h2M512 327h1M463 328h1M472 328h1M485 328h1M497 328h1M501 328h1M503 328h1M506 328h1M508 328h2M463 329h1M468 329h1M472 329h1M477 329h1M486 329h1M497 329h1M502 329h1M504 329h1M511 329h2M463 330h1M465 330h1M470 330h1M472 330h1M474 330h1M476 330h2M481 330h1M494 330h1M497 330h1M503 330h1M505 330h2M511 330h1M514 330h1M456 331h1M462 331h1M464 331h1M468 331h4M473 331h1M475 331h1M477 331h1M483 331h1M495 331h1M497 331h1M511 331h1M514 331h1M459 332h1M463 332h1M467 332h2M470 332h1M494 332h1M499 332h1M502 332h1M509 332h1M457 333h1M460 333h1M462 333h1M465 333h3M469 333h2M476 333h1M488 333h1M498 333h1M500 333h2M508 333h1M463 334h1M465 334h1M467 334h1M491 334h1M501 334h1M503 334h1M507 334h1M512 334h1M436 335h1M461 335h1M463 335h1M465 335h6M501 335h1M505 335h1M514 335h1M462 336h1M465 336h4M499 336h1M504 336h1M506 336h1M509 336h1M512 336h1M459 337h1M462 337h1M464 337h2M469 337h2M472 337h1M500 337h1M507 337h3M515 337h1M452 338h1M456 338h2M459 338h1M462 338h1M465 338h3M501 338h1M509 338h2M513 338h2M458 339h1M460 339h1M464 339h1M499 339h1M501 339h3M505 339h1M512 339h1M457 340h1M459 340h1M462 340h3M466 340h1M468 340h1M498 340h1M501 340h1M506 340h1M509 340h1M456 341h1M458 341h1M461 341h1M463 341h1M499 341h1M502 341h1M506 341h1M443 342h1M452 342h1M458 342h1M460 342h2M464 342h2M501 342h2M431 343h1M445 343h1M453 343h1M455 343h3M463 343h2M469 343h1M492 343h2M503 343h2M510 343h1M450 344h1M454 344h1M456 344h1M459 344h1M462 344h1M465 344h2M468 344h1M494 344h1M496 344h1M498 344h1M503 344h1M508 344h2M454 345h1M458 345h1M460 345h1M462 345h1M465 345h1M467 345h1M488 345h1M492 345h1M495 345h1M497 345h1M503 345h1M506 345h1M450 346h1M458 346h1M462 346h1M464 346h1M490 346h1M505 346h1M447 347h1M450 347h1M454 347h3M459 347h1M463 347h1M465 347h1M486 347h1M489 347h1M501 347h1M453 348h1M460 348h1M463 348h1M465 348h3M480 348h1M493 348h1M497 348h1M501 348h1M503 348h1M461 349h1M465 349h2M489 349h1M504 349h1M507 349h1M431 350h1M448 350h1M460 350h2M463 350h1M465 350h2M469 350h2M495 350h1M500 350h1M431 351h1M435 351h1M438 351h1M453 351h1M460 351h2M467 351h1M469 351h1M476 351h1M478 351h1M493 351h1M497 351h1M499 351h1M446 352h1M449 352h4M462 352h2M468 352h2M481 352h1M498 352h1M502 352h3M447 353h2M450 353h1M455 353h1M465 353h3M469 353h1M500 353h2M504 353h1M507 353h1M427 354h1M436 354h1M441 354h1M443 354h1M448 354h1M451 354h1M460 354h1M467 354h2M471 354h1M498 354h1M507 354h1M441 355h1M455 355h1M463 355h2M466 355h1M468 355h2M472 355h1M474 355h1M481 355h1M503 355h1M506 355h1M445 356h2M449 356h3M453 356h1M456 356h2M459 356h1M470 356h1M500 356h1M503 356h1M426 357h2M435 357h1M440 357h1M447 357h2M453 357h1M456 357h1M458 357h1M463 357h1M466 357h3M471 357h1M478 357h1M499 357h2M502 357h3M506 357h1M510 357h1M512 357h1M425 358h1M429 358h1M442 358h1M445 358h2M450 358h1M456 358h1M466 358h1M468 358h1M473 358h1M476 358h1M478 358h1M497 358h1M503 358h1M445 359h1M449 359h2M453 359h1M458 359h1M460 359h1M463 359h1M465 359h1M467 359h1M470 359h1M473 359h1M475 359h2M493 359h1M499 359h2M503 359h3M438 360h1M445 360h1M453 360h2M459 360h1M461 360h1M466 360h3M473 360h1M475 360h1M477 360h1M479 360h2M498 360h1M505 360h1M437 361h1M440 361h1M447 361h1M453 361h1M456 361h1M461 361h1M466 361h3M470 361h1M474 361h2M502 361h1M505 361h1M510 361h1M512 361h1M438 362h1M445 362h1M460 362h3M464 362h2M468 362h2M471 362h1M473 362h1M477 362h2M483 362h1M486 362h1M497 362h1M503 362h2M426 363h1M434 363h1M437 363h2M440 363h1M442 363h1M450 363h3M459 363h1M463 363h1M469 363h3M473 363h1M477 363h2M498 363h1M425 364h1M429 364h1M433 364h1M436 364h1M443 364h1M449 364h1M452 364h1M454 364h1M456 364h1M464 364h1M471 364h1M474 364h2M483 364h1M500 364h1M502 364h1M505 364h1M429 365h1M436 365h2M439 365h1M442 365h1M447 365h1M454 365h3M458 365h1M460 365h1M463 365h2M467 365h1M471 365h2M475 365h1M478 365h2M486 365h1M493 365h1M497 365h1M499 365h1M501 365h1M503 365h1M506 365h1M425 366h1M427 366h1M438 366h1M440 366h1M442 366h1M445 366h1M447 366h1M450 366h1M453 366h3M457 366h2M463 366h1M465 366h1M467 366h1M469 366h4M480 366h1M489 366h1M492 366h2M498 366h2M502 366h1M512 366h1M427 367h1M430 367h1M432 367h2M435 367h1M437 367h3M441 367h1M443 367h2M447 367h1M450 367h2M453 367h1M455 367h1M457 367h1M459 367h1M461 367h1M464 367h1M467 367h1M470 367h1M476 367h1M480 367h1M485 367h1M498 367h1M505 367h1M430 368h1M435 368h3M439 368h1M449 368h1M460 368h3M465 368h1M467 368h2M471 368h1M477 368h1M481 368h1M486 368h1M491 368h1M494 368h2M497 368h2M429 369h1M431 369h2M436 369h2M440 369h5M450 369h1M453 369h2M459 369h3M466 369h2M469 369h3M474 369h1M479 369h1M491 369h2M494 369h2M497 369h1M503 369h1M426 370h1M429 370h1M432 370h2M438 370h1M442 370h1M446 370h1M448 370h1M453 370h1M463 370h1M467 370h1M470 370h1M476 370h1M478 370h1M481 370h1M485 370h2M494 370h1M496 370h1M502 370h3M426 371h3M432 371h2M448 371h1M452 371h3M456 371h2M460 371h1M462 371h1M465 371h2M468 371h1M470 371h1M472 371h4M479 371h2M482 371h1M488 371h1M492 371h2M497 371h1M501 371h1M425 372h4M442 372h1M444 372h1M449 372h1M453 372h1M462 372h3M466 372h2M472 372h1M478 372h1M481 372h3M487 372h2M492 372h3M498 372h1M509 372h1M427 373h2M431 373h1M433 373h1M436 373h1M439 373h2M443 373h1M459 373h3M464 373h1M469 373h1M473 373h1M486 373h1M489 373h1M492 373h2M503 373h1M430 374h1M434 374h1M456 374h1M460 374h1M462 374h1M464 374h2M467 374h1M478 374h1M482 374h1M485 374h1M487 374h2M493 374h1M511 374h1M427 375h1M431 375h1M443 375h1M452 375h1M457 375h1M462 375h2M475 375h2M478 375h1M482 375h2M487 375h1M489 375h2M493 375h1M502 375h1M428 376h2M432 376h1M448 376h1M452 376h2M456 376h2M460 376h1M466 376h1M471 376h2M475 376h1M478 376h1M488 376h1M493 376h1M430 377h1M437 377h1M444 377h1M452 377h1M455 377h1M457 377h1M459 377h1M462 377h1M466 377h2M479 377h1M483 377h1M492 377h1M494 377h1M429 378h1M447 378h1M453 378h1M464 378h2M467 378h1M469 378h1M471 378h1M479 378h1M490 378h1M496 378h1M425 379h1M429 379h1M437 379h1M450 379h1M453 379h1M458 379h1M461 379h2M465 379h2M469 379h1M471 379h2M478 379h1M481 379h1M425 380h1M452 380h1M457 380h2M463 380h1M466 380h1M471 380h1M474 380h2M478 380h1M481 380h1M483 380h1M493 380h1M426 381h1M428 381h1M439 381h1M449 381h1M453 381h1M457 381h1M460 381h1M463 381h1M465 381h1M470 381h1M473 381h1M477 381h1M479 381h1M483 381h1M489 381h2M494 381h1M429 382h1M445 382h1M447 382h1M449 382h1M454 382h1M456 382h1M461 382h1M464 382h1M470 382h1M472 382h3M477 382h1M425 383h1M429 383h1M448 383h1M452 383h1M454 383h2M457 383h6M464 383h3M469 383h1M474 383h1M476 383h2M480 383h1M482 383h1M487 383h1M494 383h1M446 384h1M453 384h1M455 384h1M459 384h1M461 384h2M465 384h1M471 384h1M473 384h1M476 384h1M478 384h1M435 385h1M440 385h1M453 385h3M459 385h1M464 385h1M474 385h2M478 385h1M482 385h1M425 386h1M437 386h1M439 386h1M451 386h1M456 386h1M458 386h1M460 386h1M465 386h1M469 386h1M472 386h1M474 386h1M476 386h1M478 386h1M480 386h1M496 386h1M498 386h1M441 387h1M448 387h1M450 387h3M455 387h4M466 387h1M469 387h1M471 387h1M473 387h1M475 387h2M481 387h1M486 387h1M426 388h1M429 388h2M432 388h1M443 388h1M447 388h1M451 388h1M453 388h1M456 388h1M458 388h1M460 388h1M463 388h2M467 388h1M472 388h1M425 389h2M430 389h1M435 389h2M443 389h4M450 389h1M453 389h1M457 389h3M466 389h1M468 389h3M475 389h1M478 389h3M486 389h1M425 390h1M428 390h1M431 390h1M450 390h1M454 390h1M456 390h2M461 390h1M463 390h1M465 390h1M475 390h1M481 390h1M485 390h1M489 390h1M435 391h1M440 391h3M446 391h1M448 391h1M454 391h1M456 391h2M459 391h1M461 391h1M468 391h1M474 391h1M481 391h1M429 392h1M432 392h1M437 392h1M440 392h1M448 392h1M451 392h1M464 392h2M467 392h1M473 392h1M477 392h1M427 393h3M439 393h1M444 393h2M451 393h1M453 393h1M457 393h1M463 393h1M468 393h1M476 393h1M478 393h1M484 393h1M425 394h1M429 394h2M436 394h3M441 394h1M449 394h1M456 394h1M459 394h1M469 394h1M473 394h1M477 394h1M426 395h1M428 395h1M432 395h1M436 395h4M441 395h2M446 395h1M457 395h1M468 395h1M428 396h1M431 396h1M433 396h1M435 396h1M439 396h2M447 396h1M452 396h1M478 396h1" stroke="#696969" stroke-width="1" transform="translate(0 0.5)"/>
</g>
<text x="0.8" y="8.6" font-size="10.5" font-family='"Liberation Sans", sans-serif' font-weight="bold" fill="#000" stroke="#000" stroke-width="0.3">A</text>
<text x="266.8" y="8.7" font-size="10.5" font-family='"Liberation Sans", sans-serif' font-weight="bold" fill="#000" stroke="#000" stroke-width="0.3">B</text>
<text x="0.8" y="159.6" font-size="10.5" font-family='"Liberation Sans", sans-serif' font-weight="bold" fill="#000" stroke="#000" stroke-width="0.3">C</text>
<text x="268.5" y="159.2" font-size="10.5" font-family='"Liberation Sans", sans-serif' font-weight="bold" fill="#000" stroke="#000" stroke-width="0.3">D</text>
<text x="0.5" y="304.6" font-size="10.5" font-family='"Liberation Sans", sans-serif' font-weight="bold" fill="#000" stroke="#000" stroke-width="0.3">E</text>
<text x="400.8" y="305.3" font-size="10.5" font-family='"Liberation Sans", sans-serif' font-weight="bold" fill="#000" stroke="#000" stroke-width="0.3">F</text>
<line x1="18.5" y1="5.5" x2="18.5" y2="93.3" stroke="#111" stroke-width="1.4"/>
<line x1="18.5" y1="93.3" x2="109" y2="93.3" stroke="#222" stroke-width="1"/>
<path d="M18.5 80L21.2 65.3L25.2 49L27.6 38L29 31L30.3 28L31 30L33 38L34.8 49L37.5 65.3L40.8 79.8L44.8 87L50.2 90.7L55 92L62 92.3L70 92.5L80 92.4L90 92.2L94 91.2L97 88.8L100 87.6L103 88L106 90L107.5 89L108 82L108.5 93" fill="none" stroke="#000" stroke-width="1.35" stroke-linejoin="round"/>
<path d="M18.5 93.3v1.2M25.3 93.3v1.2M29.3 93.3v1.2M32.1 93.3v1.2M34.3 93.3v1.2M36.1 93.3v1.2M37.6 93.3v1.2M38.9 93.3v1.2M40.1 93.3v1.2M41.1 93.3v1.2M47.9 93.3v1.2M51.9 93.3v1.2M54.7 93.3v1.2M56.9 93.3v1.2M58.7 93.3v1.2M60.2 93.3v1.2M61.6 93.3v1.2M62.7 93.3v1.2M63.8 93.3v1.2M70.6 93.3v1.2M74.5 93.3v1.2M77.4 93.3v1.2M79.6 93.3v1.2M81.4 93.3v1.2M82.9 93.3v1.2M84.2 93.3v1.2M85.3 93.3v1.2M86.4 93.3v1.2M93.2 93.3v1.2M97.2 93.3v1.2M100 93.3v1.2M102.2 93.3v1.2M104 93.3v1.2M105.5 93.3v1.2M106.8 93.3v1.2M108 93.3v1.2" stroke="#333" stroke-width="0.8"/>
<text x="15.1" y="100.2" font-size="5.4" letter-spacing="0.2" font-family='"Liberation Serif", serif' font-weight="bold" fill="#111" stroke="#111" stroke-width="0.3">10<tspan dy="-1.8" font-size="3.9">0</tspan></text>
<text x="37.7" y="100.2" font-size="5.4" letter-spacing="0.2" font-family='"Liberation Serif", serif' font-weight="bold" fill="#111" stroke="#111" stroke-width="0.3">10<tspan dy="-1.8" font-size="3.9">1</tspan></text>
<text x="60.4" y="100.2" font-size="5.4" letter-spacing="0.2" font-family='"Liberation Serif", serif' font-weight="bold" fill="#111" stroke="#111" stroke-width="0.3">10<tspan dy="-1.8" font-size="3.9">2</tspan></text>
<text x="83" y="100.2" font-size="5.4" letter-spacing="0.2" font-family='"Liberation Serif", serif' font-weight="bold" fill="#111" stroke="#111" stroke-width="0.3">10<tspan dy="-1.8" font-size="3.9">3</tspan></text>
<text x="105.6" y="100.2" font-size="5.4" letter-spacing="0.2" font-family='"Liberation Serif", serif' font-weight="bold" fill="#111" stroke="#111" stroke-width="0.3">10<tspan dy="-1.8" font-size="3.9">4</tspan></text>
<path d="M78.5 60.3V68.9M108.4 60.3V68.9M78.5 64.6H108.4M94.2 64.6V45H114.4" fill="none" stroke="#222" stroke-width="1"/>
<path d="M118.4 45L112.4 43L112.4 47Z" fill="#111"/>
<line x1="18.5" y1="158.4" x2="18.5" y2="244.5" stroke="#111" stroke-width="1.4"/>
<line x1="18.5" y1="244.5" x2="108" y2="244.5" stroke="#222" stroke-width="1"/>
<path d="M18.5 200L20.7 188.7L23 179.7L25.2 165.1L27 178L28.6 183L29.7 200L32 213.4L35.3 229L39.8 238L45.5 241.5L52 243L70 243.3L85 243.3L89.8 242.5L92 236L94.2 230.5L96.5 238L98.5 242.5L104 243.5" fill="none" stroke="#000" stroke-width="1.35" stroke-linejoin="round"/>
<path d="M18.5 244.5v1.2M25.2 244.5v1.2M29.2 244.5v1.2M32 244.5v1.2M34.1 244.5v1.2M35.9 244.5v1.2M37.4 244.5v1.2M38.7 244.5v1.2M39.9 244.5v1.2M40.9 244.5v1.2M47.6 244.5v1.2M51.6 244.5v1.2M54.3 244.5v1.2M56.5 244.5v1.2M58.3 244.5v1.2M59.8 244.5v1.2M61.1 244.5v1.2M62.2 244.5v1.2M63.2 244.5v1.2M70 244.5v1.2M73.9 244.5v1.2M76.7 244.5v1.2M78.9 244.5v1.2M80.7 244.5v1.2M82.2 244.5v1.2M83.5 244.5v1.2M84.6 244.5v1.2M85.6 244.5v1.2M92.4 244.5v1.2M96.3 244.5v1.2M99.1 244.5v1.2M101.3 244.5v1.2M103 244.5v1.2M104.5 244.5v1.2M105.8 244.5v1.2M107 244.5v1.2" stroke="#333" stroke-width="0.8"/>
<text x="15.1" y="251.4" font-size="5.4" letter-spacing="0.2" font-family='"Liberation Serif", serif' font-weight="bold" fill="#111" stroke="#111" stroke-width="0.3">10<tspan dy="-1.8" font-size="3.9">0</tspan></text>
<text x="37.5" y="251.4" font-size="5.4" letter-spacing="0.2" font-family='"Liberation Serif", serif' font-weight="bold" fill="#111" stroke="#111" stroke-width="0.3">10<tspan dy="-1.8" font-size="3.9">1</tspan></text>
<text x="59.9" y="251.4" font-size="5.4" letter-spacing="0.2" font-family='"Liberation Serif", serif' font-weight="bold" fill="#111" stroke="#111" stroke-width="0.3">10<tspan dy="-1.8" font-size="3.9">2</tspan></text>
<text x="82.2" y="251.4" font-size="5.4" letter-spacing="0.2" font-family='"Liberation Serif", serif' font-weight="bold" fill="#111" stroke="#111" stroke-width="0.3">10<tspan dy="-1.8" font-size="3.9">3</tspan></text>
<text x="104.6" y="251.4" font-size="5.4" letter-spacing="0.2" font-family='"Liberation Serif", serif' font-weight="bold" fill="#111" stroke="#111" stroke-width="0.3">10<tspan dy="-1.8" font-size="3.9">4</tspan></text>
<path d="M83.5 211.1V219.7M104.4 211.1V219.7M83.5 215.4H104.4M93.8 215.4V194.7H114" fill="none" stroke="#222" stroke-width="1"/>
<path d="M118 194.7L112 192.7L112 196.7Z" fill="#111"/>
<line x1="18.8" y1="105.3" x2="48.5" y2="105.3" stroke="#111" stroke-width="1"/>
<line x1="74.6" y1="105.3" x2="105.5" y2="105.3" stroke="#111" stroke-width="1"/>
<path d="M108.5 105.3L102 103.2L102 107.4Z" fill="#000"/>
<text x="63.7" y="108.5" text-anchor="middle" font-size="9.2" font-family='"Liberation Serif", serif' font-weight="bold" textLength="18.2" lengthAdjust="spacingAndGlyphs" fill="#000" stroke="#000" stroke-width="0.35">GFP</text>
<line x1="17.5" y1="259.8" x2="50" y2="259.8" stroke="#111" stroke-width="1"/>
<line x1="72.5" y1="259.8" x2="100.8" y2="259.8" stroke="#111" stroke-width="1"/>
<path d="M103.8 259.8L97.3 257.7L97.3 261.9Z" fill="#000"/>
<text x="62.4" y="263" text-anchor="middle" font-size="9.2" font-family='"Liberation Serif", serif' font-weight="bold" textLength="18.8" lengthAdjust="spacingAndGlyphs" fill="#000" stroke="#000" stroke-width="0.35">GFP</text>
<rect x="149" y="5.5" width="90.5" height="87" fill="none" stroke="#333" stroke-width="1.5"/>
<line x1="176.7" y1="5.5" x2="176.7" y2="92.5" stroke="#444" stroke-width="1.5"/>
<line x1="149" y1="63" x2="239.5" y2="63" stroke="#444" stroke-width="1.5"/>
<path d="M149 92.5v2M149 92.5h-2M155.8 92.5v1.3M149 86h-1.3M159.8 92.5v1.3M149 82.1h-1.3M162.6 92.5v1.3M149 79.4h-1.3M164.8 92.5v1.3M149 77.3h-1.3M166.6 92.5v1.3M149 75.6h-1.3M168.1 92.5v1.3M149 74.1h-1.3M169.4 92.5v1.3M149 72.9h-1.3M170.6 92.5v1.3M149 71.7h-1.3M171.6 92.5v2M149 70.8h-2M178.4 92.5v1.3M149 64.2h-1.3M182.4 92.5v1.3M149 60.4h-1.3M185.2 92.5v1.3M149 57.7h-1.3M187.4 92.5v1.3M149 55.5h-1.3M189.2 92.5v1.3M149 53.8h-1.3M190.7 92.5v1.3M149 52.4h-1.3M192.1 92.5v1.3M149 51.1h-1.3M193.2 92.5v1.3M149 50h-1.3M194.2 92.5v2M149 49h-2M201.1 92.5v1.3M149 42.5h-1.3M205 92.5v1.3M149 38.6h-1.3M207.9 92.5v1.3M149 35.9h-1.3M210.1 92.5v1.3M149 33.8h-1.3M211.9 92.5v1.3M149 32.1h-1.3M213.4 92.5v1.3M149 30.6h-1.3M214.7 92.5v1.3M149 29.4h-1.3M215.8 92.5v1.3M149 28.2h-1.3M216.9 92.5v2M149 27.2h-2M223.7 92.5v1.3M149 20.7h-1.3M227.7 92.5v1.3M149 16.9h-1.3M230.5 92.5v1.3M149 14.2h-1.3M232.7 92.5v1.3M149 12h-1.3M234.5 92.5v1.3M149 10.3h-1.3M236 92.5v1.3M149 8.9h-1.3M237.3 92.5v1.3M149 7.6h-1.3M238.5 92.5v1.3M149 6.5h-1.3" stroke="#222" stroke-width="0.9" fill="none"/>
<text x="145.6" y="99.8" font-size="5.4" letter-spacing="0.2" font-family='"Liberation Serif", serif' font-weight="bold" fill="#111" stroke="#111" stroke-width="0.3">10<tspan dy="-1.8" font-size="3.9">0</tspan></text>
<text transform="translate(144.2 96.3) rotate(-90)" font-size="5.4" letter-spacing="0.2" font-family='"Liberation Serif", serif' font-weight="bold" fill="#111" stroke="#111" stroke-width="0.3">10<tspan dy="-1.8" font-size="3.9">0</tspan></text>
<text x="168.2" y="99.8" font-size="5.4" letter-spacing="0.2" font-family='"Liberation Serif", serif' font-weight="bold" fill="#111" stroke="#111" stroke-width="0.3">10<tspan dy="-1.8" font-size="3.9">1</tspan></text>
<text transform="translate(144.2 74.5) rotate(-90)" font-size="5.4" letter-spacing="0.2" font-family='"Liberation Serif", serif' font-weight="bold" fill="#111" stroke="#111" stroke-width="0.3">10<tspan dy="-1.8" font-size="3.9">1</tspan></text>
<text x="190.8" y="99.8" font-size="5.4" letter-spacing="0.2" font-family='"Liberation Serif", serif' font-weight="bold" fill="#111" stroke="#111" stroke-width="0.3">10<tspan dy="-1.8" font-size="3.9">2</tspan></text>
<text transform="translate(144.2 52.8) rotate(-90)" font-size="5.4" letter-spacing="0.2" font-family='"Liberation Serif", serif' font-weight="bold" fill="#111" stroke="#111" stroke-width="0.3">10<tspan dy="-1.8" font-size="3.9">2</tspan></text>
<text x="213.5" y="99.8" font-size="5.4" letter-spacing="0.2" font-family='"Liberation Serif", serif' font-weight="bold" fill="#111" stroke="#111" stroke-width="0.3">10<tspan dy="-1.8" font-size="3.9">3</tspan></text>
<text transform="translate(144.2 31.1) rotate(-90)" font-size="5.4" letter-spacing="0.2" font-family='"Liberation Serif", serif' font-weight="bold" fill="#111" stroke="#111" stroke-width="0.3">10<tspan dy="-1.8" font-size="3.9">3</tspan></text>
<text x="236.1" y="99.8" font-size="5.4" letter-spacing="0.2" font-family='"Liberation Serif", serif' font-weight="bold" fill="#111" stroke="#111" stroke-width="0.3">10<tspan dy="-1.8" font-size="3.9">4</tspan></text>
<text transform="translate(144.2 9.3) rotate(-90)" font-size="5.4" letter-spacing="0.2" font-family='"Liberation Serif", serif' font-weight="bold" fill="#111" stroke="#111" stroke-width="0.3">10<tspan dy="-1.8" font-size="3.9">4</tspan></text>
<line x1="129.7" y1="11.5" x2="129.7" y2="37.4" stroke="#111" stroke-width="1"/>
<path d="M129.7 8.5L127.6 14.5L131.8 14.5Z" fill="#000"/>
<line x1="129.7" y1="64.5" x2="129.7" y2="93" stroke="#111" stroke-width="1"/>
<text transform="translate(132.7 50.7) rotate(-90)" text-anchor="middle" font-size="9.2" font-family='"Liberation Serif", serif' font-weight="bold" textLength="21.5" lengthAdjust="spacingAndGlyphs" fill="#000" stroke="#000" stroke-width="0.35">c-Kit</text>
<line x1="149" y1="105.5" x2="181" y2="105.5" stroke="#111" stroke-width="1"/>
<line x1="207.6" y1="105.5" x2="235.5" y2="105.5" stroke="#111" stroke-width="1"/>
<path d="M238.5 105.5L232 103.4L232 107.6Z" fill="#000"/>
<text x="193.5" y="108.7" text-anchor="middle" font-size="9.2" font-family='"Liberation Serif", serif' font-weight="bold" textLength="19" lengthAdjust="spacingAndGlyphs" fill="#000" stroke="#000" stroke-width="0.35">B220</text>
<rect x="299.8" y="6.3" width="87.5" height="87.7" fill="none" stroke="#333" stroke-width="1.5"/>
<line x1="344.2" y1="6.3" x2="344.2" y2="94" stroke="#444" stroke-width="1.5"/>
<line x1="299.8" y1="40.1" x2="387.3" y2="40.1" stroke="#444" stroke-width="1.5"/>
<path d="M299.8 94v2M299.8 94h-2M306.4 94v1.3M299.8 87.4h-1.3M310.2 94v1.3M299.8 83.5h-1.3M313 94v1.3M299.8 80.8h-1.3M315.1 94v1.3M299.8 78.7h-1.3M316.8 94v1.3M299.8 76.9h-1.3M318.3 94v1.3M299.8 75.5h-1.3M319.6 94v1.3M299.8 74.2h-1.3M320.7 94v1.3M299.8 73.1h-1.3M321.7 94v2M299.8 72.1h-2M328.3 94v1.3M299.8 65.5h-1.3M332.1 94v1.3M299.8 61.6h-1.3M334.8 94v1.3M299.8 58.9h-1.3M337 94v1.3M299.8 56.8h-1.3M338.7 94v1.3M299.8 55h-1.3M340.2 94v1.3M299.8 53.5h-1.3M341.4 94v1.3M299.8 52.3h-1.3M342.5 94v1.3M299.8 51.2h-1.3M343.6 94v2M299.8 50.1h-2M350.1 94v1.3M299.8 43.5h-1.3M354 94v1.3M299.8 39.7h-1.3M356.7 94v1.3M299.8 36.9h-1.3M358.8 94v1.3M299.8 34.8h-1.3M360.6 94v1.3M299.8 33.1h-1.3M362 94v1.3M299.8 31.6h-1.3M363.3 94v1.3M299.8 30.3h-1.3M364.4 94v1.3M299.8 29.2h-1.3M365.4 94v2M299.8 28.2h-2M372 94v1.3M299.8 21.6h-1.3M375.9 94v1.3M299.8 17.8h-1.3M378.6 94v1.3M299.8 15h-1.3M380.7 94v1.3M299.8 12.9h-1.3M382.4 94v1.3M299.8 11.2h-1.3M383.9 94v1.3M299.8 9.7h-1.3M385.2 94v1.3M299.8 8.4h-1.3M386.3 94v1.3M299.8 7.3h-1.3" stroke="#222" stroke-width="0.9" fill="none"/>
<text x="296.4" y="101.3" font-size="5.4" letter-spacing="0.2" font-family='"Liberation Serif", serif' font-weight="bold" fill="#111" stroke="#111" stroke-width="0.3">10<tspan dy="-1.8" font-size="3.9">0</tspan></text>
<text transform="translate(295 97.8) rotate(-90)" font-size="5.4" letter-spacing="0.2" font-family='"Liberation Serif", serif' font-weight="bold" fill="#111" stroke="#111" stroke-width="0.3">10<tspan dy="-1.8" font-size="3.9">0</tspan></text>
<text x="318.3" y="101.3" font-size="5.4" letter-spacing="0.2" font-family='"Liberation Serif", serif' font-weight="bold" fill="#111" stroke="#111" stroke-width="0.3">10<tspan dy="-1.8" font-size="3.9">1</tspan></text>
<text transform="translate(295 75.9) rotate(-90)" font-size="5.4" letter-spacing="0.2" font-family='"Liberation Serif", serif' font-weight="bold" fill="#111" stroke="#111" stroke-width="0.3">10<tspan dy="-1.8" font-size="3.9">1</tspan></text>
<text x="340.2" y="101.3" font-size="5.4" letter-spacing="0.2" font-family='"Liberation Serif", serif' font-weight="bold" fill="#111" stroke="#111" stroke-width="0.3">10<tspan dy="-1.8" font-size="3.9">2</tspan></text>
<text transform="translate(295 53.9) rotate(-90)" font-size="5.4" letter-spacing="0.2" font-family='"Liberation Serif", serif' font-weight="bold" fill="#111" stroke="#111" stroke-width="0.3">10<tspan dy="-1.8" font-size="3.9">2</tspan></text>
<text x="362" y="101.3" font-size="5.4" letter-spacing="0.2" font-family='"Liberation Serif", serif' font-weight="bold" fill="#111" stroke="#111" stroke-width="0.3">10<tspan dy="-1.8" font-size="3.9">3</tspan></text>
<text transform="translate(295 32) rotate(-90)" font-size="5.4" letter-spacing="0.2" font-family='"Liberation Serif", serif' font-weight="bold" fill="#111" stroke="#111" stroke-width="0.3">10<tspan dy="-1.8" font-size="3.9">3</tspan></text>
<text x="383.9" y="101.3" font-size="5.4" letter-spacing="0.2" font-family='"Liberation Serif", serif' font-weight="bold" fill="#111" stroke="#111" stroke-width="0.3">10<tspan dy="-1.8" font-size="3.9">4</tspan></text>
<text transform="translate(295 10.1) rotate(-90)" font-size="5.4" letter-spacing="0.2" font-family='"Liberation Serif", serif' font-weight="bold" fill="#111" stroke="#111" stroke-width="0.3">10<tspan dy="-1.8" font-size="3.9">4</tspan></text>
<line x1="280.9" y1="9" x2="280.9" y2="37" stroke="#111" stroke-width="1"/>
<path d="M280.9 6L278.8 12L283 12Z" fill="#000"/>
<line x1="280.9" y1="63" x2="280.9" y2="93.4" stroke="#111" stroke-width="1"/>
<text transform="translate(283.9 49) rotate(-90)" text-anchor="middle" font-size="9.2" font-family='"Liberation Serif", serif' font-weight="bold" textLength="17.3" lengthAdjust="spacingAndGlyphs" fill="#000" stroke="#000" stroke-width="0.35">CD8</text>
<line x1="300" y1="108.8" x2="330" y2="108.8" stroke="#111" stroke-width="1"/>
<line x1="356" y1="108.8" x2="382.6" y2="108.8" stroke="#111" stroke-width="1"/>
<path d="M385.6 108.8L379.1 106.7L379.1 110.9Z" fill="#000"/>
<text x="342" y="112" text-anchor="middle" font-size="9.2" font-family='"Liberation Serif", serif' font-weight="bold" textLength="17.5" lengthAdjust="spacingAndGlyphs" fill="#000" stroke="#000" stroke-width="0.35">CD4</text>
<rect x="428.2" y="6.1" width="87.3" height="87.5" fill="none" stroke="#333" stroke-width="1.5"/>
<line x1="458.3" y1="6.1" x2="458.3" y2="93.6" stroke="#444" stroke-width="1.5"/>
<line x1="428.2" y1="40.1" x2="515.5" y2="40.1" stroke="#444" stroke-width="1.5"/>
<path d="M428.2 93.6v2M428.2 93.6h-2M434.8 93.6v1.3M428.2 87h-1.3M438.6 93.6v1.3M428.2 83.2h-1.3M441.3 93.6v1.3M428.2 80.4h-1.3M443.5 93.6v1.3M428.2 78.3h-1.3M445.2 93.6v1.3M428.2 76.6h-1.3M446.6 93.6v1.3M428.2 75.1h-1.3M447.9 93.6v1.3M428.2 73.8h-1.3M449 93.6v1.3M428.2 72.7h-1.3M450 93.6v2M428.2 71.7h-2M456.6 93.6v1.3M428.2 65.1h-1.3M460.4 93.6v1.3M428.2 61.3h-1.3M463.2 93.6v1.3M428.2 58.6h-1.3M465.3 93.6v1.3M428.2 56.4h-1.3M467 93.6v1.3M428.2 54.7h-1.3M468.5 93.6v1.3M428.2 53.2h-1.3M469.7 93.6v1.3M428.2 52h-1.3M470.9 93.6v1.3M428.2 50.9h-1.3M471.9 93.6v2M428.2 49.8h-2M478.4 93.6v1.3M428.2 43.3h-1.3M482.3 93.6v1.3M428.2 39.4h-1.3M485 93.6v1.3M428.2 36.7h-1.3M487.1 93.6v1.3M428.2 34.6h-1.3M488.8 93.6v1.3M428.2 32.8h-1.3M490.3 93.6v1.3M428.2 31.4h-1.3M491.6 93.6v1.3M428.2 30.1h-1.3M492.7 93.6v1.3M428.2 29h-1.3M493.7 93.6v2M428.2 28h-2M500.2 93.6v1.3M428.2 21.4h-1.3M504.1 93.6v1.3M428.2 17.5h-1.3M506.8 93.6v1.3M428.2 14.8h-1.3M508.9 93.6v1.3M428.2 12.7h-1.3M510.7 93.6v1.3M428.2 11h-1.3M512.1 93.6v1.3M428.2 9.5h-1.3M513.4 93.6v1.3M428.2 8.2h-1.3M514.5 93.6v1.3M428.2 7.1h-1.3" stroke="#222" stroke-width="0.9" fill="none"/>
<text x="424.8" y="100.9" font-size="5.4" letter-spacing="0.2" font-family='"Liberation Serif", serif' font-weight="bold" fill="#111" stroke="#111" stroke-width="0.3">10<tspan dy="-1.8" font-size="3.9">0</tspan></text>
<text transform="translate(423.4 97.4) rotate(-90)" font-size="5.4" letter-spacing="0.2" font-family='"Liberation Serif", serif' font-weight="bold" fill="#111" stroke="#111" stroke-width="0.3">10<tspan dy="-1.8" font-size="3.9">0</tspan></text>
<text x="446.6" y="100.9" font-size="5.4" letter-spacing="0.2" font-family='"Liberation Serif", serif' font-weight="bold" fill="#111" stroke="#111" stroke-width="0.3">10<tspan dy="-1.8" font-size="3.9">1</tspan></text>
<text transform="translate(423.4 75.5) rotate(-90)" font-size="5.4" letter-spacing="0.2" font-family='"Liberation Serif", serif' font-weight="bold" fill="#111" stroke="#111" stroke-width="0.3">10<tspan dy="-1.8" font-size="3.9">1</tspan></text>
<text x="468.5" y="100.9" font-size="5.4" letter-spacing="0.2" font-family='"Liberation Serif", serif' font-weight="bold" fill="#111" stroke="#111" stroke-width="0.3">10<tspan dy="-1.8" font-size="3.9">2</tspan></text>
<text transform="translate(423.4 53.6) rotate(-90)" font-size="5.4" letter-spacing="0.2" font-family='"Liberation Serif", serif' font-weight="bold" fill="#111" stroke="#111" stroke-width="0.3">10<tspan dy="-1.8" font-size="3.9">2</tspan></text>
<text x="490.3" y="100.9" font-size="5.4" letter-spacing="0.2" font-family='"Liberation Serif", serif' font-weight="bold" fill="#111" stroke="#111" stroke-width="0.3">10<tspan dy="-1.8" font-size="3.9">3</tspan></text>
<text transform="translate(423.4 31.8) rotate(-90)" font-size="5.4" letter-spacing="0.2" font-family='"Liberation Serif", serif' font-weight="bold" fill="#111" stroke="#111" stroke-width="0.3">10<tspan dy="-1.8" font-size="3.9">3</tspan></text>
<text x="512.1" y="100.9" font-size="5.4" letter-spacing="0.2" font-family='"Liberation Serif", serif' font-weight="bold" fill="#111" stroke="#111" stroke-width="0.3">10<tspan dy="-1.8" font-size="3.9">4</tspan></text>
<text transform="translate(423.4 9.9) rotate(-90)" font-size="5.4" letter-spacing="0.2" font-family='"Liberation Serif", serif' font-weight="bold" fill="#111" stroke="#111" stroke-width="0.3">10<tspan dy="-1.8" font-size="3.9">4</tspan></text>
<line x1="410.5" y1="11" x2="410.5" y2="28" stroke="#111" stroke-width="1"/>
<path d="M410.5 8L408.4 14L412.6 14Z" fill="#000"/>
<line x1="410.5" y1="72.4" x2="410.5" y2="92" stroke="#111" stroke-width="1"/>
<text transform="translate(413.5 50) rotate(-90)" text-anchor="middle" font-size="9.2" font-family='"Liberation Serif", serif' font-weight="bold" textLength="37.8" lengthAdjust="spacingAndGlyphs" fill="#000" stroke="#000" stroke-width="0.35">CD4/CD8</text>
<line x1="429" y1="109.3" x2="460" y2="109.3" stroke="#111" stroke-width="1"/>
<line x1="487" y1="109.3" x2="510.7" y2="109.3" stroke="#111" stroke-width="1"/>
<path d="M513.7 109.3L507.2 107.2L507.2 111.4Z" fill="#000"/>
<text x="474" y="112.5" text-anchor="middle" font-size="9.2" font-family='"Liberation Serif", serif' font-weight="bold" textLength="24.7" lengthAdjust="spacingAndGlyphs" fill="#000" stroke="#000" stroke-width="0.35">TCRβ</text>
<rect x="147.3" y="158.5" width="90.1" height="86.3" fill="none" stroke="#333" stroke-width="1.5"/>
<line x1="175.1" y1="158.5" x2="175.1" y2="244.8" stroke="#444" stroke-width="1.5"/>
<line x1="147.3" y1="216.2" x2="237.4" y2="216.2" stroke="#444" stroke-width="1.5"/>
<path d="M147.3 244.8v2M147.3 244.8h-2M154.1 244.8v1.3M147.3 238.3h-1.3M158 244.8v1.3M147.3 234.5h-1.3M160.9 244.8v1.3M147.3 231.8h-1.3M163 244.8v1.3M147.3 229.7h-1.3M164.8 244.8v1.3M147.3 228h-1.3M166.3 244.8v1.3M147.3 226.6h-1.3M167.6 244.8v1.3M147.3 225.3h-1.3M168.8 244.8v1.3M147.3 224.2h-1.3M169.8 244.8v2M147.3 223.2h-2M176.6 244.8v1.3M147.3 216.7h-1.3M180.6 244.8v1.3M147.3 212.9h-1.3M183.4 244.8v1.3M147.3 210.2h-1.3M185.6 244.8v1.3M147.3 208.1h-1.3M187.4 244.8v1.3M147.3 206.4h-1.3M188.9 244.8v1.3M147.3 205h-1.3M190.2 244.8v1.3M147.3 203.7h-1.3M191.3 244.8v1.3M147.3 202.6h-1.3M192.4 244.8v2M147.3 201.7h-2M199.1 244.8v1.3M147.3 195.2h-1.3M203.1 244.8v1.3M147.3 191.4h-1.3M205.9 244.8v1.3M147.3 188.7h-1.3M208.1 244.8v1.3M147.3 186.6h-1.3M209.9 244.8v1.3M147.3 184.9h-1.3M211.4 244.8v1.3M147.3 183.4h-1.3M212.7 244.8v1.3M147.3 182.2h-1.3M213.8 244.8v1.3M147.3 181.1h-1.3M214.9 244.8v2M147.3 180.1h-2M221.7 244.8v1.3M147.3 173.6h-1.3M225.6 244.8v1.3M147.3 169.8h-1.3M228.4 244.8v1.3M147.3 167.1h-1.3M230.6 244.8v1.3M147.3 165h-1.3M232.4 244.8v1.3M147.3 163.3h-1.3M233.9 244.8v1.3M147.3 161.8h-1.3M235.2 244.8v1.3M147.3 160.6h-1.3M236.4 244.8v1.3M147.3 159.5h-1.3" stroke="#222" stroke-width="0.9" fill="none"/>
<text x="143.9" y="252.1" font-size="5.4" letter-spacing="0.2" font-family='"Liberation Serif", serif' font-weight="bold" fill="#111" stroke="#111" stroke-width="0.3">10<tspan dy="-1.8" font-size="3.9">0</tspan></text>
<text transform="translate(142.5 248.6) rotate(-90)" font-size="5.4" letter-spacing="0.2" font-family='"Liberation Serif", serif' font-weight="bold" fill="#111" stroke="#111" stroke-width="0.3">10<tspan dy="-1.8" font-size="3.9">0</tspan></text>
<text x="166.4" y="252.1" font-size="5.4" letter-spacing="0.2" font-family='"Liberation Serif", serif' font-weight="bold" fill="#111" stroke="#111" stroke-width="0.3">10<tspan dy="-1.8" font-size="3.9">1</tspan></text>
<text transform="translate(142.5 227) rotate(-90)" font-size="5.4" letter-spacing="0.2" font-family='"Liberation Serif", serif' font-weight="bold" fill="#111" stroke="#111" stroke-width="0.3">10<tspan dy="-1.8" font-size="3.9">1</tspan></text>
<text x="189" y="252.1" font-size="5.4" letter-spacing="0.2" font-family='"Liberation Serif", serif' font-weight="bold" fill="#111" stroke="#111" stroke-width="0.3">10<tspan dy="-1.8" font-size="3.9">2</tspan></text>
<text transform="translate(142.5 205.5) rotate(-90)" font-size="5.4" letter-spacing="0.2" font-family='"Liberation Serif", serif' font-weight="bold" fill="#111" stroke="#111" stroke-width="0.3">10<tspan dy="-1.8" font-size="3.9">2</tspan></text>
<text x="211.5" y="252.1" font-size="5.4" letter-spacing="0.2" font-family='"Liberation Serif", serif' font-weight="bold" fill="#111" stroke="#111" stroke-width="0.3">10<tspan dy="-1.8" font-size="3.9">3</tspan></text>
<text transform="translate(142.5 183.9) rotate(-90)" font-size="5.4" letter-spacing="0.2" font-family='"Liberation Serif", serif' font-weight="bold" fill="#111" stroke="#111" stroke-width="0.3">10<tspan dy="-1.8" font-size="3.9">3</tspan></text>
<text x="234" y="252.1" font-size="5.4" letter-spacing="0.2" font-family='"Liberation Serif", serif' font-weight="bold" fill="#111" stroke="#111" stroke-width="0.3">10<tspan dy="-1.8" font-size="3.9">4</tspan></text>
<text transform="translate(142.5 162.3) rotate(-90)" font-size="5.4" letter-spacing="0.2" font-family='"Liberation Serif", serif' font-weight="bold" fill="#111" stroke="#111" stroke-width="0.3">10<tspan dy="-1.8" font-size="3.9">4</tspan></text>
<line x1="129.9" y1="162.2" x2="129.9" y2="188.4" stroke="#111" stroke-width="1"/>
<path d="M129.9 159.2L127.8 165.2L132 165.2Z" fill="#000"/>
<line x1="129.9" y1="217.6" x2="129.9" y2="243.5" stroke="#111" stroke-width="1"/>
<text transform="translate(132.9 202.6) rotate(-90)" text-anchor="middle" font-size="9.2" font-family='"Liberation Serif", serif' font-weight="bold" textLength="22" lengthAdjust="spacingAndGlyphs" fill="#000" stroke="#000" stroke-width="0.35">c-Kit</text>
<line x1="149.6" y1="259.3" x2="176.7" y2="259.3" stroke="#111" stroke-width="1"/>
<line x1="205.4" y1="259.3" x2="228.6" y2="259.3" stroke="#111" stroke-width="1"/>
<path d="M231.6 259.3L225.1 257.2L225.1 261.4Z" fill="#000"/>
<text x="191.5" y="262.5" text-anchor="middle" font-size="9.2" font-family='"Liberation Serif", serif' font-weight="bold" textLength="19.5" lengthAdjust="spacingAndGlyphs" fill="#000" stroke="#000" stroke-width="0.35">B220</text>
<rect x="298.7" y="159.6" width="87.6" height="85.4" fill="none" stroke="#333" stroke-width="1.5"/>
<line x1="347.8" y1="159.6" x2="347.8" y2="245" stroke="#444" stroke-width="1.5"/>
<line x1="298.7" y1="191.3" x2="386.3" y2="191.3" stroke="#444" stroke-width="1.5"/>
<path d="M298.7 245v2M298.7 245h-2M305.3 245v1.3M298.7 238.6h-1.3M309.1 245v1.3M298.7 234.8h-1.3M311.9 245v1.3M298.7 232.1h-1.3M314 245v1.3M298.7 230.1h-1.3M315.7 245v1.3M298.7 228.4h-1.3M317.2 245v1.3M298.7 227h-1.3M318.5 245v1.3M298.7 225.7h-1.3M319.6 245v1.3M298.7 224.6h-1.3M320.6 245v2M298.7 223.7h-2M327.2 245v1.3M298.7 217.2h-1.3M331 245v1.3M298.7 213.5h-1.3M333.8 245v1.3M298.7 210.8h-1.3M335.9 245v1.3M298.7 208.7h-1.3M337.6 245v1.3M298.7 207h-1.3M339.1 245v1.3M298.7 205.6h-1.3M340.4 245v1.3M298.7 204.4h-1.3M341.5 245v1.3M298.7 203.3h-1.3M342.5 245v2M298.7 202.3h-2M349.1 245v1.3M298.7 195.9h-1.3M352.9 245v1.3M298.7 192.1h-1.3M355.7 245v1.3M298.7 189.4h-1.3M357.8 245v1.3M298.7 187.4h-1.3M359.5 245v1.3M298.7 185.7h-1.3M361 245v1.3M298.7 184.3h-1.3M362.3 245v1.3M298.7 183h-1.3M363.4 245v1.3M298.7 181.9h-1.3M364.4 245v2M298.7 180.9h-2M371 245v1.3M298.7 174.5h-1.3M374.8 245v1.3M298.7 170.8h-1.3M377.6 245v1.3M298.7 168.1h-1.3M379.7 245v1.3M298.7 166h-1.3M381.4 245v1.3M298.7 164.3h-1.3M382.9 245v1.3M298.7 162.9h-1.3M384.2 245v1.3M298.7 161.7h-1.3M385.3 245v1.3M298.7 160.6h-1.3" stroke="#222" stroke-width="0.9" fill="none"/>
<text x="295.3" y="252.3" font-size="5.4" letter-spacing="0.2" font-family='"Liberation Serif", serif' font-weight="bold" fill="#111" stroke="#111" stroke-width="0.3">10<tspan dy="-1.8" font-size="3.9">0</tspan></text>
<text transform="translate(293.9 248.8) rotate(-90)" font-size="5.4" letter-spacing="0.2" font-family='"Liberation Serif", serif' font-weight="bold" fill="#111" stroke="#111" stroke-width="0.3">10<tspan dy="-1.8" font-size="3.9">0</tspan></text>
<text x="317.2" y="252.3" font-size="5.4" letter-spacing="0.2" font-family='"Liberation Serif", serif' font-weight="bold" fill="#111" stroke="#111" stroke-width="0.3">10<tspan dy="-1.8" font-size="3.9">1</tspan></text>
<text transform="translate(293.9 227.5) rotate(-90)" font-size="5.4" letter-spacing="0.2" font-family='"Liberation Serif", serif' font-weight="bold" fill="#111" stroke="#111" stroke-width="0.3">10<tspan dy="-1.8" font-size="3.9">1</tspan></text>
<text x="339.1" y="252.3" font-size="5.4" letter-spacing="0.2" font-family='"Liberation Serif", serif' font-weight="bold" fill="#111" stroke="#111" stroke-width="0.3">10<tspan dy="-1.8" font-size="3.9">2</tspan></text>
<text transform="translate(293.9 206.1) rotate(-90)" font-size="5.4" letter-spacing="0.2" font-family='"Liberation Serif", serif' font-weight="bold" fill="#111" stroke="#111" stroke-width="0.3">10<tspan dy="-1.8" font-size="3.9">2</tspan></text>
<text x="361" y="252.3" font-size="5.4" letter-spacing="0.2" font-family='"Liberation Serif", serif' font-weight="bold" fill="#111" stroke="#111" stroke-width="0.3">10<tspan dy="-1.8" font-size="3.9">3</tspan></text>
<text transform="translate(293.9 184.8) rotate(-90)" font-size="5.4" letter-spacing="0.2" font-family='"Liberation Serif", serif' font-weight="bold" fill="#111" stroke="#111" stroke-width="0.3">10<tspan dy="-1.8" font-size="3.9">3</tspan></text>
<text x="382.9" y="252.3" font-size="5.4" letter-spacing="0.2" font-family='"Liberation Serif", serif' font-weight="bold" fill="#111" stroke="#111" stroke-width="0.3">10<tspan dy="-1.8" font-size="3.9">4</tspan></text>
<text transform="translate(293.9 163.4) rotate(-90)" font-size="5.4" letter-spacing="0.2" font-family='"Liberation Serif", serif' font-weight="bold" fill="#111" stroke="#111" stroke-width="0.3">10<tspan dy="-1.8" font-size="3.9">4</tspan></text>
<line x1="280.2" y1="165.5" x2="280.2" y2="191.4" stroke="#111" stroke-width="1"/>
<path d="M280.2 162.5L278.1 168.5L282.3 168.5Z" fill="#000"/>
<line x1="280.2" y1="217" x2="280.2" y2="240.6" stroke="#111" stroke-width="1"/>
<text transform="translate(283.2 203.3) rotate(-90)" text-anchor="middle" font-size="9.2" font-family='"Liberation Serif", serif' font-weight="bold" textLength="17" lengthAdjust="spacingAndGlyphs" fill="#000" stroke="#000" stroke-width="0.35">CD8</text>
<line x1="299.3" y1="259.4" x2="328" y2="259.4" stroke="#111" stroke-width="1"/>
<line x1="354.5" y1="259.4" x2="378.6" y2="259.4" stroke="#111" stroke-width="1"/>
<path d="M381.6 259.4L375.1 257.3L375.1 261.5Z" fill="#000"/>
<text x="340.6" y="262.6" text-anchor="middle" font-size="9.2" font-family='"Liberation Serif", serif' font-weight="bold" textLength="17.8" lengthAdjust="spacingAndGlyphs" fill="#000" stroke="#000" stroke-width="0.35">CD4</text>
<rect x="428.3" y="159.7" width="87.7" height="85.6" fill="none" stroke="#333" stroke-width="1.5"/>
<line x1="461.5" y1="159.7" x2="461.5" y2="245.3" stroke="#444" stroke-width="1.5"/>
<line x1="428.3" y1="188.2" x2="516" y2="188.2" stroke="#444" stroke-width="1.5"/>
<path d="M428.3 245.3v2M428.3 245.3h-2M434.9 245.3v1.3M428.3 238.9h-1.3M438.8 245.3v1.3M428.3 235.1h-1.3M441.5 245.3v1.3M428.3 232.4h-1.3M443.6 245.3v1.3M428.3 230.3h-1.3M445.4 245.3v1.3M428.3 228.6h-1.3M446.8 245.3v1.3M428.3 227.2h-1.3M448.1 245.3v1.3M428.3 226h-1.3M449.2 245.3v1.3M428.3 224.9h-1.3M450.2 245.3v2M428.3 223.9h-2M456.8 245.3v1.3M428.3 217.5h-1.3M460.7 245.3v1.3M428.3 213.7h-1.3M463.4 245.3v1.3M428.3 211h-1.3M465.5 245.3v1.3M428.3 208.9h-1.3M467.3 245.3v1.3M428.3 207.2h-1.3M468.8 245.3v1.3M428.3 205.8h-1.3M470 245.3v1.3M428.3 204.6h-1.3M471.1 245.3v1.3M428.3 203.5h-1.3M472.1 245.3v2M428.3 202.5h-2M478.8 245.3v1.3M428.3 196.1h-1.3M482.6 245.3v1.3M428.3 192.3h-1.3M485.4 245.3v1.3M428.3 189.6h-1.3M487.5 245.3v1.3M428.3 187.5h-1.3M489.2 245.3v1.3M428.3 185.8h-1.3M490.7 245.3v1.3M428.3 184.4h-1.3M492 245.3v1.3M428.3 183.2h-1.3M493.1 245.3v1.3M428.3 182.1h-1.3M494.1 245.3v2M428.3 181.1h-2M500.7 245.3v1.3M428.3 174.7h-1.3M504.5 245.3v1.3M428.3 170.9h-1.3M507.3 245.3v1.3M428.3 168.2h-1.3M509.4 245.3v1.3M428.3 166.1h-1.3M511.1 245.3v1.3M428.3 164.4h-1.3M512.6 245.3v1.3M428.3 163h-1.3M513.9 245.3v1.3M428.3 161.8h-1.3M515 245.3v1.3M428.3 160.7h-1.3" stroke="#222" stroke-width="0.9" fill="none"/>
<text x="424.9" y="252.6" font-size="5.4" letter-spacing="0.2" font-family='"Liberation Serif", serif' font-weight="bold" fill="#111" stroke="#111" stroke-width="0.3">10<tspan dy="-1.8" font-size="3.9">0</tspan></text>
<text transform="translate(423.5 249.1) rotate(-90)" font-size="5.4" letter-spacing="0.2" font-family='"Liberation Serif", serif' font-weight="bold" fill="#111" stroke="#111" stroke-width="0.3">10<tspan dy="-1.8" font-size="3.9">0</tspan></text>
<text x="446.8" y="252.6" font-size="5.4" letter-spacing="0.2" font-family='"Liberation Serif", serif' font-weight="bold" fill="#111" stroke="#111" stroke-width="0.3">10<tspan dy="-1.8" font-size="3.9">1</tspan></text>
<text transform="translate(423.5 227.7) rotate(-90)" font-size="5.4" letter-spacing="0.2" font-family='"Liberation Serif", serif' font-weight="bold" fill="#111" stroke="#111" stroke-width="0.3">10<tspan dy="-1.8" font-size="3.9">1</tspan></text>
<text x="468.8" y="252.6" font-size="5.4" letter-spacing="0.2" font-family='"Liberation Serif", serif' font-weight="bold" fill="#111" stroke="#111" stroke-width="0.3">10<tspan dy="-1.8" font-size="3.9">2</tspan></text>
<text transform="translate(423.5 206.3) rotate(-90)" font-size="5.4" letter-spacing="0.2" font-family='"Liberation Serif", serif' font-weight="bold" fill="#111" stroke="#111" stroke-width="0.3">10<tspan dy="-1.8" font-size="3.9">2</tspan></text>
<text x="490.7" y="252.6" font-size="5.4" letter-spacing="0.2" font-family='"Liberation Serif", serif' font-weight="bold" fill="#111" stroke="#111" stroke-width="0.3">10<tspan dy="-1.8" font-size="3.9">3</tspan></text>
<text transform="translate(423.5 184.9) rotate(-90)" font-size="5.4" letter-spacing="0.2" font-family='"Liberation Serif", serif' font-weight="bold" fill="#111" stroke="#111" stroke-width="0.3">10<tspan dy="-1.8" font-size="3.9">3</tspan></text>
<text x="512.6" y="252.6" font-size="5.4" letter-spacing="0.2" font-family='"Liberation Serif", serif' font-weight="bold" fill="#111" stroke="#111" stroke-width="0.3">10<tspan dy="-1.8" font-size="3.9">4</tspan></text>
<text transform="translate(423.5 163.5) rotate(-90)" font-size="5.4" letter-spacing="0.2" font-family='"Liberation Serif", serif' font-weight="bold" fill="#111" stroke="#111" stroke-width="0.3">10<tspan dy="-1.8" font-size="3.9">4</tspan></text>
<line x1="410.7" y1="162.8" x2="410.7" y2="180.7" stroke="#111" stroke-width="1"/>
<path d="M410.7 159.8L408.6 165.8L412.8 165.8Z" fill="#000"/>
<line x1="410.7" y1="224.5" x2="410.7" y2="244" stroke="#111" stroke-width="1"/>
<text transform="translate(413.7 202.2) rotate(-90)" text-anchor="middle" font-size="9.2" font-family='"Liberation Serif", serif' font-weight="bold" textLength="37.6" lengthAdjust="spacingAndGlyphs" fill="#000" stroke="#000" stroke-width="0.35">CD4/CD8</text>
<line x1="430.5" y1="258.9" x2="458.5" y2="258.9" stroke="#111" stroke-width="1"/>
<line x1="485.5" y1="258.9" x2="510.4" y2="258.9" stroke="#111" stroke-width="1"/>
<path d="M513.4 258.9L506.9 256.8L506.9 261Z" fill="#000"/>
<text x="471.5" y="262.1" text-anchor="middle" font-size="9.2" font-family='"Liberation Serif", serif' font-weight="bold" textLength="24.6" lengthAdjust="spacingAndGlyphs" fill="#000" stroke="#000" stroke-width="0.35">TCRβ</text>
<rect x="18" y="309.6" width="90.4" height="85.4" fill="none" stroke="#333" stroke-width="1.5"/>
<line x1="49.6" y1="309.6" x2="49.6" y2="395" stroke="#444" stroke-width="1.5"/>
<line x1="18" y1="370.5" x2="108.4" y2="370.5" stroke="#444" stroke-width="1.5"/>
<path d="M18 395v2M18 395h-2M24.8 395v1.3M18 388.6h-1.3M28.8 395v1.3M18 384.8h-1.3M31.6 395v1.3M18 382.1h-1.3M33.8 395v1.3M18 380.1h-1.3M35.6 395v1.3M18 378.4h-1.3M37.1 395v1.3M18 377h-1.3M38.4 395v1.3M18 375.7h-1.3M39.6 395v1.3M18 374.6h-1.3M40.6 395v2M18 373.6h-2M47.4 395v1.3M18 367.2h-1.3M51.4 395v1.3M18 363.5h-1.3M54.2 395v1.3M18 360.8h-1.3M56.4 395v1.3M18 358.7h-1.3M58.2 395v1.3M18 357h-1.3M59.7 395v1.3M18 355.6h-1.3M61 395v1.3M18 354.4h-1.3M62.2 395v1.3M18 353.3h-1.3M63.2 395v2M18 352.3h-2M70 395v1.3M18 345.9h-1.3M74 395v1.3M18 342.1h-1.3M76.8 395v1.3M18 339.4h-1.3M79 395v1.3M18 337.4h-1.3M80.8 395v1.3M18 335.7h-1.3M82.3 395v1.3M18 334.3h-1.3M83.6 395v1.3M18 333h-1.3M84.8 395v1.3M18 331.9h-1.3M85.8 395v2M18 331h-2M92.6 395v1.3M18 324.5h-1.3M96.6 395v1.3M18 320.8h-1.3M99.4 395v1.3M18 318.1h-1.3M101.6 395v1.3M18 316h-1.3M103.4 395v1.3M18 314.3h-1.3M104.9 395v1.3M18 312.9h-1.3M106.2 395v1.3M18 311.7h-1.3M107.4 395v1.3M18 310.6h-1.3" stroke="#222" stroke-width="0.9" fill="none"/>
<text x="14.6" y="401.6" font-size="5.4" letter-spacing="0.2" font-family='"Liberation Serif", serif' font-weight="bold" fill="#111" stroke="#111" stroke-width="0.3">10<tspan dy="-1.8" font-size="3.9">0</tspan></text>
<text transform="translate(13.2 398.8) rotate(-90)" font-size="5.4" letter-spacing="0.2" font-family='"Liberation Serif", serif' font-weight="bold" fill="#111" stroke="#111" stroke-width="0.3">10<tspan dy="-1.8" font-size="3.9">0</tspan></text>
<text x="37.2" y="401.6" font-size="5.4" letter-spacing="0.2" font-family='"Liberation Serif", serif' font-weight="bold" fill="#111" stroke="#111" stroke-width="0.3">10<tspan dy="-1.8" font-size="3.9">1</tspan></text>
<text transform="translate(13.2 377.4) rotate(-90)" font-size="5.4" letter-spacing="0.2" font-family='"Liberation Serif", serif' font-weight="bold" fill="#111" stroke="#111" stroke-width="0.3">10<tspan dy="-1.8" font-size="3.9">1</tspan></text>
<text x="59.8" y="401.6" font-size="5.4" letter-spacing="0.2" font-family='"Liberation Serif", serif' font-weight="bold" fill="#111" stroke="#111" stroke-width="0.3">10<tspan dy="-1.8" font-size="3.9">2</tspan></text>
<text transform="translate(13.2 356.1) rotate(-90)" font-size="5.4" letter-spacing="0.2" font-family='"Liberation Serif", serif' font-weight="bold" fill="#111" stroke="#111" stroke-width="0.3">10<tspan dy="-1.8" font-size="3.9">2</tspan></text>
<text x="82.4" y="401.6" font-size="5.4" letter-spacing="0.2" font-family='"Liberation Serif", serif' font-weight="bold" fill="#111" stroke="#111" stroke-width="0.3">10<tspan dy="-1.8" font-size="3.9">3</tspan></text>
<text transform="translate(13.2 334.8) rotate(-90)" font-size="5.4" letter-spacing="0.2" font-family='"Liberation Serif", serif' font-weight="bold" fill="#111" stroke="#111" stroke-width="0.3">10<tspan dy="-1.8" font-size="3.9">3</tspan></text>
<text x="105" y="401.6" font-size="5.4" letter-spacing="0.2" font-family='"Liberation Serif", serif' font-weight="bold" fill="#111" stroke="#111" stroke-width="0.3">10<tspan dy="-1.8" font-size="3.9">4</tspan></text>
<text transform="translate(13.2 313.4) rotate(-90)" font-size="5.4" letter-spacing="0.2" font-family='"Liberation Serif", serif' font-weight="bold" fill="#111" stroke="#111" stroke-width="0.3">10<tspan dy="-1.8" font-size="3.9">4</tspan></text>
<line x1="4.4" y1="316.3" x2="4.4" y2="341.5" stroke="#111" stroke-width="1"/>
<path d="M4.4 313.3L2.3 319.3L6.5 319.3Z" fill="#000"/>
<line x1="4.4" y1="366.4" x2="4.4" y2="395" stroke="#111" stroke-width="1"/>
<text transform="translate(7.4 354.4) rotate(-90)" text-anchor="middle" font-size="9.2" font-family='"Liberation Serif", serif' font-weight="bold" textLength="16.5" lengthAdjust="spacingAndGlyphs" fill="#000" stroke="#000" stroke-width="0.35">CD3</text>
<line x1="20.8" y1="409.2" x2="49.2" y2="409.2" stroke="#111" stroke-width="1"/>
<line x1="79" y1="409.2" x2="103.7" y2="409.2" stroke="#111" stroke-width="1"/>
<path d="M106.7 409.2L100.2 407.1L100.2 411.3Z" fill="#000"/>
<text x="63.3" y="412.4" text-anchor="middle" font-size="9.2" font-family='"Liberation Serif", serif' font-weight="bold" textLength="25" lengthAdjust="spacingAndGlyphs" fill="#000" stroke="#000" stroke-width="0.35">NK1.1</text>
<rect x="146.8" y="309.6" width="90.5" height="85.6" fill="none" stroke="#333" stroke-width="1.5"/>
<line x1="178.5" y1="309.6" x2="178.5" y2="395.2" stroke="#444" stroke-width="1.5"/>
<line x1="146.8" y1="365.8" x2="237.3" y2="365.8" stroke="#444" stroke-width="1.5"/>
<path d="M146.8 395.2v2M146.8 395.2h-2M153.6 395.2v1.3M146.8 388.8h-1.3M157.6 395.2v1.3M146.8 385h-1.3M160.4 395.2v1.3M146.8 382.3h-1.3M162.6 395.2v1.3M146.8 380.2h-1.3M164.4 395.2v1.3M146.8 378.5h-1.3M165.9 395.2v1.3M146.8 377.1h-1.3M167.2 395.2v1.3M146.8 375.9h-1.3M168.4 395.2v1.3M146.8 374.8h-1.3M169.4 395.2v2M146.8 373.8h-2M176.2 395.2v1.3M146.8 367.4h-1.3M180.2 395.2v1.3M146.8 363.6h-1.3M183 395.2v1.3M146.8 360.9h-1.3M185.2 395.2v1.3M146.8 358.8h-1.3M187 395.2v1.3M146.8 357.1h-1.3M188.5 395.2v1.3M146.8 355.7h-1.3M189.9 395.2v1.3M146.8 354.5h-1.3M191 395.2v1.3M146.8 353.4h-1.3M192.1 395.2v2M146.8 352.4h-2M198.9 395.2v1.3M146.8 346h-1.3M202.8 395.2v1.3M146.8 342.2h-1.3M205.7 395.2v1.3M146.8 339.5h-1.3M207.9 395.2v1.3M146.8 337.4h-1.3M209.7 395.2v1.3M146.8 335.7h-1.3M211.2 395.2v1.3M146.8 334.3h-1.3M212.5 395.2v1.3M146.8 333.1h-1.3M213.6 395.2v1.3M146.8 332h-1.3M214.7 395.2v2M146.8 331h-2M221.5 395.2v1.3M146.8 324.6h-1.3M225.5 395.2v1.3M146.8 320.8h-1.3M228.3 395.2v1.3M146.8 318.1h-1.3M230.5 395.2v1.3M146.8 316h-1.3M232.3 395.2v1.3M146.8 314.3h-1.3M233.8 395.2v1.3M146.8 312.9h-1.3M235.1 395.2v1.3M146.8 311.7h-1.3M236.3 395.2v1.3M146.8 310.6h-1.3" stroke="#222" stroke-width="0.9" fill="none"/>
<text x="143.4" y="401.8" font-size="5.4" letter-spacing="0.2" font-family='"Liberation Serif", serif' font-weight="bold" fill="#111" stroke="#111" stroke-width="0.3">10<tspan dy="-1.8" font-size="3.9">0</tspan></text>
<text transform="translate(142 399) rotate(-90)" font-size="5.4" letter-spacing="0.2" font-family='"Liberation Serif", serif' font-weight="bold" fill="#111" stroke="#111" stroke-width="0.3">10<tspan dy="-1.8" font-size="3.9">0</tspan></text>
<text x="166" y="401.8" font-size="5.4" letter-spacing="0.2" font-family='"Liberation Serif", serif' font-weight="bold" fill="#111" stroke="#111" stroke-width="0.3">10<tspan dy="-1.8" font-size="3.9">1</tspan></text>
<text transform="translate(142 377.6) rotate(-90)" font-size="5.4" letter-spacing="0.2" font-family='"Liberation Serif", serif' font-weight="bold" fill="#111" stroke="#111" stroke-width="0.3">10<tspan dy="-1.8" font-size="3.9">1</tspan></text>
<text x="188.7" y="401.8" font-size="5.4" letter-spacing="0.2" font-family='"Liberation Serif", serif' font-weight="bold" fill="#111" stroke="#111" stroke-width="0.3">10<tspan dy="-1.8" font-size="3.9">2</tspan></text>
<text transform="translate(142 356.2) rotate(-90)" font-size="5.4" letter-spacing="0.2" font-family='"Liberation Serif", serif' font-weight="bold" fill="#111" stroke="#111" stroke-width="0.3">10<tspan dy="-1.8" font-size="3.9">2</tspan></text>
<text x="211.3" y="401.8" font-size="5.4" letter-spacing="0.2" font-family='"Liberation Serif", serif' font-weight="bold" fill="#111" stroke="#111" stroke-width="0.3">10<tspan dy="-1.8" font-size="3.9">3</tspan></text>
<text transform="translate(142 334.8) rotate(-90)" font-size="5.4" letter-spacing="0.2" font-family='"Liberation Serif", serif' font-weight="bold" fill="#111" stroke="#111" stroke-width="0.3">10<tspan dy="-1.8" font-size="3.9">3</tspan></text>
<text x="233.9" y="401.8" font-size="5.4" letter-spacing="0.2" font-family='"Liberation Serif", serif' font-weight="bold" fill="#111" stroke="#111" stroke-width="0.3">10<tspan dy="-1.8" font-size="3.9">4</tspan></text>
<text transform="translate(142 313.4) rotate(-90)" font-size="5.4" letter-spacing="0.2" font-family='"Liberation Serif", serif' font-weight="bold" fill="#111" stroke="#111" stroke-width="0.3">10<tspan dy="-1.8" font-size="3.9">4</tspan></text>
<line x1="130.6" y1="317" x2="130.6" y2="330.6" stroke="#111" stroke-width="1"/>
<path d="M130.6 314L128.5 320L132.7 320Z" fill="#000"/>
<line x1="130.6" y1="374" x2="130.6" y2="391.7" stroke="#111" stroke-width="1"/>
<text transform="translate(133.6 351.7) rotate(-90)" text-anchor="middle" font-size="9.2" font-family='"Liberation Serif", serif' font-weight="bold" textLength="36.5" lengthAdjust="spacingAndGlyphs" fill="#000" stroke="#000" stroke-width="0.35">CD4/CD8</text>
<line x1="147.5" y1="409.2" x2="171.7" y2="409.2" stroke="#111" stroke-width="1"/>
<line x1="214" y1="409.2" x2="232.8" y2="409.2" stroke="#111" stroke-width="1"/>
<path d="M235.8 409.2L229.3 407.1L229.3 411.3Z" fill="#000"/>
<text x="191.6" y="412.4" text-anchor="middle" font-size="9.2" font-family='"Liberation Serif", serif' font-weight="bold" textLength="31.7" lengthAdjust="spacingAndGlyphs" fill="#000" stroke="#000" stroke-width="0.35">TCR <tspan font-weight="normal" stroke-width="0.1">γ/δ</tspan></text>
<rect x="279.1" y="309.4" width="90.7" height="86.2" fill="none" stroke="#333" stroke-width="1.5"/>
<line x1="323.7" y1="309.4" x2="323.7" y2="395.6" stroke="#444" stroke-width="1.5"/>
<line x1="279.1" y1="342.2" x2="369.8" y2="342.2" stroke="#444" stroke-width="1.5"/>
<path d="M279.1 395.6v2M279.1 395.6h-2M285.9 395.6v1.3M279.1 389.1h-1.3M289.9 395.6v1.3M279.1 385.3h-1.3M292.8 395.6v1.3M279.1 382.6h-1.3M294.9 395.6v1.3M279.1 380.5h-1.3M296.7 395.6v1.3M279.1 378.8h-1.3M298.3 395.6v1.3M279.1 377.4h-1.3M299.6 395.6v1.3M279.1 376.1h-1.3M300.7 395.6v1.3M279.1 375h-1.3M301.8 395.6v2M279.1 374.1h-2M308.6 395.6v1.3M279.1 367.6h-1.3M312.6 395.6v1.3M279.1 363.8h-1.3M315.4 395.6v1.3M279.1 361.1h-1.3M317.6 395.6v1.3M279.1 359h-1.3M319.4 395.6v1.3M279.1 357.3h-1.3M320.9 395.6v1.3M279.1 355.8h-1.3M322.3 395.6v1.3M279.1 354.6h-1.3M323.4 395.6v1.3M279.1 353.5h-1.3M324.5 395.6v2M279.1 352.5h-2M331.3 395.6v1.3M279.1 346h-1.3M335.3 395.6v1.3M279.1 342.2h-1.3M338.1 395.6v1.3M279.1 339.5h-1.3M340.3 395.6v1.3M279.1 337.4h-1.3M342.1 395.6v1.3M279.1 335.7h-1.3M343.6 395.6v1.3M279.1 334.3h-1.3M344.9 395.6v1.3M279.1 333h-1.3M346.1 395.6v1.3M279.1 331.9h-1.3M347.1 395.6v2M279.1 330.9h-2M354 395.6v1.3M279.1 324.5h-1.3M357.9 395.6v1.3M279.1 320.7h-1.3M360.8 395.6v1.3M279.1 318h-1.3M363 395.6v1.3M279.1 315.9h-1.3M364.8 395.6v1.3M279.1 314.2h-1.3M366.3 395.6v1.3M279.1 312.7h-1.3M367.6 395.6v1.3M279.1 311.5h-1.3M368.8 395.6v1.3M279.1 310.4h-1.3" stroke="#222" stroke-width="0.9" fill="none"/>
<text x="275.7" y="402.2" font-size="5.4" letter-spacing="0.2" font-family='"Liberation Serif", serif' font-weight="bold" fill="#111" stroke="#111" stroke-width="0.3">10<tspan dy="-1.8" font-size="3.9">0</tspan></text>
<text transform="translate(274.3 399.4) rotate(-90)" font-size="5.4" letter-spacing="0.2" font-family='"Liberation Serif", serif' font-weight="bold" fill="#111" stroke="#111" stroke-width="0.3">10<tspan dy="-1.8" font-size="3.9">0</tspan></text>
<text x="298.4" y="402.2" font-size="5.4" letter-spacing="0.2" font-family='"Liberation Serif", serif' font-weight="bold" fill="#111" stroke="#111" stroke-width="0.3">10<tspan dy="-1.8" font-size="3.9">1</tspan></text>
<text transform="translate(274.3 377.9) rotate(-90)" font-size="5.4" letter-spacing="0.2" font-family='"Liberation Serif", serif' font-weight="bold" fill="#111" stroke="#111" stroke-width="0.3">10<tspan dy="-1.8" font-size="3.9">1</tspan></text>
<text x="321.1" y="402.2" font-size="5.4" letter-spacing="0.2" font-family='"Liberation Serif", serif' font-weight="bold" fill="#111" stroke="#111" stroke-width="0.3">10<tspan dy="-1.8" font-size="3.9">2</tspan></text>
<text transform="translate(274.3 356.3) rotate(-90)" font-size="5.4" letter-spacing="0.2" font-family='"Liberation Serif", serif' font-weight="bold" fill="#111" stroke="#111" stroke-width="0.3">10<tspan dy="-1.8" font-size="3.9">2</tspan></text>
<text x="343.7" y="402.2" font-size="5.4" letter-spacing="0.2" font-family='"Liberation Serif", serif' font-weight="bold" fill="#111" stroke="#111" stroke-width="0.3">10<tspan dy="-1.8" font-size="3.9">3</tspan></text>
<text transform="translate(274.3 334.8) rotate(-90)" font-size="5.4" letter-spacing="0.2" font-family='"Liberation Serif", serif' font-weight="bold" fill="#111" stroke="#111" stroke-width="0.3">10<tspan dy="-1.8" font-size="3.9">3</tspan></text>
<text x="366.4" y="402.2" font-size="5.4" letter-spacing="0.2" font-family='"Liberation Serif", serif' font-weight="bold" fill="#111" stroke="#111" stroke-width="0.3">10<tspan dy="-1.8" font-size="3.9">4</tspan></text>
<text transform="translate(274.3 313.2) rotate(-90)" font-size="5.4" letter-spacing="0.2" font-family='"Liberation Serif", serif' font-weight="bold" fill="#111" stroke="#111" stroke-width="0.3">10<tspan dy="-1.8" font-size="3.9">4</tspan></text>
<line x1="260.5" y1="311.5" x2="260.5" y2="346" stroke="#111" stroke-width="1"/>
<path d="M260.5 308.5L258.4 314.5L262.6 314.5Z" fill="#000"/>
<line x1="260.5" y1="372.5" x2="260.5" y2="393" stroke="#111" stroke-width="1"/>
<text transform="translate(263.5 359.5) rotate(-90)" text-anchor="middle" font-size="9.2" font-family='"Liberation Serif", serif' font-weight="bold" textLength="22.5" lengthAdjust="spacingAndGlyphs" fill="#000" stroke="#000" stroke-width="0.35">CD11c</text>
<line x1="281.7" y1="409.2" x2="306.7" y2="409.2" stroke="#111" stroke-width="1"/>
<line x1="337.5" y1="409.2" x2="363.7" y2="409.2" stroke="#111" stroke-width="1"/>
<path d="M366.7 409.2L360.2 407.1L360.2 411.3Z" fill="#000"/>
<text x="322.8" y="412.4" text-anchor="middle" font-size="9.2" font-family='"Liberation Serif", serif' font-weight="bold" textLength="22.3" lengthAdjust="spacingAndGlyphs" fill="#000" stroke="#000" stroke-width="0.35">CD8<tspan font-weight="normal" stroke-width="0.1">α</tspan></text>
<rect x="425.9" y="308.4" width="90.2" height="87.9" fill="none" stroke="#333" stroke-width="1.5"/>
<line x1="459.3" y1="308.4" x2="459.3" y2="396.3" stroke="#444" stroke-width="1.5"/>
<line x1="425.9" y1="368" x2="516.1" y2="368" stroke="#444" stroke-width="1.5"/>
<path d="M425.9 396.3v2M425.9 396.3h-2M432.7 396.3v1.3M425.9 389.7h-1.3M436.7 396.3v1.3M425.9 385.8h-1.3M439.5 396.3v1.3M425.9 383.1h-1.3M441.7 396.3v1.3M425.9 380.9h-1.3M443.4 396.3v1.3M425.9 379.2h-1.3M445 396.3v1.3M425.9 377.7h-1.3M446.3 396.3v1.3M425.9 376.5h-1.3M447.4 396.3v1.3M425.9 375.3h-1.3M448.4 396.3v2M425.9 374.3h-2M455.2 396.3v1.3M425.9 367.7h-1.3M459.2 396.3v1.3M425.9 363.8h-1.3M462 396.3v1.3M425.9 361.1h-1.3M464.2 396.3v1.3M425.9 359h-1.3M466 396.3v1.3M425.9 357.2h-1.3M467.5 396.3v1.3M425.9 355.8h-1.3M468.8 396.3v1.3M425.9 354.5h-1.3M470 396.3v1.3M425.9 353.4h-1.3M471 396.3v2M425.9 352.4h-2M477.8 396.3v1.3M425.9 345.7h-1.3M481.8 396.3v1.3M425.9 341.9h-1.3M484.6 396.3v1.3M425.9 339.1h-1.3M486.8 396.3v1.3M425.9 337h-1.3M488.5 396.3v1.3M425.9 335.3h-1.3M490.1 396.3v1.3M425.9 333.8h-1.3M491.4 396.3v1.3M425.9 332.5h-1.3M492.5 396.3v1.3M425.9 331.4h-1.3M493.6 396.3v2M425.9 330.4h-2M500.3 396.3v1.3M425.9 323.8h-1.3M504.3 396.3v1.3M425.9 319.9h-1.3M507.1 396.3v1.3M425.9 317.1h-1.3M509.3 396.3v1.3M425.9 315h-1.3M511.1 396.3v1.3M425.9 313.3h-1.3M512.6 396.3v1.3M425.9 311.8h-1.3M513.9 396.3v1.3M425.9 310.5h-1.3M515.1 396.3v1.3M425.9 309.4h-1.3" stroke="#222" stroke-width="0.9" fill="none"/>
<text x="423.9" y="400.9" font-size="3.24" letter-spacing="0.2" font-family='"Liberation Serif", serif' font-weight="bold" fill="#111" stroke="#111" stroke-width="0.3">10<tspan dy="-1.08" font-size="2.34">0</tspan></text>
<text transform="translate(423.3 398.6) rotate(-90)" font-size="3.24" letter-spacing="0.2" font-family='"Liberation Serif", serif' font-weight="bold" fill="#111" stroke="#111" stroke-width="0.3">10<tspan dy="-1.08" font-size="2.34">0</tspan></text>
<text x="446.4" y="400.9" font-size="3.24" letter-spacing="0.2" font-family='"Liberation Serif", serif' font-weight="bold" fill="#111" stroke="#111" stroke-width="0.3">10<tspan dy="-1.08" font-size="2.34">1</tspan></text>
<text transform="translate(423.3 376.6) rotate(-90)" font-size="3.24" letter-spacing="0.2" font-family='"Liberation Serif", serif' font-weight="bold" fill="#111" stroke="#111" stroke-width="0.3">10<tspan dy="-1.08" font-size="2.34">1</tspan></text>
<text x="469" y="400.9" font-size="3.24" letter-spacing="0.2" font-family='"Liberation Serif", serif' font-weight="bold" fill="#111" stroke="#111" stroke-width="0.3">10<tspan dy="-1.08" font-size="2.34">2</tspan></text>
<text transform="translate(423.3 354.6) rotate(-90)" font-size="3.24" letter-spacing="0.2" font-family='"Liberation Serif", serif' font-weight="bold" fill="#111" stroke="#111" stroke-width="0.3">10<tspan dy="-1.08" font-size="2.34">2</tspan></text>
<text x="491.5" y="400.9" font-size="3.24" letter-spacing="0.2" font-family='"Liberation Serif", serif' font-weight="bold" fill="#111" stroke="#111" stroke-width="0.3">10<tspan dy="-1.08" font-size="2.34">3</tspan></text>
<text transform="translate(423.3 332.7) rotate(-90)" font-size="3.24" letter-spacing="0.2" font-family='"Liberation Serif", serif' font-weight="bold" fill="#111" stroke="#111" stroke-width="0.3">10<tspan dy="-1.08" font-size="2.34">3</tspan></text>
<text x="514.1" y="400.9" font-size="3.24" letter-spacing="0.2" font-family='"Liberation Serif", serif' font-weight="bold" fill="#111" stroke="#111" stroke-width="0.3">10<tspan dy="-1.08" font-size="2.34">4</tspan></text>
<text transform="translate(423.3 310.7) rotate(-90)" font-size="3.24" letter-spacing="0.2" font-family='"Liberation Serif", serif' font-weight="bold" fill="#111" stroke="#111" stroke-width="0.3">10<tspan dy="-1.08" font-size="2.34">4</tspan></text>
<line x1="412.6" y1="312" x2="412.6" y2="348" stroke="#111" stroke-width="1"/>
<path d="M412.6 309L410.5 315L414.7 315Z" fill="#000"/>
<line x1="412.6" y1="372" x2="412.6" y2="393.6" stroke="#111" stroke-width="1"/>
<text transform="translate(415.6 360) rotate(-90)" text-anchor="middle" font-size="9.2" font-family='"Liberation Serif", serif' font-weight="bold" textLength="18.8" lengthAdjust="spacingAndGlyphs" fill="#000" stroke="#000" stroke-width="0.35">Gr-1</text>
<line x1="429" y1="409.3" x2="453" y2="409.3" stroke="#111" stroke-width="1"/>
<line x1="484.8" y1="409.3" x2="510.4" y2="409.3" stroke="#111" stroke-width="1"/>
<path d="M513.4 409.3L506.9 407.2L506.9 411.4Z" fill="#000"/>
<text x="469" y="412.5" text-anchor="middle" font-size="9.2" font-family='"Liberation Serif", serif' font-weight="bold" textLength="24.3" lengthAdjust="spacingAndGlyphs" fill="#000" stroke="#000" stroke-width="0.35">Mac-1</text>
</svg></body></html>
